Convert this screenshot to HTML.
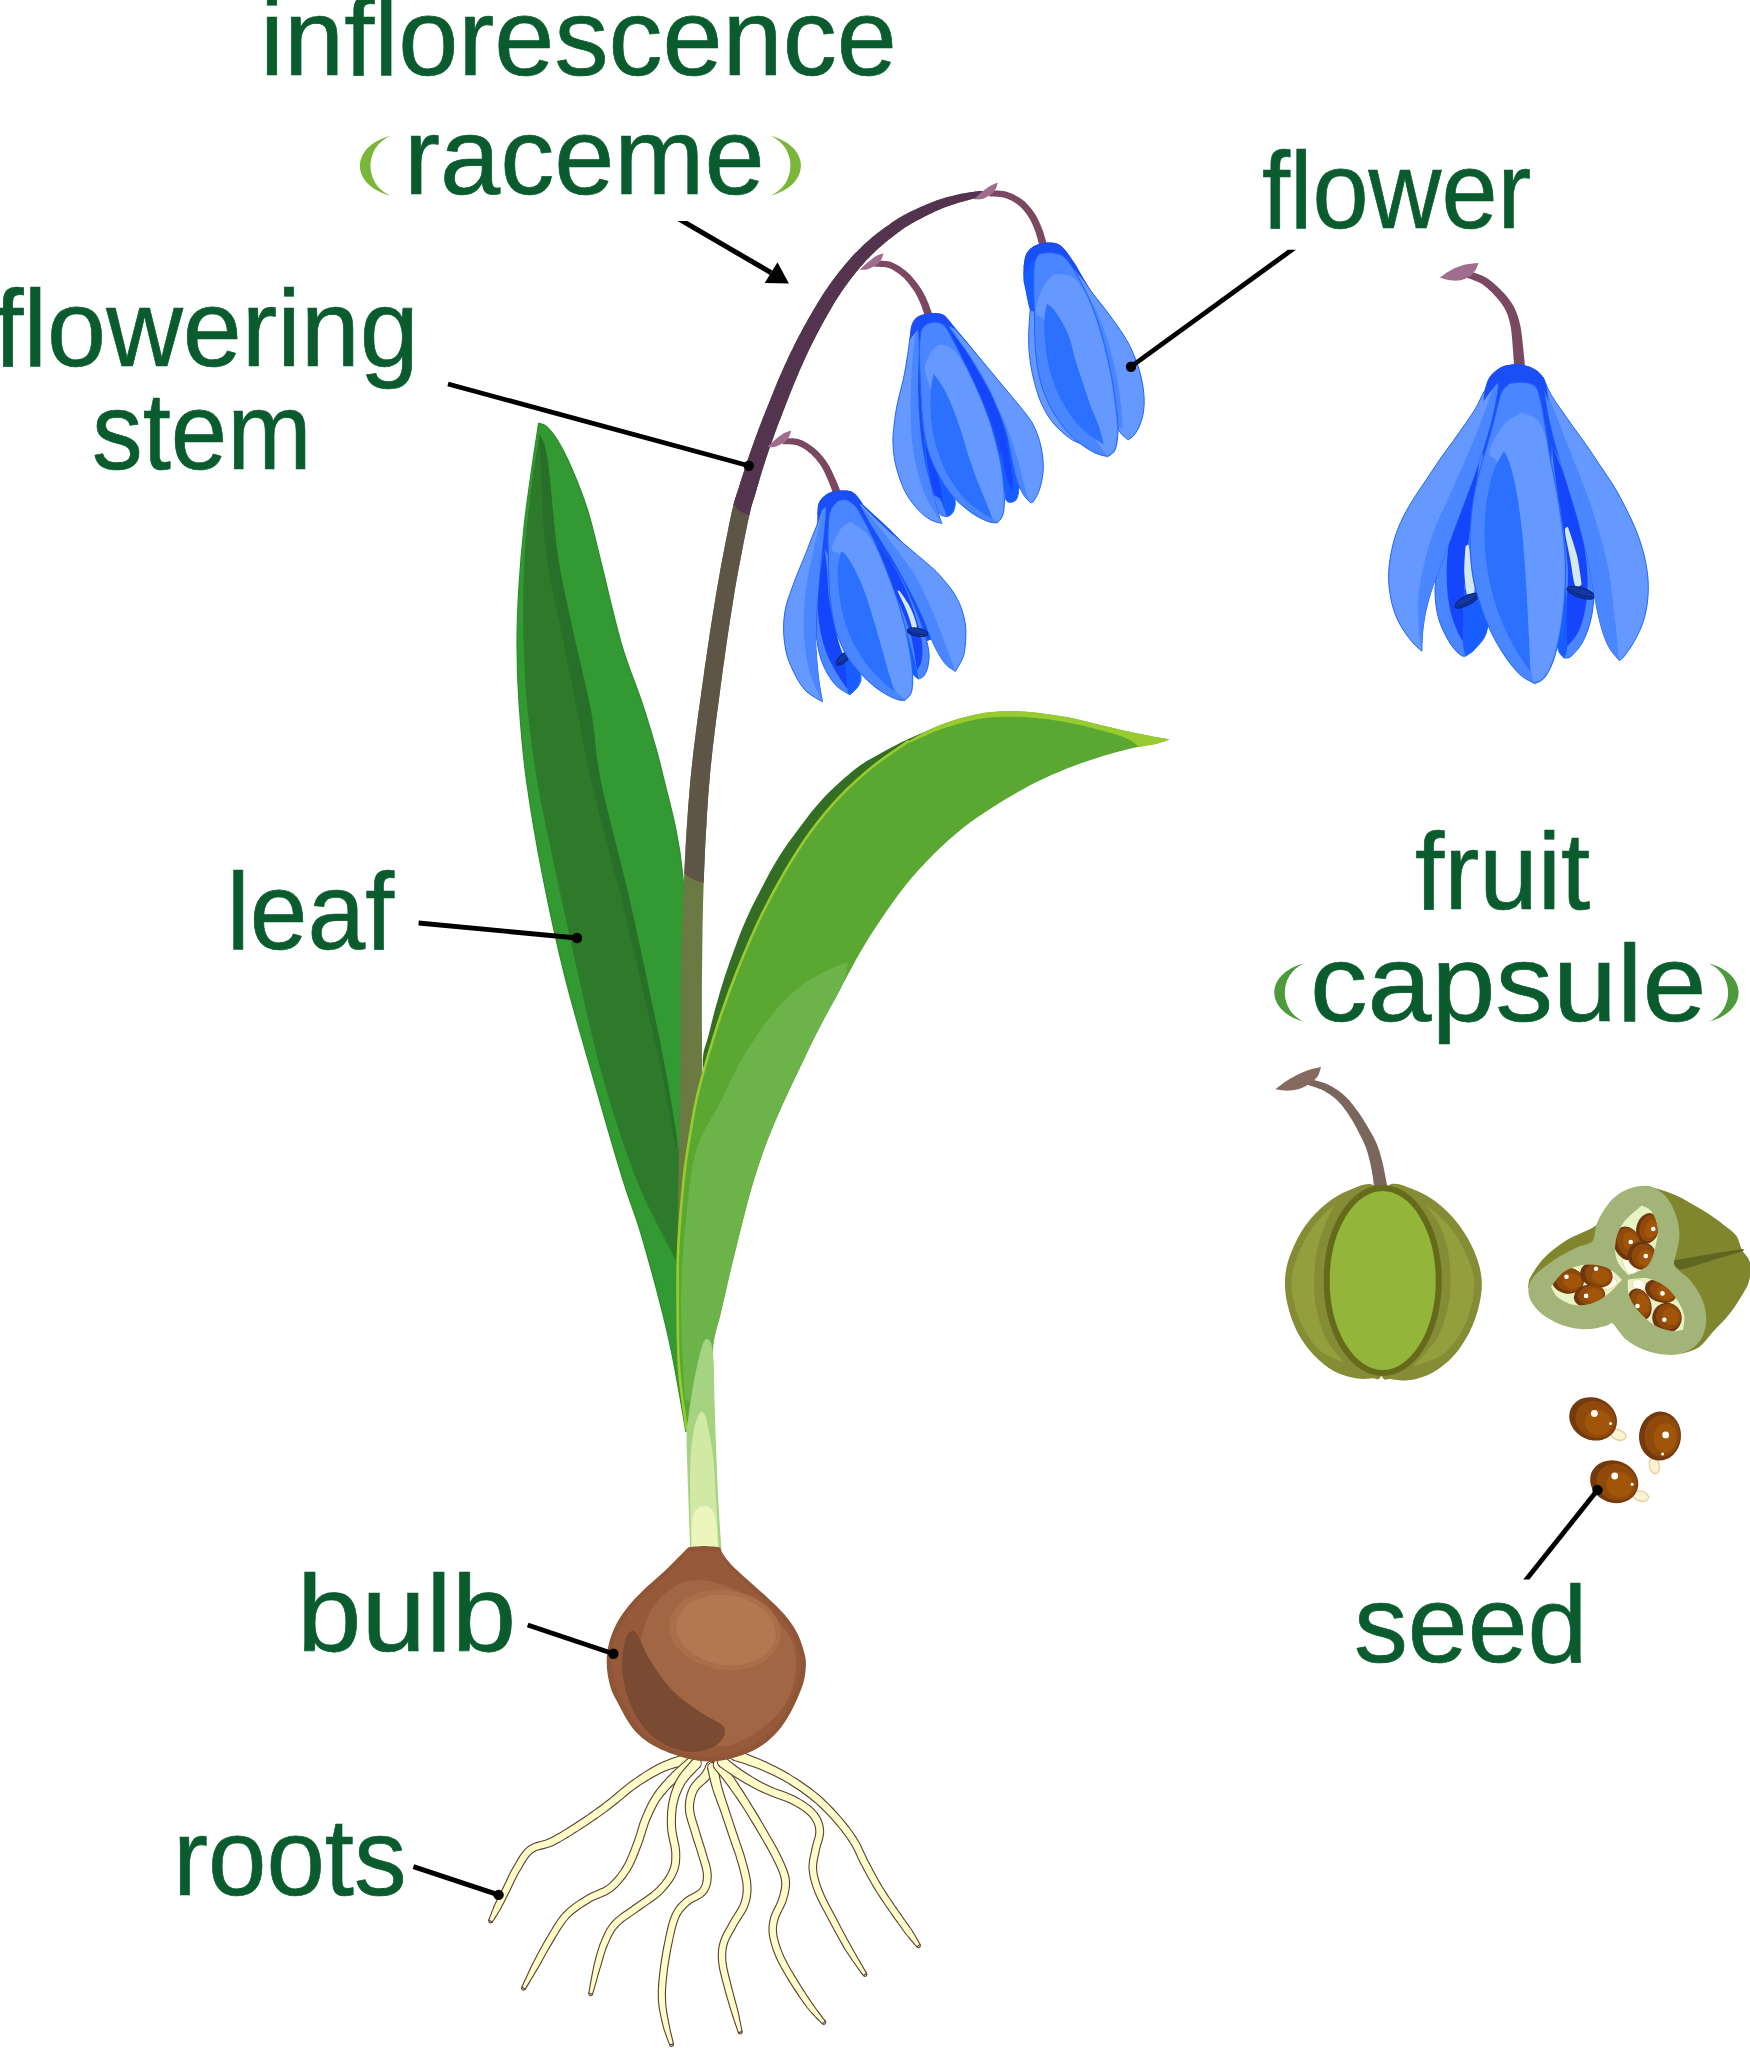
<!DOCTYPE html>
<html><head><meta charset="utf-8"><title>Parts of plant</title>
<style>
html,body{margin:0;padding:0;background:#fff;}
body{width:1750px;height:2048px;overflow:hidden;font-family:"Liberation Sans",sans-serif;}
svg{display:block;}
text{font-family:"Liberation Sans",sans-serif;fill:#0a5c2e;}
</style></head><body>
<svg width="1750" height="2048" viewBox="0 0 1750 2048">
<g id="leftleaf">
<path d="M686,1432C683.2,1416.7 676.3,1372.5 669,1340C661.7,1307.5 649.7,1263.7 642,1237C634.3,1210.3 631.4,1207.3 623,1180C614.6,1152.7 601.5,1107.2 591.8,1073C582,1038.8 572.6,1007.5 564.5,975C556.4,942.5 549.4,910.2 543,877.7C536.6,845.2 530.4,809.2 526.4,780C522.4,750.8 520.6,725.4 519,702.7C517.4,680 517,663.5 517,644C517,624.5 517.8,605 519,585.5C520.2,566 521.9,546.5 524,527C526.1,507.5 529.4,485.7 531.8,468.4C534.2,451.1 537.5,430.9 538.6,423.4C539.9,423.9 543.2,423.5 546.4,426.4C549.6,429.3 553.8,434 558,441C562.2,448 566.9,457 571.8,468.4C576.7,479.8 582.5,493.8 587.4,509.4C592.3,525 596.8,545.1 601,562C605.2,578.9 608.9,595.7 612.8,611C616.7,626.3 619.6,638.7 624.5,654C629.4,669.3 636.8,687.1 642,702.7C647.2,718.3 652.1,734.8 655.8,747.7C659.5,760.6 660.7,766.5 664,780C667.3,793.5 672.7,813.2 675.8,828.8C678.9,844.4 680.6,853.5 682.6,873.8C684.6,894 686.4,912.3 688,950C689.6,987.7 691.7,1050 692,1100C692.3,1150 690.8,1208.3 690,1250C689.2,1291.7 687.7,1319.7 687,1350C686.3,1380.3 686.2,1418.3 686,1432Z" fill="#339933" stroke="#2a8f2a" stroke-width="1.2"/>
<path d="M676.3,1261C669.7,1247.5 649.2,1211.3 636.7,1180C624.2,1148.7 612.1,1110.4 601.6,1073C591.1,1035.6 582.1,991.6 574,955.8C565.9,920 558.9,887.3 552.7,858C546.5,828.7 541.1,804.2 537,780C532.9,755.8 530.1,733.5 527.9,712.5C525.7,691.5 524.8,673.6 524,654C523.2,634.4 523.1,614.5 523.4,595C523.7,575.5 524.3,556.2 525.9,536.7C527.5,517.2 530.4,495.1 532.7,478C535,460.9 538.5,441.3 539.6,434C540.9,438.1 544.3,438.3 547.4,458.6C550.5,478.9 553.6,526.7 558,556C562.4,585.3 568.2,608.3 573.8,634.4C579.3,660.5 586.8,688.2 591.3,712.5C595.8,736.8 594.3,749.2 600.6,780C606.9,810.8 620,858 629,897C638,936 648.1,984.7 654.3,1014C660.5,1043.3 662.4,1053.4 666,1073C669.6,1092.6 673.3,1113.8 675.8,1131.6C678.2,1149.4 680.6,1158.4 680.7,1180C680.8,1201.6 677,1247.5 676.3,1261Z" fill="#2d7a2a"/>
<path d="M676,1150C673.7,1137.2 666.6,1095.7 662,1073C657.4,1050.3 655.2,1043.3 648.4,1014C641.6,984.7 630.6,936 621,897C611.4,858 598,810.8 590.8,780C583.6,749.2 582.5,736.8 577.7,712.5C572.9,688.2 567.2,660.5 562,634.4C556.8,608.3 550,585.3 546.4,556C542.8,526.7 541.6,478.9 540.5,458.6C539.4,438.3 539.8,438.1 539.6,434C540.9,438.1 544.3,438.3 547.4,458.6C550.5,478.9 553.6,526.7 558,556C562.4,585.3 568.2,608.3 573.8,634.4C579.3,660.5 586.8,688.2 591.3,712.5C595.8,736.8 594.3,749.2 600.6,780C606.9,810.8 620,858 629,897C638,936 648.1,984.7 654.3,1014C660.5,1043.3 662.4,1053.4 666,1073C669.6,1092.6 674.1,1118.8 675.8,1131.6C677.5,1144.4 676,1146.9 676,1150Z" fill="#28702a"/>
</g>
<clipPath id="cs1"><path d="M600,0H1100V505Q746,540 735,505L600,505Z"/></clipPath>
<clipPath id="cs2"><path d="M600,480H900V860Q700,905 682,870L600,860Z"/></clipPath>
<path d="M983.7,191.1L983.3,191L982.9,191L982.4,191L981.8,191L981.2,191L980.5,191.1L979.8,191.1L979,191.1L978.1,191.2L977.2,191.3L976.2,191.4L975.2,191.5L974.1,191.7L973,191.9L971.7,192L970.4,192.3L969,192.5L967.5,192.7L966,193L964.5,193.3L963,193.5L961.5,193.8L959.9,194.1L958.4,194.5L956.9,194.8L955.4,195.2L953.9,195.5L952.3,195.9L950.8,196.3L949.2,196.7L947.6,197.1L946,197.5L944.4,198L942.8,198.4L941.2,198.9L939.6,199.5L938,200L936.4,200.6L934.8,201.2L933.2,201.8L931.6,202.4L930,203L928.5,203.7L926.9,204.3L925.3,205L923.8,205.7L922.2,206.3L920.6,207L919.1,207.7L917.5,208.5L915.9,209.2L914.3,210L912.6,210.7L911,211.5L909.4,212.3L907.8,213.1L906.3,213.9L904.7,214.7L903.2,215.6L901.7,216.4L900.3,217.2L898.9,218.1L897.5,218.9L896.2,219.8L894.9,220.6L893.6,221.5L892.4,222.3L891.1,223.2L890,224L888.8,224.9L887.6,225.7L886.4,226.5L885.3,227.3L884.2,228.1L883,229L881.9,229.8L880.8,230.6L879.7,231.4L878.6,232.3L877.5,233.1L876.4,234L875.4,234.8L874.3,235.7L873.1,236.6L872,237.6L870.9,238.5L869.8,239.5L868.6,240.5L867.5,241.5L866.4,242.5L865.2,243.6L864.1,244.6L863,245.6L861.9,246.6L860.9,247.7L859.8,248.7L858.8,249.7L857.8,250.7L856.8,251.7L855.9,252.6L854.9,253.6L854,254.6L853,255.6L852.1,256.6L851.2,257.6L850.2,258.7L849.3,259.7L848.4,260.8L847.4,261.9L846.5,263L845.5,264.1L844.6,265.2L843.6,266.4L842.7,267.5L841.7,268.7L840.8,269.9L839.8,271.1L838.9,272.3L837.9,273.5L837,274.7L836,276L835,277.2L834.1,278.5L833.1,279.8L832.1,281.2L831.2,282.5L830.2,283.8L829.2,285.2L828.3,286.5L827.4,287.9L826.5,289.2L825.6,290.5L824.7,291.8L823.9,293.1L823,294.4L822.2,295.6L821.4,296.9L820.7,298.1L819.9,299.4L819.1,300.6L818.4,301.9L817.6,303.1L816.8,304.4L816.1,305.7L815.3,307L814.5,308.3L813.7,309.6L812.9,310.9L812.2,312.3L811.4,313.6L810.6,315L809.8,316.3L809,317.7L808.2,319.1L807.4,320.5L806.7,321.9L805.9,323.3L805.1,324.7L804.3,326.1L803.5,327.5L802.7,329L801.9,330.4L801.2,331.9L800.4,333.4L799.6,334.8L798.8,336.3L798,337.9L797.2,339.4L796.4,340.9L795.6,342.5L794.8,344.1L794.1,345.7L793.3,347.3L792.5,348.9L791.7,350.5L790.9,352.1L790.1,353.8L789.3,355.4L788.5,357.1L787.8,358.8L787,360.5L786.2,362.2L785.4,363.9L784.6,365.6L783.8,367.4L783,369.1L782.3,370.9L781.5,372.7L780.7,374.5L779.9,376.3L779.1,378.1L778.3,380L777.5,381.8L776.7,383.7L776,385.6L775.2,387.6L774.4,389.5L773.6,391.5L772.8,393.4L772,395.4L771.2,397.3L770.5,399.2L769.7,401.1L769,402.9L768.3,404.7L767.5,406.5L766.8,408.2L766.1,409.9L765.4,411.7L764.7,413.4L764.1,415.1L763.4,416.8L762.7,418.6L762,420.4L761.3,422.2L760.6,424L759.9,425.9L759.1,427.8L758.4,429.7L757.7,431.7L757,433.7L756.2,435.6L755.5,437.6L754.8,439.5L754.1,441.5L753.4,443.4L752.8,445.2L752.1,447L751.5,448.7L750.9,450.4L750.4,452L749.8,453.6L749.2,455.2L748.7,456.8L748.2,458.3L747.7,459.9L747.1,461.5L746.6,463.1L746.1,464.7L745.5,466.4L745,468L744.4,469.7L743.9,471.4L743.4,473.1L742.8,474.8L742.3,476.5L741.7,478.2L741.2,480L740.6,481.8L740.1,483.7L739.5,485.6L738.9,487.5L738.4,489.3L737.9,490.8L737.4,492.3L736.8,493.8L736.3,495.5L735.7,497.3L735,499.3L734.4,501.7L733.6,504.3L732.9,507.4L732,511L731.1,515.1L730.1,519.8L729,525L727.9,530.7L726.7,536.7L725.4,543.2L724.1,549.9L722.8,556.8L721.4,564L720.1,571.3L718.8,578.7L717.5,586.1L716.2,593.5L715,601.1L713.7,608.9L712.4,617L711.1,625.2L709.8,633.6L708.6,642.1L707.3,650.6L706.1,659.1L704.8,667.5L703.7,675.8L702.5,683.9L701.4,691.8L700.4,699.4L699.3,706.8L698.3,714.1L697.3,721.2L696.4,728.3L695.5,735.4L694.6,742.5L693.7,749.6L692.9,756.8L692.1,764.1L691.3,771.5L690.5,779.2L689.8,786.9L689.2,794.8L688.5,802.8L687.9,810.9L687.4,819L686.8,827.2L686.3,835.5L685.8,843.7L685.4,852L684.9,860.2L684.5,868.4L684.1,876.6L683.7,884.6L683.4,892.6L683,900.5L682.7,908.3L682.5,916.1L682.2,924L682,932L681.8,940.1L681.6,948.4L681.4,956.9L681.2,965.7L681,974.9L680.9,984.5L680.7,994.5L680.6,1004.9L680.6,1015.6L680.5,1026.4L680.5,1037.4L680.4,1048.3L680.4,1059.2L680.3,1069.8L680.2,1080.2L680.1,1090.3L680,1099.9L679.9,1109.1L679.7,1117.9L679.6,1126.5L679.4,1134.9L679.2,1143.2L679,1151.3L678.8,1159.3L678.7,1167.3L678.5,1175.3L678.3,1183.4L678.1,1191.5L678,1199.8L677.9,1208.5L677.8,1217.7L677.7,1227.2L677.6,1236.9L677.5,1246.6L677.4,1256.2L677.3,1265.3L677.2,1274L677.2,1281.9L677.1,1289L677,1295.1L677,1299.9L699,1300.1L699,1295.3L699.1,1289.2L699.2,1282.1L699.2,1274.2L699.3,1265.5L699.4,1256.3L699.5,1246.8L699.6,1237.1L699.7,1227.5L699.8,1218L699.9,1208.8L700,1200.2L700.1,1191.9L700.3,1183.8L700.5,1175.8L700.6,1167.8L700.8,1159.9L701,1151.8L701.2,1143.7L701.4,1135.4L701.6,1127L701.7,1118.3L701.9,1109.4L702,1100.1L702,1090.5L702.1,1080.4L702.1,1069.9L702,1059.2L702,1048.3L702,1037.4L701.9,1026.4L701.9,1015.6L701.9,1005L701.9,994.6L701.9,984.6L702,975.1L702.1,966L702.2,957.3L702.3,948.8L702.4,940.5L702.5,932.4L702.6,924.5L702.8,916.7L702.9,908.9L703.1,901.1L703.4,893.3L703.6,885.4L703.9,877.4L704.2,869.3L704.6,861.1L704.9,852.9L705.3,844.7L705.7,836.6L706.2,828.4L706.7,820.3L707.1,812.2L707.7,804.2L708.2,796.3L708.8,788.5L709.5,780.8L710.1,773.3L710.8,766L711.6,758.8L712.3,751.7L713.1,744.7L714,737.7L714.8,730.7L715.7,723.7L716.6,716.5L717.6,709.3L718.6,701.8L719.6,694.2L720.6,686.4L721.7,678.3L722.8,670.1L724,661.7L725.2,653.2L726.4,644.7L727.6,636.3L728.9,627.9L730.1,619.7L731.4,611.7L732.6,603.9L733.8,596.5L735,589.1L736.3,581.8L737.6,574.5L738.9,567.2L740.3,560.2L741.6,553.2L742.9,546.6L744.1,540.2L745.3,534.2L746.5,528.6L747.5,523.5L748.5,518.9L749.4,514.9L750.1,511.5L750.8,508.7L751.4,506.3L752,504.3L752.5,502.6L753,501L753.5,499.5L754,497.9L754.6,496.3L755.1,494.5L755.7,492.5L756.3,490.5L756.8,488.6L757.3,486.8L757.9,485L758.4,483.2L758.9,481.5L759.4,479.8L759.9,478.2L760.4,476.5L760.9,474.9L761.4,473.2L761.9,471.6L762.4,469.9L762.9,468.3L763.4,466.8L763.9,465.2L764.4,463.7L764.9,462.2L765.4,460.6L765.9,459.1L766.4,457.5L767,455.9L767.5,454.3L768.1,452.5L768.7,450.8L769.3,448.9L770,447.1L770.6,445.2L771.3,443.2L772,441.3L772.7,439.3L773.4,437.4L774.1,435.5L774.8,433.5L775.4,431.7L776.1,429.8L776.8,428L777.4,426.3L778.1,424.6L778.7,422.8L779.4,421.1L780.1,419.4L780.7,417.7L781.4,416L782.1,414.3L782.7,412.5L783.4,410.7L784.1,408.9L784.9,407L785.6,405.1L786.3,403.2L787.1,401.3L787.8,399.4L788.6,397.4L789.3,395.5L790.1,393.6L790.9,391.7L791.6,389.8L792.4,387.9L793.1,386.1L793.8,384.3L794.6,382.5L795.3,380.7L796.1,378.9L796.8,377.2L797.5,375.4L798.3,373.7L799,372L799.7,370.3L800.5,368.6L801.2,366.9L802,365.2L802.7,363.6L803.4,361.9L804.2,360.3L804.9,358.7L805.6,357.1L806.4,355.5L807.1,353.9L807.9,352.3L808.6,350.8L809.3,349.2L810.1,347.7L810.8,346.2L811.5,344.7L812.3,343.2L813,341.8L813.7,340.3L814.5,338.9L815.2,337.4L815.9,336L816.7,334.6L817.4,333.2L818.2,331.8L818.9,330.4L819.6,329L820.4,327.6L821.1,326.2L821.8,324.9L822.6,323.5L823.3,322.2L824.1,320.8L824.8,319.5L825.5,318.2L826.3,316.9L827,315.6L827.8,314.3L828.5,313L829.2,311.7L830,310.4L830.7,309.2L831.4,307.9L832.1,306.7L832.8,305.5L833.5,304.3L834.3,303.1L835,301.8L835.7,300.6L836.5,299.4L837.3,298.2L838.1,296.9L838.9,295.7L839.8,294.4L840.7,293.1L841.5,291.8L842.4,290.5L843.3,289.2L844.2,287.9L845.2,286.6L846.1,285.3L847,284.1L847.8,282.9L848.7,281.7L849.6,280.5L850.5,279.3L851.4,278.2L852.2,277L853.1,275.9L854,274.8L854.9,273.7L855.8,272.6L856.6,271.5L857.5,270.4L858.4,269.4L859.3,268.3L860.1,267.3L861,266.3L861.8,265.4L862.7,264.4L863.5,263.4L864.4,262.5L865.2,261.5L866.1,260.6L867,259.6L867.9,258.7L868.9,257.7L869.8,256.7L870.8,255.7L871.8,254.7L872.8,253.7L873.9,252.7L874.9,251.7L875.9,250.7L877,249.8L878,248.8L879.1,247.8L880.1,246.9L881.1,246L882.2,245.1L883.2,244.2L884.2,243.4L885.1,242.6L886.1,241.7L887.1,240.9L888.1,240.1L889.2,239.3L890.2,238.5L891.3,237.7L892.3,236.9L893.4,236L894.6,235.2L895.7,234.3L896.8,233.4L897.9,232.6L899.1,231.7L900.2,230.9L901.4,230.1L902.5,229.2L903.7,228.4L904.9,227.6L906.2,226.8L907.4,226L908.7,225.2L910.1,224.4L911.5,223.6L913,222.7L914.4,221.9L915.9,221.1L917.5,220.3L919,219.5L920.5,218.7L922,217.9L923.6,217.1L925.1,216.3L926.6,215.6L928,214.9L929.5,214.1L931,213.4L932.5,212.7L934,212L935.4,211.3L936.9,210.7L938.4,210L939.8,209.4L941.3,208.8L942.7,208.2L944.2,207.6L945.7,207.1L947.1,206.5L948.6,206L950.1,205.5L951.6,205L953.1,204.5L954.6,204L956.1,203.5L957.6,203.1L959,202.6L960.4,202.2L961.8,201.8L963.3,201.4L964.7,201L966.2,200.6L967.6,200.2L969,199.8L970.4,199.5L971.8,199.1L973.1,198.8L974.3,198.5L975.5,198.2L976.6,197.9L977.5,197.6L978.4,197.3L979.3,197L980.1,196.7L980.8,196.5L981.5,196.2L982.2,196L982.7,195.8L983.3,195.6L983.7,195.4L984.1,195.2L984.5,195Z" fill="#6b7a42"/>
<path d="M983.7,191.1L983.3,191L982.9,191L982.4,191L981.8,191L981.2,191L980.5,191.1L979.8,191.1L979,191.1L978.1,191.2L977.2,191.3L976.2,191.4L975.2,191.5L974.1,191.7L973,191.9L971.7,192L970.4,192.3L969,192.5L967.5,192.7L966,193L964.5,193.3L963,193.5L961.5,193.8L959.9,194.1L958.4,194.5L956.9,194.8L955.4,195.2L953.9,195.5L952.3,195.9L950.8,196.3L949.2,196.7L947.6,197.1L946,197.5L944.4,198L942.8,198.4L941.2,198.9L939.6,199.5L938,200L936.4,200.6L934.8,201.2L933.2,201.8L931.6,202.4L930,203L928.5,203.7L926.9,204.3L925.3,205L923.8,205.7L922.2,206.3L920.6,207L919.1,207.7L917.5,208.5L915.9,209.2L914.3,210L912.6,210.7L911,211.5L909.4,212.3L907.8,213.1L906.3,213.9L904.7,214.7L903.2,215.6L901.7,216.4L900.3,217.2L898.9,218.1L897.5,218.9L896.2,219.8L894.9,220.6L893.6,221.5L892.4,222.3L891.1,223.2L890,224L888.8,224.9L887.6,225.7L886.4,226.5L885.3,227.3L884.2,228.1L883,229L881.9,229.8L880.8,230.6L879.7,231.4L878.6,232.3L877.5,233.1L876.4,234L875.4,234.8L874.3,235.7L873.1,236.6L872,237.6L870.9,238.5L869.8,239.5L868.6,240.5L867.5,241.5L866.4,242.5L865.2,243.6L864.1,244.6L863,245.6L861.9,246.6L860.9,247.7L859.8,248.7L858.8,249.7L857.8,250.7L856.8,251.7L855.9,252.6L854.9,253.6L854,254.6L853,255.6L852.1,256.6L851.2,257.6L850.2,258.7L849.3,259.7L848.4,260.8L847.4,261.9L846.5,263L845.5,264.1L844.6,265.2L843.6,266.4L842.7,267.5L841.7,268.7L840.8,269.9L839.8,271.1L838.9,272.3L837.9,273.5L837,274.7L836,276L835,277.2L834.1,278.5L833.1,279.8L832.1,281.2L831.2,282.5L830.2,283.8L829.2,285.2L828.3,286.5L827.4,287.9L826.5,289.2L825.6,290.5L824.7,291.8L823.9,293.1L823,294.4L822.2,295.6L821.4,296.9L820.7,298.1L819.9,299.4L819.1,300.6L818.4,301.9L817.6,303.1L816.8,304.4L816.1,305.7L815.3,307L814.5,308.3L813.7,309.6L812.9,310.9L812.2,312.3L811.4,313.6L810.6,315L809.8,316.3L809,317.7L808.2,319.1L807.4,320.5L806.7,321.9L805.9,323.3L805.1,324.7L804.3,326.1L803.5,327.5L802.7,329L801.9,330.4L801.2,331.9L800.4,333.4L799.6,334.8L798.8,336.3L798,337.9L797.2,339.4L796.4,340.9L795.6,342.5L794.8,344.1L794.1,345.7L793.3,347.3L792.5,348.9L791.7,350.5L790.9,352.1L790.1,353.8L789.3,355.4L788.5,357.1L787.8,358.8L787,360.5L786.2,362.2L785.4,363.9L784.6,365.6L783.8,367.4L783,369.1L782.3,370.9L781.5,372.7L780.7,374.5L779.9,376.3L779.1,378.1L778.3,380L777.5,381.8L776.7,383.7L776,385.6L775.2,387.6L774.4,389.5L773.6,391.5L772.8,393.4L772,395.4L771.2,397.3L770.5,399.2L769.7,401.1L769,402.9L768.3,404.7L767.5,406.5L766.8,408.2L766.1,409.9L765.4,411.7L764.7,413.4L764.1,415.1L763.4,416.8L762.7,418.6L762,420.4L761.3,422.2L760.6,424L759.9,425.9L759.1,427.8L758.4,429.7L757.7,431.7L757,433.7L756.2,435.6L755.5,437.6L754.8,439.5L754.1,441.5L753.4,443.4L752.8,445.2L752.1,447L751.5,448.7L750.9,450.4L750.4,452L749.8,453.6L749.2,455.2L748.7,456.8L748.2,458.3L747.7,459.9L747.1,461.5L746.6,463.1L746.1,464.7L745.5,466.4L745,468L744.4,469.7L743.9,471.4L743.4,473.1L742.8,474.8L742.3,476.5L741.7,478.2L741.2,480L740.6,481.8L740.1,483.7L739.5,485.6L738.9,487.5L738.4,489.3L737.9,490.8L737.4,492.3L736.8,493.8L736.3,495.5L735.7,497.3L735,499.3L734.4,501.7L733.6,504.3L732.9,507.4L732,511L731.1,515.1L730.1,519.8L729,525L727.9,530.7L726.7,536.7L725.4,543.2L724.1,549.9L722.8,556.8L721.4,564L720.1,571.3L718.8,578.7L717.5,586.1L716.2,593.5L715,601.1L713.7,608.9L712.4,617L711.1,625.2L709.8,633.6L708.6,642.1L707.3,650.6L706.1,659.1L704.8,667.5L703.7,675.8L702.5,683.9L701.4,691.8L700.4,699.4L699.3,706.8L698.3,714.1L697.3,721.2L696.4,728.3L695.5,735.4L694.6,742.5L693.7,749.6L692.9,756.8L692.1,764.1L691.3,771.5L690.5,779.2L689.8,786.9L689.2,794.8L688.5,802.8L687.9,810.9L687.4,819L686.8,827.2L686.3,835.5L685.8,843.7L685.4,852L684.9,860.2L684.5,868.4L684.1,876.6L683.7,884.6L683.4,892.6L683,900.5L682.7,908.3L682.5,916.1L682.2,924L682,932L681.8,940.1L681.6,948.4L681.4,956.9L681.2,965.7L681,974.9L680.9,984.5L680.7,994.5L680.6,1004.9L680.6,1015.6L680.5,1026.4L680.5,1037.4L680.4,1048.3L680.4,1059.2L680.3,1069.8L680.2,1080.2L680.1,1090.3L680,1099.9L679.9,1109.1L679.7,1117.9L679.6,1126.5L679.4,1134.9L679.2,1143.2L679,1151.3L678.8,1159.3L678.7,1167.3L678.5,1175.3L678.3,1183.4L678.1,1191.5L678,1199.8L677.9,1208.5L677.8,1217.7L677.7,1227.2L677.6,1236.9L677.5,1246.6L677.4,1256.2L677.3,1265.3L677.2,1274L677.2,1281.9L677.1,1289L677,1295.1L677,1299.9L699,1300.1L699,1295.3L699.1,1289.2L699.2,1282.1L699.2,1274.2L699.3,1265.5L699.4,1256.3L699.5,1246.8L699.6,1237.1L699.7,1227.5L699.8,1218L699.9,1208.8L700,1200.2L700.1,1191.9L700.3,1183.8L700.5,1175.8L700.6,1167.8L700.8,1159.9L701,1151.8L701.2,1143.7L701.4,1135.4L701.6,1127L701.7,1118.3L701.9,1109.4L702,1100.1L702,1090.5L702.1,1080.4L702.1,1069.9L702,1059.2L702,1048.3L702,1037.4L701.9,1026.4L701.9,1015.6L701.9,1005L701.9,994.6L701.9,984.6L702,975.1L702.1,966L702.2,957.3L702.3,948.8L702.4,940.5L702.5,932.4L702.6,924.5L702.8,916.7L702.9,908.9L703.1,901.1L703.4,893.3L703.6,885.4L703.9,877.4L704.2,869.3L704.6,861.1L704.9,852.9L705.3,844.7L705.7,836.6L706.2,828.4L706.7,820.3L707.1,812.2L707.7,804.2L708.2,796.3L708.8,788.5L709.5,780.8L710.1,773.3L710.8,766L711.6,758.8L712.3,751.7L713.1,744.7L714,737.7L714.8,730.7L715.7,723.7L716.6,716.5L717.6,709.3L718.6,701.8L719.6,694.2L720.6,686.4L721.7,678.3L722.8,670.1L724,661.7L725.2,653.2L726.4,644.7L727.6,636.3L728.9,627.9L730.1,619.7L731.4,611.7L732.6,603.9L733.8,596.5L735,589.1L736.3,581.8L737.6,574.5L738.9,567.2L740.3,560.2L741.6,553.2L742.9,546.6L744.1,540.2L745.3,534.2L746.5,528.6L747.5,523.5L748.5,518.9L749.4,514.9L750.1,511.5L750.8,508.7L751.4,506.3L752,504.3L752.5,502.6L753,501L753.5,499.5L754,497.9L754.6,496.3L755.1,494.5L755.7,492.5L756.3,490.5L756.8,488.6L757.3,486.8L757.9,485L758.4,483.2L758.9,481.5L759.4,479.8L759.9,478.2L760.4,476.5L760.9,474.9L761.4,473.2L761.9,471.6L762.4,469.9L762.9,468.3L763.4,466.8L763.9,465.2L764.4,463.7L764.9,462.2L765.4,460.6L765.9,459.1L766.4,457.5L767,455.9L767.5,454.3L768.1,452.5L768.7,450.8L769.3,448.9L770,447.1L770.6,445.2L771.3,443.2L772,441.3L772.7,439.3L773.4,437.4L774.1,435.5L774.8,433.5L775.4,431.7L776.1,429.8L776.8,428L777.4,426.3L778.1,424.6L778.7,422.8L779.4,421.1L780.1,419.4L780.7,417.7L781.4,416L782.1,414.3L782.7,412.5L783.4,410.7L784.1,408.9L784.9,407L785.6,405.1L786.3,403.2L787.1,401.3L787.8,399.4L788.6,397.4L789.3,395.5L790.1,393.6L790.9,391.7L791.6,389.8L792.4,387.9L793.1,386.1L793.8,384.3L794.6,382.5L795.3,380.7L796.1,378.9L796.8,377.2L797.5,375.4L798.3,373.7L799,372L799.7,370.3L800.5,368.6L801.2,366.9L802,365.2L802.7,363.6L803.4,361.9L804.2,360.3L804.9,358.7L805.6,357.1L806.4,355.5L807.1,353.9L807.9,352.3L808.6,350.8L809.3,349.2L810.1,347.7L810.8,346.2L811.5,344.7L812.3,343.2L813,341.8L813.7,340.3L814.5,338.9L815.2,337.4L815.9,336L816.7,334.6L817.4,333.2L818.2,331.8L818.9,330.4L819.6,329L820.4,327.6L821.1,326.2L821.8,324.9L822.6,323.5L823.3,322.2L824.1,320.8L824.8,319.5L825.5,318.2L826.3,316.9L827,315.6L827.8,314.3L828.5,313L829.2,311.7L830,310.4L830.7,309.2L831.4,307.9L832.1,306.7L832.8,305.5L833.5,304.3L834.3,303.1L835,301.8L835.7,300.6L836.5,299.4L837.3,298.2L838.1,296.9L838.9,295.7L839.8,294.4L840.7,293.1L841.5,291.8L842.4,290.5L843.3,289.2L844.2,287.9L845.2,286.6L846.1,285.3L847,284.1L847.8,282.9L848.7,281.7L849.6,280.5L850.5,279.3L851.4,278.2L852.2,277L853.1,275.9L854,274.8L854.9,273.7L855.8,272.6L856.6,271.5L857.5,270.4L858.4,269.4L859.3,268.3L860.1,267.3L861,266.3L861.8,265.4L862.7,264.4L863.5,263.4L864.4,262.5L865.2,261.5L866.1,260.6L867,259.6L867.9,258.7L868.9,257.7L869.8,256.7L870.8,255.7L871.8,254.7L872.8,253.7L873.9,252.7L874.9,251.7L875.9,250.7L877,249.8L878,248.8L879.1,247.8L880.1,246.9L881.1,246L882.2,245.1L883.2,244.2L884.2,243.4L885.1,242.6L886.1,241.7L887.1,240.9L888.1,240.1L889.2,239.3L890.2,238.5L891.3,237.7L892.3,236.9L893.4,236L894.6,235.2L895.7,234.3L896.8,233.4L897.9,232.6L899.1,231.7L900.2,230.9L901.4,230.1L902.5,229.2L903.7,228.4L904.9,227.6L906.2,226.8L907.4,226L908.7,225.2L910.1,224.4L911.5,223.6L913,222.7L914.4,221.9L915.9,221.1L917.5,220.3L919,219.5L920.5,218.7L922,217.9L923.6,217.1L925.1,216.3L926.6,215.6L928,214.9L929.5,214.1L931,213.4L932.5,212.7L934,212L935.4,211.3L936.9,210.7L938.4,210L939.8,209.4L941.3,208.8L942.7,208.2L944.2,207.6L945.7,207.1L947.1,206.5L948.6,206L950.1,205.5L951.6,205L953.1,204.5L954.6,204L956.1,203.5L957.6,203.1L959,202.6L960.4,202.2L961.8,201.8L963.3,201.4L964.7,201L966.2,200.6L967.6,200.2L969,199.8L970.4,199.5L971.8,199.1L973.1,198.8L974.3,198.5L975.5,198.2L976.6,197.9L977.5,197.6L978.4,197.3L979.3,197L980.1,196.7L980.8,196.5L981.5,196.2L982.2,196L982.7,195.8L983.3,195.6L983.7,195.4L984.1,195.2L984.5,195Z" fill="#5e5546" clip-path="url(#cs2)"/>
<path d="M983.7,191.1L983.3,191L982.9,191L982.4,191L981.8,191L981.2,191L980.5,191.1L979.8,191.1L979,191.1L978.1,191.2L977.2,191.3L976.2,191.4L975.2,191.5L974.1,191.7L973,191.9L971.7,192L970.4,192.3L969,192.5L967.5,192.7L966,193L964.5,193.3L963,193.5L961.5,193.8L959.9,194.1L958.4,194.5L956.9,194.8L955.4,195.2L953.9,195.5L952.3,195.9L950.8,196.3L949.2,196.7L947.6,197.1L946,197.5L944.4,198L942.8,198.4L941.2,198.9L939.6,199.5L938,200L936.4,200.6L934.8,201.2L933.2,201.8L931.6,202.4L930,203L928.5,203.7L926.9,204.3L925.3,205L923.8,205.7L922.2,206.3L920.6,207L919.1,207.7L917.5,208.5L915.9,209.2L914.3,210L912.6,210.7L911,211.5L909.4,212.3L907.8,213.1L906.3,213.9L904.7,214.7L903.2,215.6L901.7,216.4L900.3,217.2L898.9,218.1L897.5,218.9L896.2,219.8L894.9,220.6L893.6,221.5L892.4,222.3L891.1,223.2L890,224L888.8,224.9L887.6,225.7L886.4,226.5L885.3,227.3L884.2,228.1L883,229L881.9,229.8L880.8,230.6L879.7,231.4L878.6,232.3L877.5,233.1L876.4,234L875.4,234.8L874.3,235.7L873.1,236.6L872,237.6L870.9,238.5L869.8,239.5L868.6,240.5L867.5,241.5L866.4,242.5L865.2,243.6L864.1,244.6L863,245.6L861.9,246.6L860.9,247.7L859.8,248.7L858.8,249.7L857.8,250.7L856.8,251.7L855.9,252.6L854.9,253.6L854,254.6L853,255.6L852.1,256.6L851.2,257.6L850.2,258.7L849.3,259.7L848.4,260.8L847.4,261.9L846.5,263L845.5,264.1L844.6,265.2L843.6,266.4L842.7,267.5L841.7,268.7L840.8,269.9L839.8,271.1L838.9,272.3L837.9,273.5L837,274.7L836,276L835,277.2L834.1,278.5L833.1,279.8L832.1,281.2L831.2,282.5L830.2,283.8L829.2,285.2L828.3,286.5L827.4,287.9L826.5,289.2L825.6,290.5L824.7,291.8L823.9,293.1L823,294.4L822.2,295.6L821.4,296.9L820.7,298.1L819.9,299.4L819.1,300.6L818.4,301.9L817.6,303.1L816.8,304.4L816.1,305.7L815.3,307L814.5,308.3L813.7,309.6L812.9,310.9L812.2,312.3L811.4,313.6L810.6,315L809.8,316.3L809,317.7L808.2,319.1L807.4,320.5L806.7,321.9L805.9,323.3L805.1,324.7L804.3,326.1L803.5,327.5L802.7,329L801.9,330.4L801.2,331.9L800.4,333.4L799.6,334.8L798.8,336.3L798,337.9L797.2,339.4L796.4,340.9L795.6,342.5L794.8,344.1L794.1,345.7L793.3,347.3L792.5,348.9L791.7,350.5L790.9,352.1L790.1,353.8L789.3,355.4L788.5,357.1L787.8,358.8L787,360.5L786.2,362.2L785.4,363.9L784.6,365.6L783.8,367.4L783,369.1L782.3,370.9L781.5,372.7L780.7,374.5L779.9,376.3L779.1,378.1L778.3,380L777.5,381.8L776.7,383.7L776,385.6L775.2,387.6L774.4,389.5L773.6,391.5L772.8,393.4L772,395.4L771.2,397.3L770.5,399.2L769.7,401.1L769,402.9L768.3,404.7L767.5,406.5L766.8,408.2L766.1,409.9L765.4,411.7L764.7,413.4L764.1,415.1L763.4,416.8L762.7,418.6L762,420.4L761.3,422.2L760.6,424L759.9,425.9L759.1,427.8L758.4,429.7L757.7,431.7L757,433.7L756.2,435.6L755.5,437.6L754.8,439.5L754.1,441.5L753.4,443.4L752.8,445.2L752.1,447L751.5,448.7L750.9,450.4L750.4,452L749.8,453.6L749.2,455.2L748.7,456.8L748.2,458.3L747.7,459.9L747.1,461.5L746.6,463.1L746.1,464.7L745.5,466.4L745,468L744.4,469.7L743.9,471.4L743.4,473.1L742.8,474.8L742.3,476.5L741.7,478.2L741.2,480L740.6,481.8L740.1,483.7L739.5,485.6L738.9,487.5L738.4,489.3L737.9,490.8L737.4,492.3L736.8,493.8L736.3,495.5L735.7,497.3L735,499.3L734.4,501.7L733.6,504.3L732.9,507.4L732,511L731.1,515.1L730.1,519.8L729,525L727.9,530.7L726.7,536.7L725.4,543.2L724.1,549.9L722.8,556.8L721.4,564L720.1,571.3L718.8,578.7L717.5,586.1L716.2,593.5L715,601.1L713.7,608.9L712.4,617L711.1,625.2L709.8,633.6L708.6,642.1L707.3,650.6L706.1,659.1L704.8,667.5L703.7,675.8L702.5,683.9L701.4,691.8L700.4,699.4L699.3,706.8L698.3,714.1L697.3,721.2L696.4,728.3L695.5,735.4L694.6,742.5L693.7,749.6L692.9,756.8L692.1,764.1L691.3,771.5L690.5,779.2L689.8,786.9L689.2,794.8L688.5,802.8L687.9,810.9L687.4,819L686.8,827.2L686.3,835.5L685.8,843.7L685.4,852L684.9,860.2L684.5,868.4L684.1,876.6L683.7,884.6L683.4,892.6L683,900.5L682.7,908.3L682.5,916.1L682.2,924L682,932L681.8,940.1L681.6,948.4L681.4,956.9L681.2,965.7L681,974.9L680.9,984.5L680.7,994.5L680.6,1004.9L680.6,1015.6L680.5,1026.4L680.5,1037.4L680.4,1048.3L680.4,1059.2L680.3,1069.8L680.2,1080.2L680.1,1090.3L680,1099.9L679.9,1109.1L679.7,1117.9L679.6,1126.5L679.4,1134.9L679.2,1143.2L679,1151.3L678.8,1159.3L678.7,1167.3L678.5,1175.3L678.3,1183.4L678.1,1191.5L678,1199.8L677.9,1208.5L677.8,1217.7L677.7,1227.2L677.6,1236.9L677.5,1246.6L677.4,1256.2L677.3,1265.3L677.2,1274L677.2,1281.9L677.1,1289L677,1295.1L677,1299.9L699,1300.1L699,1295.3L699.1,1289.2L699.2,1282.1L699.2,1274.2L699.3,1265.5L699.4,1256.3L699.5,1246.8L699.6,1237.1L699.7,1227.5L699.8,1218L699.9,1208.8L700,1200.2L700.1,1191.9L700.3,1183.8L700.5,1175.8L700.6,1167.8L700.8,1159.9L701,1151.8L701.2,1143.7L701.4,1135.4L701.6,1127L701.7,1118.3L701.9,1109.4L702,1100.1L702,1090.5L702.1,1080.4L702.1,1069.9L702,1059.2L702,1048.3L702,1037.4L701.9,1026.4L701.9,1015.6L701.9,1005L701.9,994.6L701.9,984.6L702,975.1L702.1,966L702.2,957.3L702.3,948.8L702.4,940.5L702.5,932.4L702.6,924.5L702.8,916.7L702.9,908.9L703.1,901.1L703.4,893.3L703.6,885.4L703.9,877.4L704.2,869.3L704.6,861.1L704.9,852.9L705.3,844.7L705.7,836.6L706.2,828.4L706.7,820.3L707.1,812.2L707.7,804.2L708.2,796.3L708.8,788.5L709.5,780.8L710.1,773.3L710.8,766L711.6,758.8L712.3,751.7L713.1,744.7L714,737.7L714.8,730.7L715.7,723.7L716.6,716.5L717.6,709.3L718.6,701.8L719.6,694.2L720.6,686.4L721.7,678.3L722.8,670.1L724,661.7L725.2,653.2L726.4,644.7L727.6,636.3L728.9,627.9L730.1,619.7L731.4,611.7L732.6,603.9L733.8,596.5L735,589.1L736.3,581.8L737.6,574.5L738.9,567.2L740.3,560.2L741.6,553.2L742.9,546.6L744.1,540.2L745.3,534.2L746.5,528.6L747.5,523.5L748.5,518.9L749.4,514.9L750.1,511.5L750.8,508.7L751.4,506.3L752,504.3L752.5,502.6L753,501L753.5,499.5L754,497.9L754.6,496.3L755.1,494.5L755.7,492.5L756.3,490.5L756.8,488.6L757.3,486.8L757.9,485L758.4,483.2L758.9,481.5L759.4,479.8L759.9,478.2L760.4,476.5L760.9,474.9L761.4,473.2L761.9,471.6L762.4,469.9L762.9,468.3L763.4,466.8L763.9,465.2L764.4,463.7L764.9,462.2L765.4,460.6L765.9,459.1L766.4,457.5L767,455.9L767.5,454.3L768.1,452.5L768.7,450.8L769.3,448.9L770,447.1L770.6,445.2L771.3,443.2L772,441.3L772.7,439.3L773.4,437.4L774.1,435.5L774.8,433.5L775.4,431.7L776.1,429.8L776.8,428L777.4,426.3L778.1,424.6L778.7,422.8L779.4,421.1L780.1,419.4L780.7,417.7L781.4,416L782.1,414.3L782.7,412.5L783.4,410.7L784.1,408.9L784.9,407L785.6,405.1L786.3,403.2L787.1,401.3L787.8,399.4L788.6,397.4L789.3,395.5L790.1,393.6L790.9,391.7L791.6,389.8L792.4,387.9L793.1,386.1L793.8,384.3L794.6,382.5L795.3,380.7L796.1,378.9L796.8,377.2L797.5,375.4L798.3,373.7L799,372L799.7,370.3L800.5,368.6L801.2,366.9L802,365.2L802.7,363.6L803.4,361.9L804.2,360.3L804.9,358.7L805.6,357.1L806.4,355.5L807.1,353.9L807.9,352.3L808.6,350.8L809.3,349.2L810.1,347.7L810.8,346.2L811.5,344.7L812.3,343.2L813,341.8L813.7,340.3L814.5,338.9L815.2,337.4L815.9,336L816.7,334.6L817.4,333.2L818.2,331.8L818.9,330.4L819.6,329L820.4,327.6L821.1,326.2L821.8,324.9L822.6,323.5L823.3,322.2L824.1,320.8L824.8,319.5L825.5,318.2L826.3,316.9L827,315.6L827.8,314.3L828.5,313L829.2,311.7L830,310.4L830.7,309.2L831.4,307.9L832.1,306.7L832.8,305.5L833.5,304.3L834.3,303.1L835,301.8L835.7,300.6L836.5,299.4L837.3,298.2L838.1,296.9L838.9,295.7L839.8,294.4L840.7,293.1L841.5,291.8L842.4,290.5L843.3,289.2L844.2,287.9L845.2,286.6L846.1,285.3L847,284.1L847.8,282.9L848.7,281.7L849.6,280.5L850.5,279.3L851.4,278.2L852.2,277L853.1,275.9L854,274.8L854.9,273.7L855.8,272.6L856.6,271.5L857.5,270.4L858.4,269.4L859.3,268.3L860.1,267.3L861,266.3L861.8,265.4L862.7,264.4L863.5,263.4L864.4,262.5L865.2,261.5L866.1,260.6L867,259.6L867.9,258.7L868.9,257.7L869.8,256.7L870.8,255.7L871.8,254.7L872.8,253.7L873.9,252.7L874.9,251.7L875.9,250.7L877,249.8L878,248.8L879.1,247.8L880.1,246.9L881.1,246L882.2,245.1L883.2,244.2L884.2,243.4L885.1,242.6L886.1,241.7L887.1,240.9L888.1,240.1L889.2,239.3L890.2,238.5L891.3,237.7L892.3,236.9L893.4,236L894.6,235.2L895.7,234.3L896.8,233.4L897.9,232.6L899.1,231.7L900.2,230.9L901.4,230.1L902.5,229.2L903.7,228.4L904.9,227.6L906.2,226.8L907.4,226L908.7,225.2L910.1,224.4L911.5,223.6L913,222.7L914.4,221.9L915.9,221.1L917.5,220.3L919,219.5L920.5,218.7L922,217.9L923.6,217.1L925.1,216.3L926.6,215.6L928,214.9L929.5,214.1L931,213.4L932.5,212.7L934,212L935.4,211.3L936.9,210.7L938.4,210L939.8,209.4L941.3,208.8L942.7,208.2L944.2,207.6L945.7,207.1L947.1,206.5L948.6,206L950.1,205.5L951.6,205L953.1,204.5L954.6,204L956.1,203.5L957.6,203.1L959,202.6L960.4,202.2L961.8,201.8L963.3,201.4L964.7,201L966.2,200.6L967.6,200.2L969,199.8L970.4,199.5L971.8,199.1L973.1,198.8L974.3,198.5L975.5,198.2L976.6,197.9L977.5,197.6L978.4,197.3L979.3,197L980.1,196.7L980.8,196.5L981.5,196.2L982.2,196L982.7,195.8L983.3,195.6L983.7,195.4L984.1,195.2L984.5,195Z" fill="#54334f" clip-path="url(#cs1)"/>
<g id="rightleaf">
<path d="M703,1075C703,1071.7 702.3,1061.4 703.2,1055C704,1048.6 706.1,1044.6 708.2,1036.6C710.3,1028.5 712.9,1016.8 715.7,1006.9C718.4,997 721.4,987 724.6,977.1C727.8,967.2 731.3,957.3 735,947.4C738.7,937.5 742.4,927.6 746.9,917.7C751.3,907.8 756.5,897.9 761.7,888C766.9,878.1 771.9,868.2 778.1,858.3C784.2,848.4 791.4,838.5 798.9,828.6C806.3,818.7 813.2,808.8 822.6,798.9C832,789 845.9,776.6 855.3,769.1C864.7,761.7 870.2,759.3 879.1,754.3C888,749.2 899.4,743.3 908.8,738.8C918.2,734.4 931.1,729.4 935.5,727.5C927.6,732.5 905.8,742.4 888,757.3C870.2,772.1 848.4,791.9 828.6,816.7C808.8,841.4 786.5,874.1 769.1,905.8C751.8,937.5 735.1,978.7 724.6,1006.9C714,1035.1 709.6,1063.6 706,1075C702.4,1086.4 703.5,1075 703,1075Z" fill="#336e24"/>
<path d="M686.6,1429C685.5,1420.8 681.4,1394.8 680,1380C678.6,1365.2 678.3,1361 678,1340C677.7,1319 677.1,1280.7 678,1254C678.9,1227.3 681.8,1198.8 683.6,1180C685.4,1161.2 686.9,1154.4 689,1141C691.1,1127.6 693.4,1113.3 696.3,1099.9C699.3,1086.4 702.5,1074.9 706.7,1060.3C711,1045.8 716.2,1028.6 721.6,1012.8C727,997 733,981.1 739.4,965.3C745.9,949.4 752.8,933.1 760.2,917.7C767.7,902.4 775.6,887.5 784,873.1C792.4,858.8 801.3,844.4 810.7,831.5C820.2,818.7 830.1,806.8 840.5,795.9C850.9,785 861.8,775.3 873.1,766.2C884.5,757 897.4,747.8 908.8,740.9C920.2,734 930.1,729 941.5,724.6C952.9,720.1 966.2,716.4 977.1,714.2C988,711.9 997,711.4 1006.9,711.2C1016.8,711 1026.7,711.7 1036.6,712.7C1046.5,713.7 1056.4,715.3 1066.3,717.1C1076.2,719 1086.1,721.6 1096,724C1105.9,726.3 1115.8,728.9 1125.7,731.1C1135.6,733.3 1148.1,735.7 1155.4,737.1C1162.8,738.4 1167.3,739 1169.7,739.4C1167.3,740.2 1160.8,742.6 1155.4,743.9C1150.1,745.1 1145,745.2 1137.6,746.9C1130.2,748.5 1120.3,751 1110.9,753.7C1101.4,756.4 1091,759.6 1081.1,763.2C1071.2,766.8 1061.3,770.6 1051.4,775.1C1041.5,779.5 1031.6,784.5 1021.7,789.9C1011.8,795.4 1001.9,801.3 992,807.8C982.1,814.2 972.2,820.6 962.3,828.6C952.4,836.5 942,845.9 932.6,855.3C923.2,864.7 914.2,874.6 905.8,885C897.4,895.4 889.5,906.8 882.1,917.7C874.6,928.6 867.7,939.5 861.3,950.4C854.8,961.3 849.9,971.2 843.4,983.1C837,995 829.1,1009.3 822.6,1021.7C816.2,1034.1 812.7,1040.7 804.8,1057.4C796.9,1074.1 783.5,1101.4 775,1121.8C766.5,1142.2 760.6,1158 753.9,1180C747.2,1202 740.1,1231.9 734.6,1254C729.1,1276.1 724.3,1298.3 720.9,1312.6C717.5,1326.9 715.5,1332.1 714,1340C712.5,1347.9 714.3,1343.3 712,1360C709.7,1376.7 704.2,1428.5 700,1440C695.8,1451.5 688.8,1430.8 686.6,1429Z" fill="#5aa832"/>
<path d="M908.8,740.9C914.2,738.2 930.1,729 941.5,724.6C952.9,720.1 966.2,716.4 977.1,714.2C988,711.9 997,711.4 1006.9,711.2C1016.8,711 1026.7,711.7 1036.6,712.7C1046.5,713.7 1056.4,715.3 1066.3,717.1C1076.2,719 1086.1,721.6 1096,724C1105.9,726.3 1115.8,728.9 1125.7,731.1C1135.6,733.3 1148.1,735.7 1155.4,737.1C1162.8,738.4 1167.3,739 1169.7,739.4C1167.3,740.2 1160.5,742.6 1155.4,743.9C1150.3,745.1 1141.8,746.4 1139.1,746.9C1136.9,745.4 1132.9,740.9 1125.7,737.9C1118.5,735 1105.9,731.7 1096,729C1086.1,726.4 1076.2,724 1066.3,722.2C1056.4,720.4 1046.5,718.9 1036.6,718C1026.7,717.1 1016.8,716.6 1006.9,716.8C997,717 988,717.2 977.1,719.2C966.2,721.3 952.9,725.1 941.5,729C930.1,733 914.2,741 908.8,743C903.4,745 908.8,741.3 908.8,740.9Z" fill="#98cb30"/>
<path d="M685,1400C684.4,1388.3 682.1,1350 681.5,1330C680.9,1310 680.8,1298.3 681.5,1280C682.2,1261.7 683.6,1241.5 686,1220C688.4,1198.5 690.1,1171 696,1151C701.9,1131 714.4,1114.5 721.6,1099.9C728.8,1085.2 733,1074.9 739.4,1063.3C745.9,1051.8 753.3,1040.5 760.2,1030.6C767.2,1020.7 773.6,1011.8 781,1003.9C788.5,996 796.9,988.8 804.8,983.1C812.7,977.4 821.4,973.2 828.6,969.7C835.8,966.2 844.7,963.5 847.9,962.3C847.1,965.8 847.6,973.2 843.4,983.1C839.2,993 829.1,1009.3 822.6,1021.7C816.2,1034.1 812.7,1040.7 804.8,1057.4C796.9,1074.1 783.5,1101.4 775,1121.8C766.5,1142.2 760.6,1158 753.9,1180C747.2,1202 740.1,1231.9 734.6,1254C729.1,1276.1 724.3,1298.3 720.9,1312.6C717.5,1326.9 716.6,1325.4 714,1340C711.4,1354.6 709.8,1390 705,1400C700.2,1410 688.3,1400 685,1400Z" fill="#6cb449"/>
<path d="M686.6,1429C685.5,1420.8 681.4,1394.8 680,1380C678.6,1365.2 678.3,1361 678,1340C677.7,1319 677.1,1280.7 678,1254C678.9,1227.3 681.8,1198.8 683.6,1180C685.4,1161.2 686.9,1154.4 689,1141C691.1,1127.6 693.4,1113.3 696.3,1099.9C699.3,1086.4 702.5,1074.9 706.7,1060.3C711,1045.8 716.2,1028.6 721.6,1012.8C727,997 733,981.1 739.4,965.3C745.9,949.4 752.8,933.1 760.2,917.7C767.7,902.4 775.6,887.5 784,873.1C792.4,858.8 801.3,844.4 810.7,831.5C820.2,818.7 830.1,806.8 840.5,795.9C850.9,785 861.8,775.3 873.1,766.2C884.5,757 902.9,745.1 908.8,740.9" fill="none" stroke="#9acb2e" stroke-width="2.6"/>
</g>
<path d="M690.2,1550.1C689.9,1541.5 688.9,1514.2 688.4,1498.8C687.9,1483.4 687.3,1468.5 687,1457.8C686.7,1447.1 686.4,1441.4 686.6,1434.5C686.8,1427.7 687.4,1424.3 688.4,1416.8C689.4,1409.2 690.9,1398.5 692.5,1389.4C694.1,1380.3 696.2,1369.6 697.9,1362.1C699.7,1354.5 701.3,1348.1 702.7,1344.3C704.2,1340.4 705.4,1339.1 706.8,1339.1C708.3,1339.1 710.2,1340.4 711.4,1344.3C712.5,1348.1 713.1,1352.3 713.7,1362.1C714.2,1371.9 714.2,1389.4 714.6,1403.1C715,1416.8 715.4,1428.1 716,1444.1C716.6,1460.1 717.3,1481.1 718.2,1498.8C719.1,1516.5 720.9,1541.5 721.5,1550.1Z" fill="#a6d381"/>
<path d="M691.4,1550.1C691.2,1541.5 690.3,1514.2 690.2,1498.8C690,1483.4 689.9,1469.2 690.6,1457.8C691.2,1446.4 692.6,1437.3 693.8,1430.4C695.1,1423.6 696.6,1419.9 697.9,1416.8C699.3,1413.6 700.5,1411.6 701.8,1411.6C703.1,1411.6 704.5,1413.6 705.6,1416.8C706.7,1419.9 707.3,1423.6 708.6,1430.4C709.9,1437.3 712,1446.4 713.3,1457.8C714.5,1469.2 715,1483.4 716,1498.8C717,1514.2 718.5,1541.5 719,1550.1Z" fill="#d2e9a6"/>
<path d="M691.8,1550.1C691.8,1546.1 691.4,1532 691.7,1526.2C691.9,1520.3 692.1,1518.2 693.2,1515.2C694.2,1512.3 696.1,1509.9 697.9,1508.4C699.8,1506.8 701.9,1505.9 704.1,1505.9C706.3,1505.9 709.2,1506.8 710.9,1508.4C712.7,1509.9 713.7,1512.3 714.6,1515.2C715.6,1518.2 716,1520.3 716.5,1526.2C717.1,1532 717.7,1546.1 717.9,1550.1Z" fill="#ebf5bc"/>
<circle cx="686.7" cy="1759.2" r="5" fill="#fefdc9" stroke="#5d3e30" stroke-width="1.1"/>
<circle cx="490.6" cy="1921" r="1.9" fill="#fefdc9" stroke="#5d3e30" stroke-width="1.1"/>
<path d="M685.1,1754.2L683.3,1754.8L680.9,1755.6L678,1756.5L674.6,1757.6L671.1,1758.8L667.4,1760.2L663.7,1761.7L660.1,1763.3L656.7,1765.1L653.2,1767L649.7,1769L646.2,1771.1L642.7,1773.4L639.2,1775.7L635.7,1778.1L632.2,1780.5L628.7,1783.1L625.2,1785.9L621.7,1788.7L618.3,1791.6L614.8,1794.5L611.4,1797.3L608.1,1800L604.7,1802.6L601.3,1805.2L597.9,1807.7L594.5,1810.1L591.2,1812.5L587.8,1814.9L584.4,1817.2L581,1819.5L577.6,1821.7L574.1,1824L570.6,1826.2L567.1,1828.5L563.6,1830.6L560.2,1832.7L556.9,1834.6L553.6,1836.4L550.6,1838L547.8,1839.3L545.1,1840.2L542.3,1841L539.5,1841.7L536.6,1842.6L533.7,1843.6L530.8,1844.9L528.1,1846.7L525.6,1848.9L523.4,1851.3L521.5,1853.8L519.7,1856.4L518,1859.1L516.5,1861.8L515,1864.5L513.4,1867.1L511.9,1869.8L510.4,1872.6L508.9,1875.6L507.5,1878.5L506.2,1881.4L504.9,1884.1L503.6,1886.8L502.4,1889.3L501.3,1891.6L500.2,1893.8L499.1,1895.9L498.1,1898L497.1,1900L496.1,1901.9L495.2,1903.8L494.3,1905.7L493.5,1907.8L492.7,1909.9L491.8,1912L491.1,1914L490.3,1915.9L489.7,1917.6L489.2,1919L488.9,1920.2L492.3,1921.9L493,1920.9L493.8,1919.7L494.8,1918.1L495.9,1916.4L497.1,1914.6L498.2,1912.7L499.4,1910.7L500.6,1908.9L501.5,1907L502.5,1905.1L503.5,1903.2L504.5,1901.2L505.5,1899.2L506.6,1897L507.7,1894.8L508.9,1892.5L510.1,1889.9L511.4,1887.2L512.7,1884.5L514.1,1881.6L515.5,1878.8L516.9,1876L518.3,1873.3L519.8,1870.8L521.4,1868.2L522.9,1865.5L524.4,1862.9L525.9,1860.5L527.5,1858.2L529.1,1856.1L530.8,1854.3L532.6,1852.7L534.5,1851.5L536.5,1850.6L538.9,1849.8L541.4,1849.1L544.3,1848.4L547.4,1847.5L550.6,1846.4L554,1845L557.3,1843.2L560.7,1841.4L564.1,1839.4L567.7,1837.3L571.3,1835.1L574.8,1832.8L578.4,1830.6L581.9,1828.3L585.3,1826.1L588.8,1823.8L592.2,1821.4L595.7,1819L599.2,1816.6L602.6,1814.1L606.1,1811.6L609.6,1809L613.1,1806.3L616.6,1803.5L620,1800.7L623.5,1797.8L626.9,1795L630.2,1792.2L633.6,1789.6L636.9,1787.2L640.3,1784.9L643.8,1782.7L647.2,1780.5L650.7,1778.5L654.1,1776.5L657.4,1774.7L660.7,1773L663.9,1771.5L667.1,1770.2L670.5,1769L674,1767.9L677.5,1767L680.7,1766.1L683.7,1765.4L686.3,1764.7L688.2,1764.2Z" fill="#fefdc9" stroke="#5d3e30" stroke-width="1.1" stroke-linejoin="round"/>
<circle cx="686.7" cy="1759.2" r="4.4" fill="#fefdc9"/>
<circle cx="692.2" cy="1761.9" r="5" fill="#fefdc9" stroke="#5d3e30" stroke-width="1.1"/>
<circle cx="523.5" cy="1988.2" r="1.9" fill="#fefdc9" stroke="#5d3e30" stroke-width="1.1"/>
<path d="M688.8,1757.9L687.4,1759.2L685.4,1760.9L683.1,1762.9L680.5,1765.2L677.7,1767.6L674.9,1770.1L672.2,1772.7L669.8,1775.1L667.5,1777.5L665.3,1779.9L663.1,1782.3L661,1784.8L658.9,1787.3L656.8,1789.9L654.9,1792.6L653.1,1795.3L651.4,1798.1L649.8,1800.8L648.3,1803.6L646.9,1806.5L645.5,1809.3L644.3,1812.2L643,1815.1L641.8,1818L640.6,1821.1L639.5,1824.3L638.6,1827.4L637.6,1830.6L636.7,1833.7L635.7,1836.8L634.7,1839.8L633.6,1842.8L632.4,1845.9L631.2,1849.1L630,1852.3L628.7,1855.4L627.4,1858.4L626,1861.4L624.6,1864.2L623,1866.9L621.4,1869.5L619.6,1872L617.8,1874.5L615.9,1876.9L613.9,1879.2L611.8,1881.3L609.7,1883.3L607.6,1885.1L605.4,1886.6L603.1,1887.9L600.5,1889.1L597.8,1890.3L595,1891.5L592,1892.7L589,1894.2L586,1895.9L583.2,1897.7L580.3,1899.5L577.4,1901.4L574.5,1903.4L571.6,1905.6L568.7,1907.9L566,1910.4L563.3,1913L560.8,1915.9L558.5,1919L556.3,1922.2L554.2,1925.4L552.2,1928.7L550.2,1932L548.3,1935.2L546.5,1938.4L544.6,1941.5L542.8,1944.7L541.1,1947.8L539.4,1951L537.7,1954.1L536.1,1957.2L534.5,1960.3L532.9,1963.3L531.3,1966.5L529.7,1970L528.1,1973.5L526.5,1976.9L525,1980.1L523.7,1983L522.6,1985.5L521.8,1987.3L525.2,1989.1L526.3,1987.4L527.7,1985.1L529.3,1982.4L531.1,1979.3L533.1,1976.1L535,1972.8L536.9,1969.6L538.8,1966.5L540.5,1963.5L542.1,1960.5L543.8,1957.4L545.5,1954.3L547.2,1951.3L549,1948.2L550.8,1945.1L552.6,1942.1L554.5,1938.9L556.4,1935.7L558.4,1932.5L560.3,1929.3L562.3,1926.2L564.4,1923.3L566.5,1920.5L568.7,1918L571,1915.7L573.5,1913.5L576.1,1911.5L578.8,1909.5L581.5,1907.6L584.3,1905.7L587.2,1904L589.9,1902.3L592.5,1900.8L595.1,1899.6L597.9,1898.4L600.7,1897.3L603.6,1896L606.5,1894.7L609.4,1893.1L612.2,1891.1L614.8,1889L617.2,1886.8L619.5,1884.4L621.7,1881.9L623.9,1879.2L625.9,1876.6L627.8,1873.8L629.7,1871L631.4,1868L633,1864.9L634.5,1861.7L636,1858.4L637.3,1855.2L638.6,1852L639.8,1848.8L641,1845.6L642.2,1842.4L643.3,1839.2L644.3,1836L645.3,1832.9L646.2,1829.8L647.2,1826.8L648.2,1823.9L649.3,1821L650.5,1818.2L651.7,1815.4L652.9,1812.7L654.2,1810L655.5,1807.4L656.9,1804.8L658.4,1802.3L659.9,1799.9L661.7,1797.5L663.5,1795.1L665.5,1792.8L667.5,1790.5L669.6,1788.2L671.8,1786L674,1783.8L676.2,1781.7L678.5,1779.5L681.2,1777.3L683.9,1775L686.7,1772.8L689.4,1770.7L691.9,1768.8L694,1767.2L695.5,1766Z" fill="#fefdc9" stroke="#5d3e30" stroke-width="1.1" stroke-linejoin="round"/>
<circle cx="692.2" cy="1761.9" r="4.4" fill="#fefdc9"/>
<circle cx="696.3" cy="1763.3" r="5" fill="#fefdc9" stroke="#5d3e30" stroke-width="1.1"/>
<circle cx="590.7" cy="1993.7" r="1.9" fill="#fefdc9" stroke="#5d3e30" stroke-width="1.1"/>
<path d="M692.4,1759.8L691.3,1761.2L689.7,1762.9L687.8,1765.1L685.6,1767.6L683.4,1770.2L681.1,1773L679.1,1775.9L677.3,1778.8L675.8,1781.6L674.5,1784.4L673.3,1787.2L672.2,1790.2L671.2,1793.1L670.3,1796.2L669.6,1799.2L668.9,1802.3L668.4,1805.4L668,1808.6L667.6,1811.8L667.5,1815.1L667.4,1818.3L667.3,1821.6L667.4,1824.8L667.6,1828.1L667.9,1831.4L668.5,1834.8L669.1,1838.1L669.8,1841.3L670.5,1844.4L671.1,1847.4L671.5,1850.1L671.8,1852.7L671.8,1855.2L671.8,1857.6L671.7,1859.8L671.6,1861.9L671.3,1864L670.8,1866L670.2,1868L669.4,1870.1L668.4,1872.3L667.2,1874.6L665.8,1876.9L664.2,1879.2L662.5,1881.5L660.6,1883.8L658.6,1886L656.6,1888.1L654.4,1890.2L652,1892.2L649.4,1894.2L646.6,1896.2L643.8,1898.2L640.9,1900.2L637.9,1902.2L635.1,1904.3L632.3,1906.3L629.5,1908.3L626.5,1910.3L623.5,1912.3L620.6,1914.4L617.8,1916.6L615.1,1918.9L612.7,1921.3L610.6,1923.7L608.8,1926.3L607.1,1928.8L605.7,1931.3L604.5,1933.9L603.3,1936.4L602.2,1939L601.1,1941.6L600,1944.2L599.1,1946.9L598.2,1949.6L597.4,1952.3L596.6,1955.1L595.8,1958L595.1,1960.9L594.3,1964.1L593.5,1967.6L592.7,1971.6L591.9,1975.8L591.1,1980.1L590.4,1984.2L589.7,1987.9L589.2,1991L588.8,1993.3L592.5,1994.1L593.2,1991.9L594.1,1988.9L595.1,1985.3L596.3,1981.3L597.4,1977.1L598.6,1973L599.7,1969.2L600.8,1965.8L601.7,1962.7L602.5,1959.8L603.3,1957L604.1,1954.3L604.9,1951.8L605.7,1949.3L606.7,1946.8L607.7,1944.4L608.8,1941.9L609.9,1939.4L611,1937L612.2,1934.7L613.4,1932.5L614.8,1930.4L616.3,1928.3L618.1,1926.3L620.1,1924.3L622.4,1922.3L625,1920.4L627.8,1918.4L630.7,1916.4L633.7,1914.4L636.6,1912.4L639.5,1910.3L642.3,1908.3L645.1,1906.4L648,1904.4L651,1902.3L653.9,1900.3L656.7,1898.1L659.4,1895.9L661.9,1893.6L664.2,1891.2L666.4,1888.7L668.5,1886.2L670.4,1883.7L672.2,1881.1L673.9,1878.5L675.3,1875.8L676.5,1873.2L677.6,1870.6L678.4,1868L679,1865.4L679.4,1862.9L679.6,1860.3L679.7,1857.7L679.7,1855.1L679.7,1852.3L679.4,1849.2L679,1846L678.3,1842.8L677.6,1839.6L677,1836.4L676.4,1833.4L675.9,1830.4L675.6,1827.5L675.5,1824.5L675.4,1821.5L675.5,1818.5L675.6,1815.5L675.8,1812.5L676.1,1809.5L676.5,1806.7L677,1803.9L677.7,1801.2L678.4,1798.5L679.3,1795.8L680.3,1793.2L681.4,1790.7L682.5,1788.2L683.8,1785.8L685.1,1783.5L686.7,1781.3L688.6,1778.9L690.7,1776.5L692.9,1774.2L695.1,1771.9L697.1,1769.9L698.9,1768.2L700.2,1766.8Z" fill="#fefdc9" stroke="#5d3e30" stroke-width="1.1" stroke-linejoin="round"/>
<circle cx="696.3" cy="1763.3" r="4.4" fill="#fefdc9"/>
<circle cx="711.4" cy="1766.1" r="5" fill="#fefdc9" stroke="#5d3e30" stroke-width="1.1"/>
<circle cx="671.6" cy="2044.5" r="1.9" fill="#fefdc9" stroke="#5d3e30" stroke-width="1.1"/>
<path d="M706.7,1763.6L706.4,1764.4L705.9,1765.4L705.5,1766.5L705,1767.7L704.4,1768.9L703.7,1770.2L703,1771.5L702.2,1772.7L701.2,1774L699.9,1775.4L698.3,1777L696.5,1778.7L694.7,1780.6L692.9,1782.7L691.2,1785L689.8,1787.4L688.7,1789.9L687.8,1792.3L687,1794.9L686.3,1797.6L685.8,1800.3L685.5,1803.1L685.3,1805.9L685.4,1808.7L685.6,1811.7L686.1,1814.7L686.8,1817.6L687.6,1820.5L688.5,1823.4L689.4,1826.2L690.2,1828.9L691.1,1831.6L691.9,1834.4L692.7,1837.2L693.6,1840L694.5,1842.7L695.4,1845.5L696.3,1848.2L697.2,1850.9L698,1853.6L698.8,1856.4L699.7,1859.2L700.6,1862.1L701.4,1864.9L702.2,1867.5L702.7,1870.1L703.2,1872.4L703.4,1874.6L703.4,1876.7L703.3,1878.7L703.1,1880.7L702.8,1882.4L702.3,1884.1L701.7,1885.7L701,1887.1L700.1,1888.5L699.1,1889.6L697.6,1890.8L695.7,1891.9L693.5,1893.2L691.2,1894.4L688.8,1895.7L686.4,1897.2L684.2,1898.9L682.5,1900.6L680.8,1902.1L679.3,1903.7L677.7,1905.4L676.3,1907.2L674.9,1909.3L673.6,1911.5L672.3,1914L671.2,1916.7L670.1,1919.6L669.2,1922.6L668.4,1925.7L667.5,1929L666.8,1932.4L666,1935.9L665.3,1939.5L664.5,1943.3L663.7,1947.3L662.9,1951.6L662.2,1955.9L661.5,1960.3L660.8,1964.6L660.3,1968.8L659.8,1972.7L659.4,1976.5L659,1980.1L658.7,1983.7L658.5,1987.2L658.3,1990.6L658.3,1994L658.3,1997.4L658.4,2000.8L658.8,2004.2L659.2,2007.5L659.7,2010.8L660.4,2014L661,2017.2L661.7,2020.2L662.4,2023.1L663.1,2025.9L663.9,2028.8L664.8,2031.6L665.8,2034.4L666.7,2037.1L667.7,2039.6L668.5,2041.8L669.2,2043.6L669.8,2045L673.4,2043.9L673.1,2042.4L672.7,2040.5L672.1,2038.2L671.5,2035.7L670.8,2033L670.2,2030.2L669.6,2027.3L669.1,2024.6L668.5,2021.8L668,2018.9L667.4,2015.9L666.9,2012.8L666.4,2009.7L666,2006.6L665.7,2003.5L665.6,2000.4L665.5,1997.2L665.4,1994.1L665.5,1990.8L665.7,1987.6L665.9,1984.2L666.2,1980.8L666.6,1977.2L667,1973.6L667.4,1969.7L668,1965.6L668.7,1961.4L669.4,1957.1L670.1,1952.9L670.9,1948.7L671.7,1944.7L672.5,1941L673.2,1937.5L674,1934L674.7,1930.7L675.5,1927.6L676.3,1924.7L677.2,1921.9L678.1,1919.4L679.1,1917.1L680.1,1915.1L681.2,1913.3L682.3,1911.7L683.5,1910.3L684.7,1908.9L686.1,1907.5L687.6,1906.1L689.1,1904.7L690.7,1903.5L692.6,1902.3L694.8,1901.1L697.2,1899.9L699.6,1898.6L702,1897.1L704.2,1895.3L706.2,1893.2L707.6,1891.1L708.8,1888.8L709.7,1886.5L710.4,1884.2L710.8,1881.8L711.1,1879.3L711.2,1876.8L711.2,1874.2L710.9,1871.4L710.4,1868.5L709.8,1865.6L709,1862.7L708.1,1859.8L707.2,1856.9L706.4,1854.1L705.6,1851.3L704.8,1848.6L703.9,1845.8L703,1843L702.1,1840.2L701.3,1837.5L700.4,1834.8L699.6,1832.1L698.8,1829.4L698,1826.6L697.1,1823.8L696.2,1821L695.4,1818.2L694.7,1815.6L694.1,1813.1L693.7,1810.7L693.5,1808.4L693.5,1806.1L693.7,1803.8L694,1801.6L694.4,1799.3L695,1797.2L695.6,1795.1L696.4,1793.1L697.2,1791.3L698.2,1789.8L699.5,1788.2L701,1786.7L702.7,1785.1L704.5,1783.6L706.3,1782L708,1780.3L709.6,1778.6L710.9,1776.9L712,1775.3L713,1773.7L713.8,1772.3L714.5,1771L715.1,1769.9L715.6,1769.1L716,1768.5Z" fill="#fefdc9" stroke="#5d3e30" stroke-width="1.1" stroke-linejoin="round"/>
<circle cx="711.4" cy="1766.1" r="4.4" fill="#fefdc9"/>
<circle cx="712.7" cy="1767.4" r="5" fill="#fefdc9" stroke="#5d3e30" stroke-width="1.1"/>
<circle cx="740.2" cy="2032.1" r="1.9" fill="#fefdc9" stroke="#5d3e30" stroke-width="1.1"/>
<path d="M707.6,1768.5L708,1769.9L708.4,1771.7L708.9,1773.9L709.4,1776.4L710.1,1779.2L710.8,1782.1L711.6,1785L712.4,1787.9L713.3,1790.8L714.3,1793.8L715.4,1796.9L716.6,1800.1L717.7,1803.2L718.9,1806.4L720.1,1809.5L721.2,1812.6L722.2,1815.7L723.3,1818.8L724.3,1821.9L725.3,1824.9L726.4,1828L727.4,1831.1L728.4,1834.2L729.5,1837.3L730.5,1840.4L731.6,1843.5L732.7,1846.6L733.8,1849.7L734.9,1852.7L735.9,1855.7L736.8,1858.8L737.7,1861.8L738.6,1864.9L739.5,1868L740.3,1871.2L741.1,1874.3L741.8,1877.3L742.4,1880.3L742.9,1883L743.1,1885.6L743.2,1888.1L743.2,1890.4L743.1,1892.6L742.8,1894.7L742.5,1896.8L742,1898.9L741.4,1901.1L740.7,1903.2L739.8,1905.4L738.7,1907.6L737.4,1909.8L736,1912.1L734.5,1914.5L732.9,1917L731.4,1919.4L730,1921.9L728.7,1924.3L727.4,1926.7L726,1929.1L724.6,1931.6L723.3,1934.1L722.1,1936.7L721,1939.3L720.2,1941.9L719.5,1944.5L719,1947L718.6,1949.5L718.4,1952L718.3,1954.5L718.3,1957.1L718.5,1959.7L718.7,1962.5L719.1,1965.5L719.6,1968.6L720.3,1971.8L721.1,1975L721.9,1978.3L722.7,1981.5L723.6,1984.6L724.4,1987.7L725.2,1990.9L726.1,1994L727,1997.2L728,2000.4L728.9,2003.5L729.8,2006.6L730.7,2009.5L731.5,2012.4L732.5,2015.3L733.5,2018.2L734.4,2021.2L735.4,2024L736.3,2026.7L737.1,2029.1L737.8,2031.1L738.3,2032.6L742,2031.6L741.8,2030L741.4,2027.9L740.9,2025.5L740.3,2022.7L739.7,2019.8L739.1,2016.7L738.5,2013.6L737.8,2010.7L737.1,2007.8L736.2,2004.7L735.4,2001.7L734.5,1998.5L733.7,1995.4L732.9,1992.2L732.1,1989.1L731.3,1986L730.5,1982.8L729.7,1979.6L728.9,1976.5L728.1,1973.3L727.4,1970.2L726.8,1967.3L726.3,1964.5L726,1961.8L725.8,1959.3L725.7,1956.9L725.7,1954.6L725.8,1952.5L726,1950.4L726.3,1948.3L726.7,1946.2L727.3,1944L728,1941.9L728.9,1939.7L730,1937.5L731.2,1935.2L732.5,1932.8L733.9,1930.4L735.3,1928L736.6,1925.6L737.9,1923.3L739.4,1921L740.9,1918.6L742.5,1916.2L744,1913.7L745.5,1911.2L746.8,1908.6L747.9,1905.9L748.8,1903.4L749.5,1900.9L750.1,1898.4L750.5,1895.9L750.8,1893.3L751,1890.7L751,1888L750.9,1885.1L750.6,1882.1L750.2,1878.9L749.5,1875.7L748.8,1872.4L748,1869.2L747.1,1865.9L746.2,1862.7L745.4,1859.6L744.5,1856.4L743.5,1853.3L742.5,1850.1L741.4,1847L740.3,1843.9L739.2,1840.8L738.2,1837.8L737.2,1834.7L736.1,1831.6L735.1,1828.5L734.1,1825.5L733.1,1822.4L732.1,1819.3L731,1816.2L730,1813.1L729,1810L728,1806.8L726.9,1803.6L725.9,1800.4L724.8,1797.2L723.8,1794.1L722.9,1791L722.1,1788.1L721.3,1785.4L720.7,1782.7L720.1,1779.9L719.6,1777.2L719.1,1774.5L718.7,1772L718.4,1769.8L718.1,1767.9L717.9,1766.4Z" fill="#fefdc9" stroke="#5d3e30" stroke-width="1.1" stroke-linejoin="round"/>
<circle cx="712.7" cy="1767.4" r="4.4" fill="#fefdc9"/>
<circle cx="718.2" cy="1764.7" r="5" fill="#fefdc9" stroke="#5d3e30" stroke-width="1.1"/>
<circle cx="823.8" cy="2022.5" r="1.9" fill="#fefdc9" stroke="#5d3e30" stroke-width="1.1"/>
<path d="M714.1,1767.9L715,1769L716.3,1770.6L717.8,1772.4L719.4,1774.4L721.2,1776.6L723.1,1778.9L724.9,1781.3L726.8,1783.8L728.7,1786.4L730.7,1789.2L732.8,1792.2L734.9,1795.2L737.1,1798.4L739.3,1801.6L741.4,1804.8L743.5,1808L745.6,1811.3L747.7,1814.7L749.8,1818.2L751.9,1821.6L754,1825.1L756.1,1828.6L758.1,1832L760,1835.3L761.9,1838.5L763.8,1841.7L765.6,1844.9L767.4,1847.9L769.1,1850.9L770.7,1853.9L772.2,1856.8L773.6,1859.7L775,1862.5L776.3,1865.3L777.5,1868.1L778.7,1870.7L779.7,1873.3L780.5,1875.8L781.1,1878.1L781.5,1880.4L781.7,1882.6L781.7,1884.7L781.6,1886.8L781.3,1889L780.8,1891.1L780.3,1893.4L779.7,1895.7L779,1897.9L778.3,1900.2L777.3,1902.4L776.3,1904.7L775.1,1907.2L773.9,1909.6L772.7,1912.1L771.6,1914.7L770.8,1917.2L770.2,1919.5L769.8,1921.7L769.4,1923.8L769.1,1926L769,1928.2L769,1930.4L769.1,1932.8L769.4,1935.3L769.9,1937.9L770.5,1940.6L771.2,1943.4L772.1,1946.3L773,1949.2L774.1,1952.2L775.3,1955.2L776.6,1958.2L778,1961.2L779.6,1964.3L781.3,1967.5L783.1,1970.6L784.9,1973.8L786.8,1977L788.7,1980.1L790.6,1983.2L792.6,1986.4L794.7,1989.6L796.9,1992.9L799,1996.1L801.2,1999.3L803.4,2002.4L805.5,2005.3L807.5,2008L809.6,2010.5L811.8,2013L814,2015.3L816,2017.5L818,2019.5L819.7,2021.2L821.2,2022.7L822.4,2023.7L825.3,2021.3L824.4,2019.9L823.1,2018.3L821.6,2016.3L820,2014.1L818.2,2011.8L816.3,2009.3L814.5,2006.7L812.7,2004.1L810.9,2001.5L808.9,1998.6L806.8,1995.5L804.7,1992.3L802.6,1989.1L800.6,1985.8L798.6,1982.6L796.7,1979.5L794.8,1976.4L793,1973.3L791.1,1970.2L789.3,1967.1L787.6,1964L786.1,1961L784.6,1958.1L783.3,1955.2L782.1,1952.4L781,1949.6L780,1946.8L779.1,1944.1L778.3,1941.5L777.7,1938.9L777.1,1936.5L776.8,1934.2L776.5,1932.1L776.4,1930.2L776.4,1928.4L776.6,1926.7L776.8,1925L777.1,1923.2L777.6,1921.3L778.1,1919.3L778.8,1917.3L779.6,1915.2L780.7,1912.9L781.9,1910.6L783.1,1908.1L784.4,1905.5L785.5,1902.9L786.4,1900.2L787.1,1897.7L787.8,1895.3L788.4,1892.9L788.9,1890.3L789.3,1887.7L789.5,1885L789.6,1882.2L789.3,1879.4L788.8,1876.4L788,1873.5L787.1,1870.7L786,1867.8L784.8,1864.9L783.5,1862L782.2,1859.1L780.8,1856.2L779.3,1853.2L777.8,1850.2L776.1,1847.1L774.3,1844L772.6,1840.8L770.7,1837.7L768.9,1834.5L767,1831.2L765.1,1827.9L763.1,1824.5L761,1821L758.9,1817.4L756.8,1813.9L754.7,1810.4L752.6,1807L750.5,1803.6L748.5,1800.3L746.4,1797L744.3,1793.6L742.2,1790.4L740.1,1787.2L738.1,1784.1L736.2,1781.2L734.4,1778.5L732.6,1775.8L730.8,1773.2L729,1770.7L727.3,1768.4L725.7,1766.2L724.4,1764.3L723.3,1762.8L722.4,1761.5Z" fill="#fefdc9" stroke="#5d3e30" stroke-width="1.1" stroke-linejoin="round"/>
<circle cx="718.2" cy="1764.7" r="4.4" fill="#fefdc9"/>
<circle cx="722.3" cy="1761.9" r="5" fill="#fefdc9" stroke="#5d3e30" stroke-width="1.1"/>
<circle cx="865" cy="1974.5" r="1.9" fill="#fefdc9" stroke="#5d3e30" stroke-width="1.1"/>
<path d="M719.2,1766.2L720.7,1767.1L722.6,1768.5L724.9,1770.1L727.5,1771.9L730.3,1773.8L733.2,1775.8L736.2,1777.7L739.1,1779.5L742,1781.2L745,1783L748.1,1784.7L751.2,1786.5L754.5,1788.2L757.8,1789.9L761.1,1791.5L764.5,1793.1L768,1794.6L771.6,1796.1L775.3,1797.4L778.9,1798.7L782.4,1800L785.8,1801.2L788.9,1802.5L791.8,1803.9L794.6,1805.4L797.3,1807L799.8,1808.5L802.3,1810.1L804.5,1811.8L806.5,1813.4L808.3,1815L809.9,1816.7L811.2,1818.3L812.3,1820L813.3,1821.7L814.1,1823.4L814.8,1825.2L815.3,1827L815.6,1828.9L815.8,1830.7L815.8,1832.5L815.6,1834.5L815.2,1836.6L814.6,1838.9L813.8,1841.3L813.1,1843.8L812.4,1846.4L811.9,1848.9L811.4,1851.3L810.9,1853.6L810.4,1856L809.9,1858.4L809.5,1861L809.2,1863.6L809,1866.3L809.1,1869.1L809.4,1871.9L809.8,1874.7L810.3,1877.5L811,1880.3L811.8,1883.1L812.7,1886.1L813.7,1889.1L814.9,1892.2L816.3,1895.5L817.8,1898.8L819.5,1902.2L821.3,1905.7L823.1,1909.3L825.1,1912.8L827,1916.4L828.9,1920L830.8,1923.6L832.9,1927.4L834.9,1931.2L837,1935.1L839.2,1939L841.3,1942.8L843.5,1946.6L845.6,1950.2L848,1953.7L850.5,1957.5L853,1961.2L855.6,1964.8L857.9,1968.2L860.1,1971.2L862,1973.7L863.4,1975.5L866.6,1973.5L865.5,1971.4L863.9,1968.7L862.1,1965.5L860,1961.9L857.8,1958.2L855.6,1954.3L853.4,1950.4L851.4,1946.7L849.4,1943.2L847.3,1939.5L845.3,1935.7L843.2,1931.8L841.1,1927.9L839.1,1924.1L837.1,1920.3L835.2,1916.6L833.3,1913L831.4,1909.4L829.6,1905.9L827.7,1902.4L826,1899L824.4,1895.7L823,1892.5L821.8,1889.5L820.7,1886.6L819.7,1883.8L818.9,1881.1L818.2,1878.5L817.6,1875.9L817.1,1873.5L816.8,1871.1L816.6,1868.7L816.5,1866.4L816.7,1864.2L817,1862.1L817.3,1859.8L817.8,1857.6L818.3,1855.3L818.9,1852.9L819.3,1850.5L819.8,1848.2L820.5,1845.9L821.2,1843.5L822,1841L822.7,1838.4L823.2,1835.8L823.6,1833L823.6,1830.3L823.3,1827.7L822.9,1825.3L822.2,1822.8L821.4,1820.5L820.3,1818.1L819,1815.8L817.6,1813.6L815.8,1811.5L813.9,1809.4L811.7,1807.4L809.4,1805.4L806.8,1803.6L804.2,1801.8L801.4,1800.1L798.5,1798.4L795.5,1796.8L792.3,1795.2L788.8,1793.7L785.3,1792.3L781.7,1791L778.1,1789.7L774.5,1788.4L771.2,1787.1L768,1785.6L764.8,1784.1L761.7,1782.4L758.6,1780.7L755.5,1778.9L752.5,1777.1L749.5,1775.3L746.7,1773.5L744,1771.8L741.3,1770L738.6,1768L735.9,1766L733.3,1764L730.9,1762.1L728.7,1760.3L726.9,1758.9L725.4,1757.7Z" fill="#fefdc9" stroke="#5d3e30" stroke-width="1.1" stroke-linejoin="round"/>
<circle cx="722.3" cy="1761.9" r="4.4" fill="#fefdc9"/>
<circle cx="734.7" cy="1755.1" r="5" fill="#fefdc9" stroke="#5d3e30" stroke-width="1.1"/>
<circle cx="918.5" cy="1945.7" r="1.9" fill="#fefdc9" stroke="#5d3e30" stroke-width="1.1"/>
<path d="M732.9,1760L735,1760.7L737.7,1761.5L740.9,1762.5L744.4,1763.6L748.1,1764.9L751.9,1766.2L755.5,1767.5L759,1768.8L762.3,1770.2L765.7,1771.7L769.1,1773.2L772.5,1774.8L775.9,1776.5L779.3,1778.2L782.7,1780L786.1,1781.9L789.5,1784L792.9,1786.2L796.4,1788.5L799.9,1790.8L803.3,1793.2L806.7,1795.7L809.9,1798.2L813,1800.7L816,1803.2L818.9,1805.8L821.7,1808.5L824.4,1811.2L827.1,1813.9L829.7,1816.7L832.2,1819.4L834.6,1822.1L836.9,1824.8L839.1,1827.5L841.3,1830.2L843.3,1832.8L845.3,1835.5L847.2,1838.2L849,1840.9L850.7,1843.5L852.3,1846.1L853.7,1848.7L855,1851.3L856.2,1853.9L857.4,1856.6L858.7,1859.4L860.1,1862.2L861.6,1865.2L863.2,1868.1L864.8,1871.2L866.5,1874.3L868.2,1877.4L870,1880.6L871.8,1883.7L873.6,1886.9L875.5,1890L877.5,1893.2L879.6,1896.4L881.7,1899.6L883.9,1902.8L886,1906L888.2,1909.1L890.2,1912L892.2,1914.9L894.1,1917.6L895.9,1920.2L897.8,1922.7L899.5,1925.2L901.3,1927.5L902.9,1929.8L904.5,1932L906,1934L907.6,1936L909.2,1937.9L910.8,1939.8L912.3,1941.6L913.7,1943.3L914.9,1944.7L916,1945.9L916.9,1946.8L920,1944.6L919.5,1943.5L918.7,1942.1L917.8,1940.4L916.7,1938.5L915.6,1936.5L914.3,1934.3L913,1932.2L911.7,1930L910.2,1927.8L908.7,1925.6L907,1923.4L905.3,1921L903.6,1918.6L901.8,1916L900,1913.4L898.1,1910.7L896.2,1907.9L894.1,1905L892.1,1901.9L889.9,1898.8L887.8,1895.6L885.7,1892.4L883.7,1889.3L881.8,1886.2L880,1883.1L878.2,1880L876.5,1876.9L874.8,1873.8L873.1,1870.7L871.5,1867.6L869.9,1864.6L868.3,1861.7L866.9,1858.9L865.6,1856.1L864.4,1853.4L863.1,1850.7L861.8,1847.9L860.5,1845.1L859,1842.3L857.3,1839.5L855.5,1836.6L853.6,1833.8L851.6,1831L849.6,1828.2L847.4,1825.4L845.2,1822.6L842.9,1819.8L840.5,1817L838,1814.2L835.5,1811.3L832.8,1808.5L830.1,1805.6L827.2,1802.8L824.3,1800L821.3,1797.2L818.2,1794.5L814.9,1791.9L811.6,1789.3L808.1,1786.7L804.5,1784.2L801,1781.7L797.4,1779.3L793.8,1777.1L790.3,1774.9L786.8,1772.8L783.3,1770.8L779.8,1768.9L776.3,1767.1L772.8,1765.4L769.3,1763.7L765.9,1762.1L762.5,1760.5L759,1759L755.2,1757.4L751.4,1755.9L747.6,1754.4L744.1,1753.1L741,1751.9L738.4,1750.9L736.4,1750.1Z" fill="#fefdc9" stroke="#5d3e30" stroke-width="1.1" stroke-linejoin="round"/>
<circle cx="734.7" cy="1755.1" r="4.4" fill="#fefdc9"/>
<path d="M688,1547.4C686.6,1548.8 683.4,1552.3 679.7,1556C676,1559.7 671.1,1564.9 666,1569.7C660.9,1574.5 654.6,1579.7 648.9,1585.1C643.2,1590.5 636.9,1596.3 631.7,1602.3C626.6,1608.3 621.7,1614.5 618,1621.1C614.3,1627.7 611.3,1634.8 609.4,1641.7C607.5,1648.6 606.7,1655.4 606.7,1662.3C606.7,1669.2 607.8,1676.6 609.4,1682.9C611,1689.2 611.9,1691.9 616.3,1700C620.7,1708.1 627.6,1723.2 635.7,1731.7C643.8,1740.2 652.8,1746 664.9,1751C677,1756 694,1761.5 708.6,1761.5C723.2,1761.5 740.2,1756.8 752.3,1751C764.4,1745.2 773.3,1737.1 781.4,1726.9C789.5,1716.7 796.8,1700.2 800.9,1690C805,1679.8 805.5,1672.6 805.9,1665.7C806.3,1658.8 804.7,1654.3 803.1,1648.6C801.5,1642.9 799.4,1637.1 796.3,1631.4C793.2,1625.7 788.9,1619.7 784.3,1614.3C779.7,1608.9 774.3,1604.1 768.9,1598.9C763.5,1593.8 757.4,1588.6 751.7,1583.4C746,1578.2 739.2,1572.6 734.6,1568C730,1563.4 726.7,1559.4 724.3,1556C721.9,1552.6 720.7,1548.8 720,1547.4C717.3,1547.2 709.3,1546 704,1546C698.7,1546 690.7,1547.2 688,1547.4Z" fill="#8f5537"/>
<path d="M689,1551.8C682.6,1553.2 684.5,1556.5 681.1,1560C677.6,1563.6 672.9,1568.5 668,1573.2C663.2,1577.8 657.2,1582.8 651.8,1588C646.4,1593.2 640.4,1598.7 635.5,1604.5C630.6,1610.2 626,1616.2 622.5,1622.5C618.9,1628.8 616.1,1635.7 614.3,1642.3C612.5,1648.9 611.7,1655.5 611.7,1662.1C611.7,1668.7 612.8,1675.8 614.3,1681.9C615.8,1687.9 616.7,1690.5 620.8,1698.3C625,1706.1 631.6,1720.6 639.3,1728.7C647,1736.9 655.5,1742.5 667,1747.2C678.5,1752 694.7,1757.3 708.5,1757.3C722.4,1757.3 738.5,1752.8 750,1747.2C761.6,1741.7 770,1733.9 777.7,1724.1C785.4,1714.3 792.3,1698.5 796.2,1688.7C800.1,1678.9 800.6,1672 801,1665.4C801.3,1658.7 799.8,1654.4 798.3,1648.9C796.8,1643.4 794.8,1637.9 791.8,1632.4C788.9,1626.9 784.8,1621.2 780.4,1616C776.1,1610.8 771,1606.2 765.8,1601.2C760.6,1596.3 754.9,1591.3 749.5,1586.3C744,1581.4 737.6,1575.9 733.2,1571.6C728.9,1567.2 725.7,1563.3 723.4,1560C721.1,1556.7 725.1,1553.2 719.4,1551.8C713.6,1550.4 695.3,1550.4 689,1551.8Z" fill="#96593a"/>
<path d="M700,1580C711.3,1580.7 727.5,1585.7 740,1592C752.5,1598.3 765.8,1608.3 775,1618C784.2,1627.7 792.2,1638 795,1650C797.8,1662 796.2,1678 792,1690C787.8,1702 780.3,1712.8 770,1722C759.7,1731.2 743.3,1742 730,1745C716.7,1748 700.3,1745.5 690,1740C679.7,1734.5 674.7,1722 668,1712C661.3,1702 654.7,1690.3 650,1680C645.3,1669.7 640,1661.3 640,1650C640,1638.7 644.7,1622.3 650,1612C655.3,1601.7 663.7,1593.3 672,1588C680.3,1582.7 688.7,1579.3 700,1580Z" fill="#a16644"/>
<ellipse cx="725" cy="1630" rx="56" ry="40" fill="#ab6e4a" transform="rotate(8 725 1630)"/>
<ellipse cx="726" cy="1630" rx="50" ry="35" fill="#b57652" transform="rotate(8 726 1630)"/>
<path d="M625,1640C625.8,1638.7 628,1633 630,1632C632,1631 633.7,1629.3 637,1634C640.3,1638.7 644.2,1650.7 650,1660C655.8,1669.3 663.7,1681.3 672,1690C680.3,1698.7 691.7,1706.2 700,1712C708.3,1717.8 717.8,1721.2 722,1725C726.2,1728.8 724.5,1733.3 725,1735C723.3,1736.8 720.8,1743.2 715,1746C709.2,1748.8 699.2,1752.7 690,1752C680.8,1751.3 668.3,1747 660,1742C651.7,1737 645.5,1729.8 640,1722C634.5,1714.2 630,1704.5 627,1695C624,1685.5 622.3,1674.2 622,1665C621.7,1655.8 624.5,1644.2 625,1640Z" fill="#7a4a32"/>
<g id="bigflower">
<path d="M1465.9,277.5L1466.8,277.8L1467.9,278.2L1469.2,278.6L1470.5,279.1L1472,279.6L1473.5,280.2L1475.1,280.8L1476.7,281.4L1478.2,282.1L1479.7,282.8L1481,283.5L1482.3,284.3L1483.5,285.1L1484.7,286L1486,287L1487.2,288.1L1488.5,289.2L1489.7,290.4L1491,291.6L1492.2,292.8L1493.4,294L1494.5,295.2L1495.6,296.4L1496.6,297.6L1497.6,298.7L1498.6,299.8L1499.5,300.9L1500.4,302.1L1501.2,303.2L1502,304.3L1502.7,305.4L1503.4,306.5L1504.1,307.6L1504.8,308.8L1505.4,310L1506,311.2L1506.5,312.4L1507,313.6L1507.5,314.8L1508,316.1L1508.4,317.4L1508.8,318.7L1509.1,320.1L1509.5,321.4L1509.8,322.8L1510.2,324.3L1510.5,325.8L1510.8,327.3L1511,328.7L1511.2,330.3L1511.4,331.9L1511.6,333.5L1511.8,335.2L1511.9,336.9L1512.1,338.6L1512.2,340.3L1512.3,342.1L1512.5,343.8L1512.6,345.6L1512.7,347.4L1512.9,349.1L1513,351L1513.2,352.9L1513.3,354.9L1513.4,356.9L1513.6,358.9L1513.7,360.7L1513.8,362.5L1513.9,364.2L1514,365.6L1514.1,366.9L1514.1,367.9L1525.1,367L1525,366L1524.8,364.8L1524.7,363.3L1524.6,361.7L1524.4,359.9L1524.2,358L1524,356L1523.8,354L1523.6,352L1523.4,350.1L1523.2,348.1L1523,346.4L1522.8,344.7L1522.7,342.9L1522.5,341.2L1522.3,339.4L1522.1,337.6L1521.9,335.9L1521.7,334.1L1521.4,332.3L1521.2,330.5L1520.9,328.8L1520.6,327L1520.2,325.3L1519.8,323.7L1519.5,322.1L1519.1,320.5L1518.6,319L1518.2,317.5L1517.7,315.9L1517.2,314.4L1516.6,313L1516,311.5L1515.4,310L1514.7,308.6L1514,307.1L1513.3,305.7L1512.5,304.4L1511.7,303L1510.8,301.7L1509.9,300.4L1509,299.2L1508,298L1507.1,296.7L1506,295.5L1505,294.3L1503.9,293.1L1502.8,291.9L1501.6,290.7L1500.4,289.5L1499.2,288.2L1497.9,287L1496.5,285.7L1495.1,284.5L1493.7,283.2L1492.3,282L1490.8,280.9L1489.3,279.8L1487.8,278.7L1486.3,277.8L1484.7,276.9L1483,276L1481.2,275.2L1479.4,274.5L1477.7,273.9L1476,273.3L1474.3,272.7L1472.8,272.3L1471.4,271.8L1470.2,271.5L1469.2,271.2L1468.4,270.9Z" fill="#7b4862"/>
<path d="M1439.7,277.6C1441.7,276.3 1447.4,271.9 1451.7,269.7C1456,267.5 1461,265.7 1465.4,264.6C1469.9,263.4 1476.3,263.1 1478.5,262.9C1478,264 1477,267.5 1475.7,269.7C1474.4,271.9 1471.4,275.1 1470.6,276.2C1468.9,276.9 1463.7,279.7 1460.3,280.3C1456.9,281 1453.4,280.8 1450,280.3C1446.6,279.9 1441.4,278.1 1439.7,277.6Z" fill="#a06d8c"/>
<path d="M1482.6,401.3C1483,399.3 1484,393.3 1485.1,389.3C1486.3,385.3 1487,380.9 1489.4,377.4C1491.8,373.8 1496,370.1 1499.7,367.9C1503.4,365.8 1507.4,365 1511.6,364.5C1515.9,364.1 1521.3,364.5 1525.3,365.4C1529.3,366.2 1532.6,367.7 1535.6,369.7C1538.5,371.7 1541.4,374.4 1543.2,377.4C1545.1,380.3 1545.7,383.6 1546.7,387.6C1547.7,391.6 1548.8,399 1549.2,401.3C1553.8,415.5 1570,461.1 1576.6,486.8C1583.1,512.4 1590,535.2 1588.5,555.1C1587.1,575.1 1588.5,597.9 1568,606.4C1547.5,615 1486,615 1465.5,606.4C1445,597.9 1446.4,575.1 1445,555.1C1443.5,535.2 1450.7,512.4 1456.9,486.8C1463.2,461.1 1478.3,415.5 1482.6,401.3Z" fill="#1a4ef7"/>
<path d="M1481.7,442.3C1480.1,446.9 1476.2,459.4 1472.3,469.7C1468.5,479.9 1462.6,493.9 1458.6,503.8C1454.6,513.8 1451.7,519.5 1448.4,529.5C1445.1,539.5 1441.2,553.7 1439,563.7C1436.8,573.6 1435.2,580.5 1435,589.3C1434.9,598.1 1435.9,608.1 1438.1,616.7C1440.3,625.2 1444.8,634.3 1448.4,640.6C1451.9,646.9 1456.6,651.7 1459.5,654.3C1462.3,656.9 1464.5,656 1465.5,656.3C1467.2,655 1472.2,652.6 1475.7,648.3C1479.3,644 1484.6,640.2 1486.8,630.3C1489.1,620.5 1489,607.5 1489.4,589.3C1489.8,571.1 1490.7,545.4 1489.4,520.9C1488.1,496.4 1483,455.4 1481.7,442.3Z" fill="#4a86ff" stroke="#1f63ff" stroke-width="1"/>
<path d="M1463.8,589.3C1463.6,597.9 1462.6,629.5 1462.9,640.6C1463.2,651.7 1465,653.4 1465.5,656C1467.2,654.6 1472.1,652.2 1475.7,647.8C1479.4,643.4 1485.6,637.8 1487.4,629.5C1489.1,621.2 1489.9,604.6 1486,597.9C1482.1,591.2 1467.5,590.7 1463.8,589.3Z" fill="#175dff"/>
<path d="M1481.7,443.2C1479.6,449.3 1473.3,468.1 1468.9,479.9C1464.5,491.7 1458.6,503 1455.2,514.1C1451.8,525.2 1449.8,535.5 1448.4,546.6C1447,557.7 1446.4,570.2 1446.7,580.8C1447,591.3 1448.4,601.6 1450.1,609.8C1451.8,618.1 1454.8,625.1 1456.9,630.3C1459.1,635.6 1461.9,639.6 1462.9,641.5C1463,635.6 1463,617.9 1463.4,606.4C1463.8,594.9 1464.6,583.6 1465.5,572.2C1466.4,560.8 1467.6,549.4 1468.9,538C1470.2,526.6 1471.6,515.2 1473.2,503.8C1474.7,492.5 1476.9,479.8 1478.3,469.7C1479.7,459.5 1481.1,447.6 1481.7,443.2Z" fill="#1546fb"/>
<path d="M1551.8,444.9C1553.9,449 1560.5,459.8 1564.6,469.7C1568.7,479.5 1573.2,493.9 1576.6,503.8C1580,513.8 1582.7,519.5 1585.1,529.5C1587.5,539.5 1589.6,553.7 1591.1,563.7C1592.6,573.6 1594,580.5 1594,589.3C1594.1,598.1 1593.2,608.1 1591.5,616.7C1589.7,625.2 1586.8,634 1583.4,640.6C1580.1,647.2 1574.7,653.1 1571.5,656C1568.2,658.9 1565,657.7 1563.8,658C1562.8,656.4 1558.9,654 1557.8,648.3C1556.6,642.5 1558.1,633.3 1556.9,623.5C1555.8,613.7 1552.5,606.4 1550.9,589.3C1549.4,572.2 1547.4,545 1547.5,520.9C1547.7,496.9 1551.1,457.5 1551.8,444.9Z" fill="#4a86ff" stroke="#1f63ff" stroke-width="1"/>
<path d="M1566.3,589.3C1566.5,598.7 1567.6,634.3 1567.2,645.7C1566.8,657.1 1564.3,655.7 1563.8,657.7C1562.8,656 1559.3,653.5 1558.1,647.8C1557,642.1 1557,633.2 1556.9,623.5C1556.9,613.8 1556.2,595 1557.8,589.3C1559.3,583.6 1564.9,589.3 1566.3,589.3Z" fill="#175dff"/>
<path d="M1551.8,444.9C1554.2,450.7 1562.2,468.4 1566.3,479.9C1570.5,491.5 1573.6,503 1576.6,514.1C1579.6,525.2 1582.4,535.5 1584.3,546.6C1586.1,557.7 1587.5,570.2 1587.7,580.8C1587.8,591.3 1586.7,601.3 1585.1,609.8C1583.6,618.4 1581.3,625.9 1578.3,632.1C1575.3,638.2 1569,644.2 1567.2,646.6C1567.1,639.9 1566.5,618.8 1566.7,606.4C1566.8,594 1568.4,583.6 1568,572.2C1567.7,560.8 1566,549.4 1564.6,538C1563.2,526.6 1561.2,515.2 1559.5,503.8C1557.8,492.5 1555.6,479.5 1554.4,469.7C1553.1,459.8 1552.2,449 1551.8,444.9Z" fill="#1546fb"/>
<path d="M1465.5,546.6C1465.3,550.9 1464,564.2 1464.3,572.2C1464.5,580.2 1466.4,590.7 1466.8,594.4C1468.1,593.9 1473.6,595.1 1474.4,591.4C1475.2,587.7 1472.5,579.7 1471.6,572.2C1470.7,564.8 1469.9,550.9 1468.9,546.6C1467.9,542.3 1466,546.6 1465.5,546.6Z" fill="#d6e9ea"/>
<path d="M1568,526.9C1569.5,531.6 1574.6,545.5 1576.9,555.1C1579.2,564.7 1580.9,579.6 1581.7,584.5C1580.6,584.8 1577.2,590.2 1575.2,585.9C1573.3,581.6 1571.8,567.7 1570.1,558.5C1568.4,549.4 1565.3,536.5 1565,531.2C1564.6,525.9 1567.5,527.6 1568,526.9Z" fill="#d6e9ea"/>
<g transform="translate(1466.7 600.8) rotate(-28)"><ellipse rx="13" ry="4.6" fill="#1238a2" stroke="#0a2278" stroke-width="1"/><path d="M-11,0.5 Q0,4.1 11,0.5" fill="none" stroke="#0a2278" stroke-width="0.9"/></g>
<g transform="translate(1580.9 592.7) rotate(18)"><ellipse rx="14.5" ry="5" fill="#1238a2" stroke="#0a2278" stroke-width="1"/><path d="M-12.3,0.5 Q0,4.5 12.3,0.5" fill="none" stroke="#0a2278" stroke-width="0.9"/></g>
<path d="M1489.4,382.5C1488.3,384.5 1484.8,390.2 1482.6,394.4C1480.3,398.7 1478.6,403.3 1475.7,408.1C1472.9,413 1469.2,418.1 1465.5,423.5C1461.8,428.9 1457.8,434.6 1453.5,440.6C1449.2,446.6 1444.4,452.8 1439.8,459.4C1435.3,466 1430.7,473.1 1426.2,479.9C1421.6,486.8 1416.8,493.3 1412.5,500.4C1408.2,507.5 1403.8,515.2 1400.5,522.6C1397.2,530.1 1394.8,537.2 1392.8,544.9C1390.9,552.6 1389.5,561.4 1388.9,568.8C1388.3,576.2 1388.6,582.5 1389.4,589.3C1390.2,596.2 1391.7,603.6 1393.7,609.8C1395.7,616.1 1398.2,621.5 1401.4,626.9C1404.5,632.3 1409.1,638.3 1412.5,642.3C1415.9,646.4 1420.3,649.7 1421.9,651.2C1422,648 1422,638.9 1422.7,632.1C1423.4,625.2 1424.4,617.5 1426.2,609.8C1427.9,602.1 1430.1,594.4 1433,585.9C1435.8,577.4 1439.8,567.7 1443.2,558.5C1446.7,549.4 1450.1,540.3 1453.5,531.2C1456.9,522.1 1460.3,513 1463.8,503.8C1467.2,494.7 1470.6,486.2 1474,476.5C1477.4,466.8 1481.1,456 1484.3,445.7C1487.4,435.5 1490.5,425.2 1492.8,415C1495.1,404.7 1498.5,389.6 1497.9,384.2C1497.4,378.8 1490.8,382.8 1489.4,382.5Z" fill="#6699ff" stroke="#1f63ff" stroke-width="1"/>
<path d="M1493.7,386.8C1490.7,394.9 1482.4,418.8 1475.7,435.5C1469,452.1 1460.9,469.7 1453.5,486.8C1446.1,503.8 1437,520.9 1431.3,538C1425.6,555.1 1421.5,575.1 1419.3,589.3C1417.2,603.6 1418.1,613.4 1418.5,623.5C1418.8,633.6 1421,645.6 1421.5,650C1421.7,647 1422,638.7 1422.7,632.1C1423.5,625.4 1424.4,617.5 1426.2,609.8C1427.9,602.1 1430.1,594.4 1433,585.9C1435.8,577.4 1439.8,567.7 1443.2,558.5C1446.7,549.4 1450.1,540.3 1453.5,531.2C1456.9,522.1 1460.3,513 1463.8,503.8C1467.2,494.7 1470.6,486.2 1474,476.5C1477.4,466.8 1481.1,456 1484.3,445.7C1487.4,435.5 1490.5,425.2 1492.8,415C1495.1,404.7 1497.8,388.9 1497.9,384.2C1498.1,379.5 1494.4,386.3 1493.7,386.8Z" fill="#4a86ff"/>
<path d="M1543.2,377.4C1544.5,380.2 1547.9,389 1550.9,394.4C1553.9,399.9 1557.5,404.4 1561.2,409.8C1564.9,415.2 1568.9,420.9 1573.2,426.9C1577.4,432.9 1582.3,439.2 1586.8,445.7C1591.4,452.3 1596,459.4 1600.5,466.2C1605.1,473.1 1609.9,479.6 1614.2,486.8C1618.5,493.9 1622.5,501.6 1626.2,509C1629.9,516.4 1633.4,523.5 1636.4,531.2C1639.4,538.9 1642.2,547.2 1644.1,555.1C1646,563.1 1647.5,571.4 1648,579.1C1648.6,586.8 1648.3,594.2 1647.5,601.3C1646.7,608.4 1645.4,615.2 1643.2,621.8C1641.1,628.3 1637.8,634.9 1634.7,640.6C1631.6,646.3 1627,652.6 1624.4,656C1621.9,659.3 1620.2,659.8 1619.3,660.6C1617.6,658.4 1611.9,652.5 1609.1,647.4C1606.2,642.4 1604.2,636.6 1602.2,630.3C1600.2,624.1 1598.7,617.2 1597.1,609.8C1595.5,602.4 1594.5,595 1592.8,585.9C1591.1,576.8 1589.3,566 1586.8,555.1C1584.4,544.3 1581.4,532.3 1578.3,520.9C1575.2,509.5 1571.5,498.1 1568,486.8C1564.6,475.4 1560.9,464 1557.8,452.6C1554.6,441.2 1551.5,429.2 1549.2,418.4C1547,407.5 1545.1,394.4 1544.1,387.6C1543.1,380.8 1543.4,379.1 1543.2,377.4Z" fill="#6699ff" stroke="#1f63ff" stroke-width="1"/>
<path d="M1546.7,391C1550.2,400.1 1560.8,426.9 1568,445.7C1575.3,464.5 1583.7,484.2 1590.3,503.8C1596.8,523.5 1603.3,545.2 1607.4,563.7C1611.4,582.2 1612.6,599 1614.5,615C1616.5,630.9 1618.2,652 1619,659.4C1617.3,657.4 1611.9,652.3 1609.1,647.4C1606.3,642.6 1604.2,636.6 1602.2,630.3C1600.2,624.1 1598.7,617.2 1597.1,609.8C1595.5,602.4 1594.5,595 1592.8,585.9C1591.1,576.8 1589.3,566 1586.8,555.1C1584.4,544.3 1581.4,532.3 1578.3,520.9C1575.2,509.5 1571.5,498.1 1568,486.8C1564.6,475.4 1560.9,464 1557.8,452.6C1554.6,441.2 1551.5,429.2 1549.2,418.4C1547,407.5 1544.5,392.2 1544.1,387.6C1543.7,383 1546.2,390.5 1546.7,391Z" fill="#4a86ff"/>
<path d="M1483.4,401.3C1483.7,399.3 1484.1,393.3 1485.1,389.3C1486.1,385.3 1487,380.9 1489.4,377.4C1491.8,373.8 1496,370.1 1499.7,367.9C1503.4,365.8 1507.4,365 1511.6,364.5C1515.9,364.1 1521.3,364.5 1525.3,365.4C1529.3,366.2 1532.6,367.7 1535.6,369.7C1538.5,371.7 1541.4,374.4 1543.2,377.4C1545.1,380.3 1545.8,383.6 1546.7,387.6C1547.5,391.6 1548.1,399 1548.4,401.3C1547.7,399.6 1546,394.2 1544.1,391C1542.3,387.9 1540.4,384.8 1537.3,382.5C1534.1,380.2 1529.6,378.3 1525.3,377.4C1521,376.4 1515.9,376.3 1511.6,377C1507.4,377.7 1503.1,379.3 1499.7,381.6C1496.2,384 1493.8,387.7 1491.1,391C1488.4,394.3 1484.7,399.6 1483.4,401.3Z" fill="#1a4ef7"/>
<path d="M1509.9,383.3C1508.6,384.6 1504.2,387.5 1502.2,391C1500.2,394.6 1499.5,399 1497.9,404.7C1496.4,410.4 1494.8,417.8 1492.8,425.2C1490.8,432.6 1488.3,441.2 1486,449.1C1483.7,457.1 1481.3,464.5 1479.1,473.1C1477,481.6 1474.6,491 1473.2,500.4C1471.7,509.8 1470.7,520.4 1470.3,529.5C1469.8,538.6 1470,546.6 1470.6,555.1C1471.2,563.7 1472.3,572.2 1474,580.8C1475.7,589.3 1478,597.9 1480.9,606.4C1483.7,615 1487.1,623.8 1491.1,632.1C1495.1,640.3 1499.9,648.9 1504.8,656C1509.6,663.1 1515.2,670.2 1520.2,674.8C1525.2,679.4 1532.3,682.2 1534.7,683.7C1536.3,682.8 1541.1,681.7 1544.1,678.2C1547.1,674.7 1550.2,669.1 1552.6,662.8C1555.1,656.6 1556.9,648.6 1558.6,640.6C1560.3,632.6 1561.8,623.5 1562.9,615C1564,606.4 1564.7,597.9 1565.1,589.3C1565.6,580.8 1565.7,572.2 1565.5,563.7C1565.2,555.1 1564.6,546.6 1563.8,538C1562.9,529.5 1561.6,520.9 1560.3,512.4C1559.1,503.8 1557.6,495.3 1556.1,486.8C1554.5,478.2 1552.5,469.7 1550.9,461.1C1549.4,452.6 1548.1,444 1546.7,435.5C1545.2,426.9 1543.5,416.1 1542.4,409.8C1541.3,403.6 1541,401.7 1539.8,397.9C1538.7,394 1538,389.3 1535.6,386.8C1533.1,384.2 1529.6,383 1525.3,382.5C1521,381.9 1512.5,383.2 1509.9,383.3Z" fill="#4a86ff" stroke="#1f63ff" stroke-width="1"/>
<path d="M1521.9,412.4C1519.3,414 1510.9,417.7 1506.5,421.8C1502.1,425.9 1498.2,431.8 1495.4,437.2C1492.5,442.6 1488.7,448.9 1489.4,454.3C1490.1,459.7 1495.1,452.8 1499.7,469.7C1504.2,486.5 1512.5,526.6 1516.8,555.1C1521,583.6 1522.5,619.4 1525.3,640.6C1528.1,661.8 1532.4,675.5 1533.8,682.5C1535.4,681.6 1540.3,680.7 1543.2,677.4C1546.2,674 1549.2,668.6 1551.6,662.5C1554,656.4 1555.9,648.5 1557.6,640.6C1559.3,632.7 1560.8,623.5 1561.9,615C1563,606.4 1563.7,597.9 1564.1,589.3C1564.5,580.8 1564.7,572.2 1564.4,563.7C1564.2,555.1 1563.6,546.6 1562.7,538C1561.9,529.5 1560.6,520.9 1559.3,512.4C1558,503.8 1556.6,495.3 1555,486.8C1553.5,478.2 1551.6,469.7 1549.9,461.1C1548.2,452.6 1547.1,442.3 1545,435.5C1542.8,428.6 1541.1,423.9 1537.3,420.1C1533.4,416.2 1524.4,413.7 1521.9,412.4Z" fill="#6699ff"/>
<path d="M1503.9,450.9C1502.1,454.6 1495.7,464.8 1492.8,473.1C1490,481.3 1488.2,491 1486.8,500.4C1485.5,509.8 1484.8,520.4 1484.6,529.5C1484.4,538.6 1484.8,546.6 1485.6,555.1C1486.4,563.7 1487.6,572.2 1489.4,580.8C1491.2,589.3 1493.4,597.9 1496.2,606.4C1499.1,615 1502.8,624.1 1506.5,632.1C1510.2,640 1514.5,647.7 1518.5,654.3C1522.5,660.9 1528.4,668.8 1530.4,671.7C1530.2,666.5 1529.6,651.5 1529.1,640.6C1528.5,629.7 1528,617.8 1527.4,606.4C1526.7,595 1526.1,583.6 1525.3,572.2C1524.5,560.8 1523.9,549.4 1522.7,538C1521.6,526.6 1520,514.1 1518.5,503.8C1516.9,493.6 1515,483.9 1513.3,476.5C1511.6,469.1 1509.8,463.7 1508.2,459.4C1506.6,455.1 1504.6,452.3 1503.9,450.9Z" fill="#2b70ff"/>
</g>
<g id="flower1">
<path d="M782.8,444.2L783.6,444.2L784.7,444.3L785.8,444.3L787,444.3L788.4,444.3L789.7,444.3L791.2,444.4L792.6,444.5L793.9,444.7L795.2,444.9L796.4,445.1L797.5,445.5L798.6,445.9L799.7,446.4L800.9,447L802,447.6L803.2,448.3L804.4,449L805.5,449.8L806.7,450.6L807.8,451.5L808.9,452.4L809.9,453.2L811,454.1L811.9,455L812.9,455.9L813.8,456.9L814.7,457.8L815.6,458.8L816.5,459.9L817.3,460.9L818.1,462L818.9,463L819.7,464.1L820.5,465.2L821.2,466.3L821.9,467.4L822.5,468.5L823.1,469.7L823.7,470.8L824.3,472L824.9,473.2L825.5,474.5L826,475.7L826.5,476.9L827.1,478.1L827.6,479.4L828.1,480.5L828.6,481.7L829.1,482.8L829.5,484L830,485.1L830.4,486.3L830.9,487.4L831.3,488.5L831.7,489.5L832,490.5L832.4,491.5L832.7,492.3L832.9,493.1L833.2,493.8L833.3,494.4L833.5,494.9L833.6,495.4L833.7,495.8L833.8,496.2L833.8,496.6L833.9,496.9L834,497.3L834,497.6L834.1,498L834.1,498.3L841.9,496.4L841.8,496.2L841.8,496L841.7,495.7L841.6,495.4L841.5,495L841.4,494.5L841.3,494L841.1,493.4L840.9,492.8L840.7,492.1L840.4,491.3L840.2,490.5L839.8,489.7L839.5,488.8L839.1,487.9L838.7,486.8L838.3,485.7L837.8,484.6L837.4,483.5L836.9,482.3L836.4,481.1L835.8,479.9L835.3,478.7L834.8,477.5L834.2,476.4L833.7,475.2L833.2,474L832.6,472.7L832,471.5L831.4,470.2L830.7,468.9L830.1,467.6L829.4,466.3L828.6,465L827.8,463.7L827,462.5L826.2,461.3L825.4,460.1L824.5,458.9L823.6,457.8L822.7,456.6L821.7,455.5L820.7,454.3L819.7,453.2L818.6,452.1L817.6,451.1L816.5,450.1L815.3,449.1L814.2,448.1L813,447.2L811.8,446.2L810.5,445.3L809.2,444.4L807.9,443.6L806.5,442.8L805.2,442L803.8,441.2L802.4,440.6L801,440L799.5,439.5L798,439L796.4,438.7L794.7,438.5L793.1,438.3L791.5,438.2L789.9,438.2L788.4,438.2L787,438.2L785.8,438.2L784.7,438.2L783.8,438.2L783.1,438.2Z" fill="#7b4862"/>
<path d="M767.4,447C768.8,445.7 772.9,441.6 775.7,439.3C778.4,437.1 781.3,434.8 783.9,433.3C786.5,431.9 790,431 791.2,430.6C790.9,431.5 790.3,434.3 789.4,436.1C788.5,437.9 786.3,440.5 785.7,441.4C784.6,442 781.3,444.1 779.3,445C777.3,446 775.8,446.7 773.8,447C771.8,447.4 768.5,447 767.4,447Z" fill="#a06d8c"/>
<path d="M817.3,524C817.3,522 817.3,515.6 817.6,512.1C817.8,508.6 817.6,505.9 818.7,503.2C819.9,500.5 822.2,497.8 824.7,495.8C827.2,493.8 830.4,492.2 833.6,491.3C836.8,490.4 841,490.4 844,490.4C847,490.5 849.2,490.6 851.4,491.6C853.7,492.6 855.4,494.3 857.4,496.5C859.4,498.7 862.3,503.3 863.3,504.7C870,511.1 891.8,530.2 903.4,543.3C915.1,556.4 927,569.3 933.1,583.4C939.3,597.5 943,618.1 940.6,628C938.1,637.9 931.9,640.4 918.3,642.9C904.7,645.3 875.4,645.3 858.9,642.9C842.3,640.4 825.7,647.8 818.7,628C811.8,608.2 817.5,541.3 817.3,524Z" fill="#1a4ef7"/>
<path d="M824.7,549.3C823.7,555 820.1,571.5 818.7,583.4C817.4,595.3 816.8,610.7 816.5,620.6C816.3,630.5 816.1,635.4 817.3,642.9C818.4,650.3 820.2,658.2 823.2,665.1C826.2,672.1 830.6,679.5 835.1,684.5C839.5,689.4 847.5,693.1 849.9,694.9C851.4,693.2 857.1,688.9 858.9,685.2C860.6,681.5 861.6,682.1 860.6,672.6C859.6,663 857.2,645.3 852.9,628C848.7,610.7 839.8,581.7 835.1,568.6C830.4,555.4 826.4,552.5 824.7,549.3Z" fill="#4a86ff" stroke="#1f63ff" stroke-width="1"/>
<path d="M842.5,650.3C843.3,656.5 845.7,680 847,687.4C848.2,694.8 849.4,693.4 849.9,694.6C851.4,692.9 856.8,688.4 858.6,684.8C860.3,681.1 860.8,678.3 860.3,672.6C859.9,666.8 858.9,654 855.9,650.3C852.9,646.6 844.7,650.3 842.5,650.3Z" fill="#175dff"/>
<path d="M824.7,550C823.7,555.6 819.9,572.9 818.7,583.4C817.6,594 817.3,603.2 818,613.1C818.7,623 820.8,634.2 823.2,642.9C825.6,651.5 828.6,658.2 832.1,665.1C835.6,672.1 841.5,680.6 844,684.5C846.5,688.3 846.7,687.6 847.3,688.2C846.7,683.1 846,667.7 844,657.7C842,647.7 837.6,637.9 835.1,628C832.6,618.1 830.5,608.2 829.1,598.3C827.8,588.4 827.7,576.6 826.9,568.6C826.2,560.5 825.1,553.1 824.7,550Z" fill="#1546fb"/>
<path d="M872.2,538.9C876.2,543.8 889.6,558.7 896,568.6C902.4,578.5 906.4,588.4 910.9,598.3C915.3,608.2 919.8,619.3 922.7,628C925.7,636.7 927.8,644.1 928.7,650.3C929.6,656.5 929,660.9 928.2,665.1C927.5,669.4 925.9,673.2 924.2,675.5C922.6,677.9 919.3,678.5 918.3,679.1C917.3,678 913.6,676.1 912.3,672.6C911.1,669 912.8,667.6 910.9,657.7C908.9,647.8 905.4,629.2 900.5,613.1C895.5,597 885.8,573.5 881.1,561.1C876.4,548.8 873.7,542.6 872.2,538.9Z" fill="#4a86ff" stroke="#1f63ff" stroke-width="1"/>
<path d="M907.9,635.4C909.4,641.1 915.1,662.4 916.8,669.6C918.5,676.8 918,677.3 918.3,678.8C917.3,677.7 913.6,675.8 912.3,672.3C911.1,668.8 911.8,663.9 910.9,657.7C909.9,651.6 906.9,639.1 906.4,635.4C905.9,631.7 907.6,635.4 907.9,635.4Z" fill="#175dff"/>
<path d="M872.2,538.9C875.4,542.8 885.8,554 891.5,562.6C897.2,571.3 902.2,581.2 906.4,590.9C910.6,600.5 914.2,611.9 916.8,620.6C919.4,629.2 921.2,636.2 922,642.9C922.8,649.5 922.4,656.1 921.6,660.7C920.7,665.3 917.8,668.7 917.1,670.3C916.1,664.5 913.6,646.2 910.9,635.4C908.1,624.7 904.4,615.6 900.5,605.7C896.5,595.8 891.8,587.1 887.1,576C882.4,564.9 874.7,545 872.2,538.9Z" fill="#1546fb"/>
<path d="M835.1,623.5C835.6,626.3 836.8,634.9 838.1,639.9C839.3,644.8 841.8,651 842.5,653.3C843.1,652.7 846,652.7 845.8,650C845.5,647.3 842.6,641.3 841,636.9C839.5,632.5 837.6,625.8 836.6,623.5C835.6,621.3 835.3,623.5 835.1,623.5Z" fill="#d6e9ea"/>
<path d="M897.5,590.9C899,594.1 903.9,604 906.4,610.2C908.9,616.4 911.4,625 912.3,628C913.1,627.8 917,629.7 916.8,626.5C916.6,623.3 913.6,614.4 910.9,608.7C908.1,603 902.7,595.3 900.5,592.3C898.2,589.4 898,591.1 897.5,590.9Z" fill="#d6e9ea"/>
<g transform="translate(843.6 658.2) rotate(-42)"><ellipse rx="9.5" ry="3.8" fill="#1238a2" stroke="#0a2278" stroke-width="1"/><path d="M-8.1,0.4 Q0,3.4 8.1,0.4" fill="none" stroke="#0a2278" stroke-width="0.9"/></g>
<g transform="translate(917.5 632.2) rotate(10)"><ellipse rx="10.5" ry="4" fill="#1238a2" stroke="#0a2278" stroke-width="1"/><path d="M-8.9,0.4 Q0,3.6 8.9,0.4" fill="none" stroke="#0a2278" stroke-width="0.9"/></g>
<path d="M823.2,506.2C822.2,509.1 819.2,518.6 817.3,524C815.3,529.4 813.5,533.2 811.3,538.9C809.1,544.6 806.4,552 803.9,558.2C801.4,564.4 798.7,570.3 796.5,576C794.2,581.7 792.2,587.4 790.5,592.3C788.8,597.3 787.2,601 786.1,605.7C784.9,610.4 784.2,615.6 783.8,620.6C783.5,625.5 783.5,630.2 783.8,635.4C784.2,640.6 784.9,646.8 786.1,651.8C787.2,656.7 788.5,660.4 790.5,665.1C792.5,669.8 795.2,675.5 797.9,680C800.7,684.5 802.8,688.2 806.9,691.9C810.9,695.5 819.9,700.2 822.5,701.8C822,698.9 820.4,690.6 819.5,684.5C818.6,678.3 817.9,672.1 817.3,665.1C816.6,658.2 816,650.3 815.8,642.9C815.6,635.4 815.8,628 816.1,620.6C816.4,613.1 816.9,607 817.6,598.3C818.2,589.6 819.3,578.5 820.2,568.6C821.2,558.7 822.3,547.5 823.2,538.9C824.1,530.2 825.1,522.5 825.4,516.6C825.8,510.6 825.8,504.9 825.4,503.2C825.1,501.5 823.6,505.7 823.2,506.2Z" fill="#6699ff" stroke="#1f63ff" stroke-width="1"/>
<path d="M823.2,509.1C821.7,515.3 817,533.9 814.3,546.3C811.6,558.7 808.6,572.3 806.9,583.4C805.1,594.6 804.3,603.2 803.9,613.1C803.5,623 803.6,633 804.6,642.9C805.6,652.8 806.9,662.9 809.8,672.6C812.7,682.2 820,696.1 822,700.8C821.6,698.1 820.3,690.4 819.5,684.5C818.7,678.5 817.9,672.1 817.3,665.1C816.6,658.2 816,650.3 815.8,642.9C815.6,635.4 815.8,628 816.1,620.6C816.4,613.1 816.9,607 817.6,598.3C818.2,589.6 819.3,578.5 820.2,568.6C821.2,558.7 822.3,547.5 823.2,538.9C824.1,530.2 825.1,522.5 825.4,516.6C825.8,510.6 825.8,504.4 825.4,503.2C825.1,502 823.6,508.2 823.2,509.1Z" fill="#4a86ff"/>
<path d="M855.9,497.3C857.4,499 861.8,504.4 864.8,507.7C867.8,510.9 869.8,512.7 873.7,516.6C877.7,520.4 883.6,526.2 888.6,530.7C893.5,535.1 898.5,539.1 903.4,543.3C908.4,547.5 913.3,551.7 918.3,555.9C923.2,560.2 928.9,564.6 933.1,568.6C937.4,572.5 940.3,576 943.5,579.7C946.8,583.4 949.9,587 952.5,590.9C955.1,594.7 957.4,599 959.1,602.7C960.9,606.5 961.8,609.4 962.9,613.1C963.9,616.9 965,621.3 965.5,625C966,628.7 965.9,631.7 965.8,635.4C965.8,639.1 965.6,643.6 965.1,647.3C964.6,651 964.5,653.7 962.9,657.7C961.2,661.7 956.7,669.1 955.4,671.4C953.9,670.3 949.2,667.9 946.5,665.1C943.8,662.4 941.6,659 939.1,654.7C936.6,650.5 934.1,645.6 931.7,639.9C929.2,634.2 927.2,627.5 924.2,620.6C921.3,613.6 917.8,606.2 913.8,598.3C909.9,590.4 905.2,581.4 900.5,573C895.8,564.6 890.6,555.9 885.6,547.8C880.6,539.6 875.7,532.4 870.7,524C865.8,515.6 858.4,501.7 855.9,497.3Z" fill="#6699ff" stroke="#1f63ff" stroke-width="1"/>
<path d="M860.3,504.7C865,510.4 879.4,527 888.6,538.9C897.7,550.7 907.9,563.6 915.3,576C922.7,588.4 928.2,602 933.1,613.1C938.1,624.3 941.4,633.3 945,642.9C948.7,652.4 953.3,665.9 955,670.5C953.6,669.6 949.2,667.8 946.5,665.1C943.9,662.5 941.6,659 939.1,654.7C936.6,650.5 934.1,645.6 931.7,639.9C929.2,634.2 927.2,627.5 924.2,620.6C921.3,613.6 917.8,606.2 913.8,598.3C909.9,590.4 905.2,581.4 900.5,573C895.8,564.6 890.6,555.9 885.6,547.8C880.6,539.6 875,531.2 870.7,524C866.5,516.8 862.1,507.9 860.3,504.7Z" fill="#4a86ff"/>
<path d="M817.3,515.1C817.5,513.1 817.5,506.4 818.7,503.2C820,500 822.2,497.8 824.7,495.8C827.2,493.8 830.4,492.2 833.6,491.3C836.8,490.4 841,490.4 844,490.4C847,490.5 849.2,490.6 851.4,491.6C853.7,492.6 855.4,494.3 857.4,496.5C859.4,498.7 862.3,503.3 863.3,504.7C862.3,504.4 859.6,504.1 857.4,503.2C855.1,502.3 852.4,500.3 849.9,499.5C847.5,498.7 845.2,498.3 842.5,498.4C839.8,498.6 836.3,498.9 833.6,500.2C830.9,501.5 828.9,503.7 826.2,506.2C823.4,508.6 818.7,513.6 817.3,515.1Z" fill="#1a4ef7"/>
<path d="M838.1,501C837.1,502.1 833.6,505.1 832.1,507.7C830.6,510.3 829.8,511.9 829.1,516.6C828.4,521.3 828.1,529.7 828,535.9C827.8,542.1 828.3,547.5 828.4,553.7C828.5,559.9 828.5,566.8 828.7,573C828.9,579.2 828.9,584.7 829.4,590.9C830,597 830.9,604 831.8,610.2C832.8,616.4 833.4,622.1 835.1,628C836.7,633.9 839.3,640.4 841.8,645.8C844.2,651.3 846.7,656 849.9,660.7C853.2,665.4 857.1,669.8 861.1,674.1C865,678.3 869.6,682.6 873.7,685.9C877.8,689.3 881.6,691.8 885.6,694.1C889.6,696.4 894.3,698.6 897.5,699.6C900.7,700.7 903.7,700.2 904.9,700.4C905.8,699.4 908.9,697 910.1,694.9C911.4,692.7 911.9,691.1 912.3,687.4C912.8,683.7 912.9,677.5 912.6,672.6C912.4,667.6 911.6,663.2 910.9,657.7C910.1,652.3 909.1,646.1 907.9,639.9C906.6,633.7 905.1,627 903.4,620.6C901.7,614.1 899.8,607.4 897.8,601.3C895.8,595.1 893.8,589.5 891.5,583.4C889.3,577.4 886.9,571 884.4,564.9C881.9,558.7 879.2,552 876.7,546.3C874.2,540.6 871.7,535.6 869.3,530.7C866.8,525.7 863.9,520.4 861.8,516.6C859.7,512.7 858.6,510.1 856.6,507.7C854.6,505.2 852,503.1 849.9,501.7C847.8,500.4 846,499.6 844,499.5C842,499.4 839,500.7 838.1,501Z" fill="#4a86ff" stroke="#1f63ff" stroke-width="1"/>
<path d="M850.7,521.8C849.1,522.9 843.8,525.1 841,528.5C838.3,531.8 835.8,538.1 834.3,541.8C832.9,545.5 830.5,547.5 832.1,550.7C833.7,554 838.3,548.3 844,561.1C849.7,574 858.9,608.2 866.3,628C873.7,647.8 882.3,668.1 888.6,680C894.9,691.9 901.6,696.1 904.2,699.3C905,698.5 908.2,696.3 909.4,694.3C910.6,692.2 911.1,690.7 911.5,687.1C911.8,683.5 912,677.5 911.7,672.6C911.5,667.7 910.8,663.2 910,657.7C909.2,652.3 908.2,646.1 907,639.9C905.8,633.7 904.2,627 902.5,620.6C900.9,614.1 898.9,607.4 896.9,601.3C894.9,595.1 892.9,589.5 890.7,583.4C888.4,577.4 886,570.9 883.5,564.9C881,558.8 878.4,552.4 875.5,547C872.6,541.7 870.4,537.1 866.3,532.9C862.2,528.7 853.3,523.6 850.7,521.8Z" fill="#6699ff"/>
<path d="M841,551.5C840.5,553.8 838.6,560.3 838.1,565.6C837.6,570.9 837.6,576.7 838.1,583.4C838.6,590.1 839.5,598.3 841,605.7C842.5,613.1 844.2,620.6 847,628C849.7,635.4 853.4,643.4 857.4,650.3C861.3,657.2 866.3,664.2 870.7,669.6C875.2,675 880.2,679.3 884.1,683C888.1,686.6 892.8,690.2 894.5,691.6C893.5,688.4 890.8,680.2 888.6,672.6C886.3,664.9 883.6,654.5 881.1,645.8C878.7,637.2 876.4,629.5 873.7,620.6C871,611.7 868,601 864.8,592.3C861.6,583.7 857.6,574.9 854.4,568.6C851.2,562.3 847.7,557.3 845.5,554.5C843.3,551.6 841.8,552 841,551.5Z" fill="#2b70ff"/>
</g>
<g id="flower2">
<path d="M874.2,266.6L875,266.7L876,266.7L877.2,266.7L878.4,266.8L879.7,266.8L881.1,266.9L882.5,266.9L884,267.1L885.3,267.2L886.6,267.5L887.8,267.7L888.9,268.1L890,268.5L891.1,269L892.3,269.6L893.4,270.2L894.6,270.9L895.8,271.7L896.9,272.5L898.1,273.3L899.2,274.1L900.3,275L901.4,275.9L902.4,276.7L903.4,277.6L904.3,278.5L905.2,279.5L906.1,280.5L907,281.5L907.9,282.6L908.7,283.7L909.6,284.7L910.4,285.8L911.2,286.9L911.9,288L912.7,289.1L913.4,290.1L914.1,291.1L914.7,292.1L915.3,293.1L915.9,294.1L916.4,295.1L917,296.1L917.5,297.1L918,298.1L918.5,299.2L919,300.3L919.5,301.4L920,302.5L920.5,303.7L921,304.9L921.5,306.3L922,307.6L922.4,308.9L922.9,310.2L923.3,311.5L923.7,312.7L924.1,313.8L924.4,314.9L924.7,315.7L925,316.5L925.2,317.1L925.3,317.6L925.5,318.1L925.6,318.5L925.7,318.8L925.7,319L925.8,319.3L925.8,319.5L925.9,319.7L925.9,320L926,320.2L933.6,317.9L933.6,317.7L933.5,317.6L933.5,317.4L933.4,317.2L933.3,316.9L933.2,316.5L933,316.2L932.9,315.7L932.7,315.2L932.5,314.6L932.2,313.9L932,313.2L931.6,312.3L931.3,311.3L930.9,310.2L930.4,309L930,307.7L929.5,306.4L929,305L928.5,303.6L927.9,302.2L927.3,300.9L926.8,299.5L926.2,298.3L925.6,297.1L925.1,296L924.5,294.9L923.9,293.8L923.3,292.6L922.7,291.6L922,290.5L921.4,289.4L920.7,288.3L919.9,287.2L919.2,286.1L918.4,285L917.6,283.9L916.8,282.8L915.9,281.7L915,280.5L914.1,279.4L913.1,278.2L912.2,277.1L911.1,275.9L910.1,274.8L909,273.8L907.9,272.7L906.8,271.7L905.6,270.8L904.4,269.8L903.2,268.9L901.9,268L900.6,267.1L899.3,266.2L898,265.4L896.6,264.6L895.2,263.9L893.8,263.2L892.4,262.6L891,262.1L889.4,261.6L887.8,261.3L886.2,261L884.6,260.9L882.9,260.8L881.4,260.7L879.9,260.7L878.5,260.7L877.2,260.7L876.2,260.7L875.3,260.7L874.6,260.6Z" fill="#7b4862"/>
<path d="M859.8,269.7C861.1,268.4 865.3,264.3 868,262C870.7,259.7 873.6,257.4 876.2,255.9C878.8,254.5 882.3,253.7 883.5,253.2C883.2,254.1 882.6,256.9 881.7,258.7C880.8,260.5 878.7,263.1 878.1,264C877,264.6 873.6,266.7 871.7,267.6C869.7,268.6 868.2,269.3 866.2,269.7C864.2,270 860.8,269.7 859.8,269.7Z" fill="#a06d8c"/>
<path d="M909.3,350.9C909.4,348.6 909.5,341.2 909.9,336.9C910.3,332.6 910.6,328.3 911.6,325.2C912.7,322 914.2,319.6 916.3,317.8C918.5,316 921.4,315 924.5,314.3C927.7,313.5 932,313 935.1,313.1C938.2,313.2 940.9,313.6 943.3,314.8C945.6,316.1 948.2,319.5 949.1,320.5C955.2,327.9 974.5,350.5 985.5,365C996.4,379.5 1008.3,390.4 1014.8,407.2C1021.2,424 1023.6,452.1 1024.1,465.8C1024.7,479.5 1028.6,485.3 1018.3,489.2C1007.9,493.1 978.6,493.1 962,489.2C945.4,485.3 927.5,488.8 918.7,465.8C909.9,442.7 910.9,370.1 909.3,350.9Z" fill="#1a4ef7"/>
<path d="M924.5,436.5C924.9,441.4 925.5,456 926.9,465.8C928.2,475.5 930.8,487.3 932.7,495.1C934.7,502.9 936.2,509.1 938.6,512.7C940.9,516.2 944.5,516.4 946.8,516.4C949.1,516.4 951.2,514.8 952.7,512.7C954.1,510.5 955.2,507.2 955.2,503.3C955.2,499.4 954.3,496.4 952.7,489.2C951.1,482 950.3,468.7 945.6,459.9C940.9,451.1 928,440.4 924.5,436.5Z" fill="#175dff" stroke="#1f63ff" stroke-width="1"/>
<path d="M925.7,448.2C926.3,452.1 927.7,463.8 929.2,471.6C930.8,479.5 932.7,488.2 935.1,495.1C937.4,501.9 941.9,509.7 943.3,512.7C942.9,508.8 942.3,497 940.9,489.2C939.6,481.4 937,472.6 935.1,465.8C933.1,458.9 930.8,451.1 929.2,448.2C927.7,445.3 926.3,448.2 925.7,448.2Z" fill="#1546fb"/>
<path d="M932.7,495.1C933.7,498 936.2,509.1 938.6,512.7C940.9,516.2 945.4,515.6 946.8,516.2C946.2,514.6 944.5,509.7 943.3,506.8C942.1,503.9 941.5,500.5 939.8,498.6C938,496.6 933.9,495.7 932.7,495.1Z" fill="#4a86ff"/>
<path d="M997.2,465.8C998.4,469.7 1002.8,483.6 1004.2,489.2C1005.7,494.9 1005,497.6 1006,499.8C1007,502 1008.4,502.3 1010.1,502.3C1011.7,502.4 1014.5,501.8 1015.9,500C1017.3,498.2 1018.3,495.3 1018.5,491.6C1018.7,487.8 1018.7,485.7 1017.1,477.5C1015.5,469.3 1012.2,444.3 1008.9,442.3C1005.6,440.4 999.1,461.9 997.2,465.8Z" fill="#175dff" stroke="#1f63ff" stroke-width="1"/>
<path d="M950.3,328.7C953.4,333.2 963.2,346.4 969.1,355.6C974.9,364.8 980.6,374.2 985.5,383.8C990.4,393.3 994.8,403.3 998.4,413C1001.9,422.8 1004.3,432.6 1006.6,442.3C1008.8,452.1 1010.8,463.4 1011.8,471.6C1012.9,479.8 1012.8,488.2 1013,491.6C1011.9,489.2 1008.4,483.8 1006.6,477.5C1004.7,471.2 1003.8,461.9 1001.9,454.1C999.9,446.2 997.6,438.4 994.8,430.6C992.1,422.8 989,415.4 985.5,407.2C982,399 977.7,389.2 973.8,381.4C969.8,373.6 965.9,369.1 962,360.3C958.1,351.5 952.3,333.9 950.3,328.7Z" fill="#1546fb"/>
<path d="M912.2,328.7C911.8,330.4 910.7,334.7 909.9,339.2C909.1,343.7 908.6,349 907.5,355.6C906.5,362.3 905.1,371.2 903.4,379.1C901.8,386.9 899.1,394.9 897.6,402.5C896,410.1 894.8,418.1 894.1,424.8C893.3,431.4 892.8,436.5 892.9,442.3C893,448.2 893.6,454.1 894.6,459.9C895.7,465.8 897.3,471.6 899.3,477.5C901.4,483.4 903.7,489.6 907,495.1C910.2,500.5 914.8,506.2 918.7,510.3C922.6,514.4 926.5,517.5 930.4,519.7C934.2,521.9 939.9,522.8 941.8,523.4C941,521.2 939.1,516 937.4,510.3C935.7,504.6 933.5,496.6 931.6,489.2C929.6,481.8 927.4,473.6 925.7,465.8C924,458 922.7,450.2 921.6,442.3C920.5,434.5 919.8,426.7 919.3,418.9C918.7,411.1 918.3,403.3 918.1,395.5C917.9,387.7 918,379.8 918.1,372C918.2,364.2 918.8,355.6 918.7,348.6C918.6,341.6 918.6,333.2 917.5,329.8C916.4,326.5 913.1,328.9 912.2,328.7Z" fill="#6699ff" stroke="#1f63ff" stroke-width="1"/>
<path d="M914.6,336.9C914.1,342.7 912.3,360.3 911.6,372C911,383.8 910.4,395.5 910.5,407.2C910.6,418.9 911.1,431.6 912.2,442.3C913.4,453.1 915.1,462.3 917.5,471.6C919.9,481 922.9,490.1 926.9,498.6C930.8,507.1 938.8,518.6 941.2,522.6C940.5,520.6 939,515.9 937.4,510.3C935.8,504.7 933.5,496.6 931.6,489.2C929.6,481.8 927.4,473.6 925.7,465.8C924,458 922.7,450.2 921.6,442.3C920.5,434.5 919.8,426.7 919.3,418.9C918.7,411.1 918.3,403.3 918.1,395.5C917.9,387.7 918,379.8 918.1,372C918.2,364.2 918.8,355.6 918.7,348.6C918.6,341.6 918.2,331.8 917.5,329.8C916.8,327.9 915.1,335.7 914.6,336.9Z" fill="#4a86ff"/>
<path d="M945.6,319.3C948.4,322.2 957.3,331.6 962,336.9C966.7,342.1 969.8,346.2 973.8,350.9C977.7,355.6 981.6,360.3 985.5,365C989.4,369.7 993.3,374.4 997.2,379.1C1001.1,383.8 1005,388.4 1008.9,393.1C1012.8,397.8 1016.9,402.5 1020.6,407.2C1024.3,411.9 1028.2,416.4 1031.2,421.2C1034.1,426.1 1036.3,431 1038.2,436.5C1040.1,442 1041.5,448.2 1042.3,454.1C1043.1,459.9 1043.6,465.8 1043.1,471.6C1042.7,477.5 1041.2,484.3 1039.6,489.2C1038,494.1 1035.3,498.7 1033.8,500.9C1032.2,503.2 1031.1,502.6 1030.6,502.9C1029.3,501.4 1025.2,497.8 1023,493.9C1020.7,490.1 1018.9,485.5 1017.1,479.8C1015.4,474.2 1014,467.1 1012.4,459.9C1010.9,452.7 1009.9,444.3 1007.7,436.5C1005.6,428.7 1002.7,420.9 999.5,413C996.4,405.2 992.9,397.4 989,389.6C985.1,381.8 980.6,373.6 976.1,366.2C971.6,358.8 966.3,351.3 962,345.1C957.7,338.8 953,333 950.3,328.7C947.6,324.4 946.4,320.9 945.6,319.3Z" fill="#6699ff" stroke="#1f63ff" stroke-width="1"/>
<path d="M952.7,328.7C955.4,333.2 963.6,346.4 969.1,355.6C974.5,364.8 980.2,374.2 985.5,383.8C990.7,393.3 996.2,403.3 1000.7,413C1005.2,422.8 1009.3,433.6 1012.4,442.3C1015.5,451.1 1017.3,458 1019.5,465.8C1021.6,473.6 1023.5,483.2 1025.3,489.2C1027.1,495.3 1029.4,500 1030.2,502.1C1029,500.7 1025.2,497.6 1023,493.9C1020.8,490.2 1018.9,485.5 1017.1,479.8C1015.4,474.2 1014,467.1 1012.4,459.9C1010.9,452.7 1009.9,444.3 1007.7,436.5C1005.6,428.7 1002.7,420.9 999.5,413C996.4,405.2 992.9,397.4 989,389.6C985.1,381.8 980.6,373.6 976.1,366.2C971.6,358.8 966.3,351.3 962,345.1C957.7,338.8 951.9,331.4 950.3,328.7C948.8,325.9 952.3,328.7 952.7,328.7Z" fill="#4a86ff"/>
<path d="M909.3,340.4C909.4,339.8 909.5,339.4 909.9,336.9C910.3,334.3 910.6,328.3 911.6,325.2C912.7,322 914.2,319.6 916.3,317.8C918.5,316 921.4,315 924.5,314.3C927.7,313.5 932,313 935.1,313.1C938.2,313.2 940.9,313.6 943.3,314.8C945.6,316.1 947.2,318.2 949.1,320.5C951.1,322.8 954,327.3 955,328.7C954,328.3 951.5,327.5 949.1,326.3C946.8,325.2 943.9,322.6 940.9,321.6C938,320.7 934.5,320.4 931.6,320.7C928.6,321 925.7,321.9 923.4,323.4C921,324.9 919.8,327 917.5,329.8C915.2,332.7 910.7,338.6 909.3,340.4Z" fill="#1a4ef7"/>
<path d="M926.9,324C926,325 922.8,326.7 921.6,329.8C920.4,333 920.2,337.7 919.8,342.7C919.5,347.8 919.5,353.5 919.6,360.3C919.7,367.1 920.1,375.9 920.4,383.8C920.8,391.6 921,399.4 921.6,407.2C922.2,415 922.7,422.8 923.9,430.6C925.2,438.4 926.8,446.6 929.2,454.1C931.7,461.5 934.7,468.1 938.6,475.2C942.5,482.2 947.2,490 952.7,496.2C958.1,502.5 965.5,508.5 971.4,512.7C977.3,516.9 983.5,519.7 987.8,521.4C992.1,523.1 995.6,522.6 997.2,522.9C998,521.9 1000.7,520 1001.9,517.3C1003,514.7 1003.9,511.5 1004.2,506.8C1004.6,502.1 1004.5,496.1 1004,489.2C1003.5,482.4 1002.6,473.6 1001.3,465.8C1000,458 998.1,450.2 996,442.3C994,434.5 991.5,426.3 989,418.9C986.4,411.5 983.7,404.8 980.8,397.8C977.9,390.8 974.5,383.4 971.4,376.7C968.3,370.1 965,363.8 962,358C959.1,352.1 956.4,346.4 953.8,341.6C951.3,336.7 948.9,331.7 946.8,328.7C944.6,325.6 943.1,324.5 940.9,323.4C938.8,322.3 936.2,322.1 933.9,322.2C931.6,322.3 928,323.7 926.9,324Z" fill="#4a86ff" stroke="#1f63ff" stroke-width="1"/>
<path d="M938.6,344.5C937.2,346 932.6,349.7 930.4,353.3C928.1,356.9 925.7,362.1 925.1,366.2C924.5,370.3 925.6,373 926.9,377.9C928.1,382.8 930.4,386.7 932.7,395.5C935.1,404.3 937,418.9 940.9,430.6C944.8,442.3 950.3,454.1 956.2,465.8C962,477.5 969.4,491.6 976.1,500.9C982.8,510.3 993.2,518.5 996.6,522C997.4,521.2 1000,519.4 1001.2,516.9C1002.3,514.3 1003.1,511.4 1003.4,506.8C1003.7,502.2 1003.7,496.1 1003.2,489.2C1002.7,482.4 1001.8,473.6 1000.5,465.8C999.1,458 997.2,450.2 995.2,442.3C993.1,434.5 990.7,426.3 988.2,418.9C985.6,411.5 982.9,404.7 980,397.8C977,390.9 973.8,383.8 970.6,377.3C967.4,370.9 964.2,364.1 960.9,359.1C957.5,354.2 954,349.9 950.3,347.4C946.6,345 940.5,345 938.6,344.5Z" fill="#6699ff"/>
<path d="M933.3,373.8C932.9,376.4 931.5,384 931,389.6C930.5,395.2 930.1,400.4 930.4,407.2C930.7,414 931.4,422.8 932.7,430.6C934.1,438.4 935.9,446.2 938.6,454.1C941.3,461.9 944.8,470.1 949.1,477.5C953.4,484.9 958.9,492.7 964.4,498.6C969.8,504.5 977.3,509.3 982,512.7C986.6,516 990.7,517.5 992.5,518.5C991.3,515.6 988.2,507.8 985.5,500.9C982.7,494.1 979,485.3 976.1,477.5C973.2,469.7 970.4,461.9 967.9,454.1C965.4,446.2 963.2,437.9 960.9,430.6C958.5,423.4 956.4,417.1 953.8,410.7C951.3,404.3 948.2,397 945.6,392C943.1,386.9 940.6,383.3 938.6,380.2C936.5,377.2 934.2,374.9 933.3,373.8Z" fill="#2b70ff"/>
</g>
<g id="flower3">
<path d="M989.4,196.4L990.2,196.5L991.2,196.5L992.4,196.5L993.6,196.6L994.9,196.6L996.3,196.7L997.8,196.8L999.2,196.9L1000.6,197L1001.9,197.2L1003.2,197.4L1004.3,197.7L1005.4,198.1L1006.6,198.5L1007.8,199L1008.9,199.5L1010.1,200L1011.3,200.6L1012.4,201.2L1013.6,201.8L1014.7,202.5L1015.7,203.2L1016.8,203.9L1017.8,204.7L1018.7,205.4L1019.7,206.2L1020.6,207.1L1021.5,207.9L1022.3,208.8L1023.2,209.8L1024,210.7L1024.8,211.7L1025.6,212.7L1026.4,213.8L1027.1,214.8L1027.9,215.9L1028.5,216.9L1029.2,218L1029.8,219.1L1030.4,220.2L1031,221.4L1031.6,222.6L1032.1,223.8L1032.7,225L1033.2,226.2L1033.7,227.5L1034.2,228.7L1034.7,229.9L1035.1,231.1L1035.5,232.3L1035.9,233.6L1036.4,234.9L1036.7,236.2L1037.1,237.5L1037.5,238.8L1037.8,240L1038.1,241.2L1038.4,242.3L1038.7,243.3L1039,244.2L1039.2,245L1039.3,245.6L1039.5,246.2L1039.6,246.6L1039.7,247L1039.8,247.3L1039.8,247.6L1039.9,247.9L1039.9,248.1L1040,248.3L1040,248.5L1040,248.8L1047.8,246.7L1047.7,246.5L1047.7,246.3L1047.6,246.2L1047.5,245.9L1047.4,245.7L1047.3,245.3L1047.2,245L1047.1,244.5L1046.9,244L1046.8,243.5L1046.5,242.8L1046.3,242L1046,241.2L1045.8,240.2L1045.4,239.2L1045.1,238L1044.7,236.7L1044.3,235.4L1043.9,234L1043.5,232.6L1043,231.2L1042.5,229.8L1042,228.5L1041.5,227.2L1040.9,225.9L1040.4,224.6L1039.8,223.4L1039.3,222.1L1038.7,220.8L1038,219.5L1037.4,218.2L1036.7,216.9L1036,215.6L1035.2,214.4L1034.4,213.1L1033.6,211.9L1032.8,210.8L1031.9,209.6L1031.1,208.5L1030.2,207.4L1029.2,206.3L1028.2,205.2L1027.2,204.1L1026.2,203.1L1025.2,202.1L1024.1,201.1L1022.9,200.2L1021.8,199.3L1020.6,198.5L1019.4,197.7L1018.1,196.9L1016.8,196.2L1015.5,195.4L1014.2,194.8L1012.9,194.1L1011.5,193.5L1010.1,193L1008.8,192.5L1007.4,192L1006,191.6L1004.5,191.3L1002.9,191L1001.3,190.8L999.7,190.7L998.1,190.6L996.6,190.5L995.1,190.5L993.7,190.5L992.5,190.5L991.4,190.4L990.5,190.4L989.8,190.4Z" fill="#7b4862"/>
<path d="M974.1,199.3C975.4,198 979.5,193.8 982.3,191.6C985,189.3 987.9,187.2 990.5,185.7C993.1,184.2 996.6,183 997.8,182.4C997.5,183.4 996.9,186.4 996,188.3C995.1,190.2 993,192.9 992.3,193.8C991.3,194.4 987.9,196.5 985.9,197.4C984,198.3 982.4,199 980.5,199.3C978.5,199.6 975.1,199.3 974.1,199.3Z" fill="#a06d8c"/>
<path d="M1023.5,281.3C1023.5,279.9 1023.2,276.5 1023.5,272.5C1023.7,268.6 1023.8,261.8 1024.9,257.9C1026,254 1027.7,251.4 1030.1,249.1C1032.4,246.8 1035.4,245.1 1038.9,244C1042.3,242.9 1047.2,242.4 1050.6,242.5C1054,242.6 1056.7,243.1 1059.4,244.7C1062,246.3 1064,248.6 1066.7,252C1069.4,255.5 1071.3,258.6 1075.5,265.2C1079.6,271.8 1088.9,287.2 1091.6,291.6C1095.7,298.2 1112.3,314.8 1116.5,331.1C1120.6,347.5 1128.7,384.9 1116.5,389.7C1104.3,394.6 1057.7,373.9 1043.2,360.4C1028.8,347 1033.4,322.4 1030.1,309.2C1026.8,296 1024.6,286 1023.5,281.3Z" fill="#1a4ef7"/>
<path d="M1023.5,265.2C1024,270.1 1025.1,286 1026.4,294.5C1027.7,303.1 1030.7,312.8 1031.5,316.5C1032.1,311.6 1034.7,296 1035.2,287.2C1035.7,278.4 1035.3,268.6 1034.5,263.8C1033.6,258.9 1031.9,257.7 1030.1,257.9C1028.2,258.1 1024.6,264 1023.5,265.2Z" fill="#175dff"/>
<path d="M1030.1,310.6C1029.8,315.3 1028.6,330.2 1028.6,338.5C1028.6,346.8 1029.1,353.1 1030.1,360.4C1031,367.8 1032.5,375.1 1034.5,382.4C1036.4,389.7 1038.6,397.6 1041.8,404.4C1045,411.2 1048.9,417.8 1053.5,423.4C1058.1,429 1065,434.7 1069.6,438.1C1074.3,441.5 1077.9,442.5 1081.3,443.9C1084.8,445.3 1088.9,446 1090.4,446.4C1087.4,441.9 1079.2,433.4 1072.5,419C1065.9,404.7 1056.4,377.5 1050.6,360.4C1044.7,343.3 1040.8,324.8 1037.4,316.5C1034,308.2 1031.3,311.6 1030.1,310.6Z" fill="#6699ff" stroke="#1f63ff" stroke-width="1"/>
<path d="M1063.8,249.1C1065.7,251.8 1072.1,259.8 1075.5,265.2C1078.9,270.6 1081.1,276.2 1084.3,281.3C1087.4,286.5 1090.9,291.1 1094.5,296C1098.2,300.9 1102.3,305.5 1106.2,310.6C1110.1,315.8 1114.3,321.4 1118,326.7C1121.6,332.1 1125.3,337.5 1128.2,342.9C1131.1,348.2 1133.5,353.6 1135.5,359C1137.6,364.3 1139.3,369.5 1140.7,375.1C1142,380.7 1143.2,386.8 1143.7,392.7C1144.3,398.5 1144.4,404.9 1143.7,410.2C1143.1,415.6 1141.5,420.7 1139.9,424.9C1138.3,429 1136,432.7 1134.1,435.2C1132.1,437.6 1129.2,439.1 1128.2,439.8C1127,438.8 1123.1,436.2 1121.2,433.7C1119.3,431.2 1118.1,429.8 1116.9,424.9C1115.8,420 1115.5,412.7 1114.3,404.4C1113.1,396.1 1111.7,384.9 1109.9,375.1C1108.1,365.3 1105.9,355.6 1103.3,345.8C1100.7,336 1097.7,325.5 1094.5,316.5C1091.3,307.5 1087.7,298.9 1084.3,291.6C1080.8,284.3 1077.4,279.6 1074,272.5C1070.6,265.5 1065.5,253 1063.8,249.1Z" fill="#6699ff" stroke="#1f63ff" stroke-width="1"/>
<path d="M1071.1,263.8C1073.3,267.7 1079.6,278.4 1084.3,287.2C1088.9,296 1094.8,306.7 1098.9,316.5C1103.1,326.3 1106.2,336 1109.2,345.8C1112.1,355.6 1114.5,365.3 1116.5,375.1C1118.4,384.9 1119.9,395.6 1120.9,404.4C1121.9,413.2 1122.4,423.9 1122.6,427.8C1121.7,427.3 1118.3,428.8 1116.9,424.9C1115.5,421 1115.5,412.7 1114.3,404.4C1113.1,396.1 1111.7,384.9 1109.9,375.1C1108.1,365.3 1105.9,355.6 1103.3,345.8C1100.7,336 1097.7,325.5 1094.5,316.5C1091.3,307.5 1087.7,298.9 1084.3,291.6C1080.8,284.3 1076.2,277.2 1074,272.5C1071.8,267.9 1071.6,265.2 1071.1,263.8Z" fill="#4a86ff"/>
<path d="M1023.5,275.5C1023.7,272.5 1023.8,262.3 1024.9,257.9C1026,253.5 1027.7,251.4 1030.1,249.1C1032.4,246.8 1035.4,245.1 1038.9,244C1042.3,242.9 1047.2,242.4 1050.6,242.5C1054,242.6 1056.7,243.1 1059.4,244.7C1062,246.3 1064,248.6 1066.7,252C1069.4,255.5 1072.3,260.1 1075.5,265.2C1078.6,270.3 1084,279.9 1085.7,282.8C1084,280.8 1078.6,275 1075.5,271.1C1072.3,267.2 1069.6,262.5 1066.7,259.4C1063.8,256.2 1061.3,253.5 1057.9,252C1054.5,250.6 1049.8,250.1 1046.2,250.6C1042.5,251.1 1038.6,252.5 1035.9,255C1033.2,257.4 1032.1,261.8 1030.1,265.2C1028,268.6 1024.6,273.8 1023.5,275.5Z" fill="#1a4ef7"/>
<path d="M1038.9,254.2C1038.1,255.8 1035.3,258.3 1034.5,263.8C1033.6,269.2 1033.7,278.4 1033.7,287.2C1033.7,296 1034.2,306.7 1034.5,316.5C1034.7,326.3 1034.5,336 1035.2,345.8C1035.9,355.6 1036.8,365.8 1038.9,375.1C1040.9,384.4 1044,393.4 1047.6,401.5C1051.3,409.5 1055.9,416.8 1060.8,423.4C1065.7,430 1071.3,436.1 1076.9,441C1082.6,445.9 1089.4,450.1 1094.5,452.7C1099.6,455.3 1105.5,456 1107.7,456.7C1108.8,455.8 1112.7,453.9 1114.3,451.3C1115.9,448.7 1116.6,445.2 1117.2,441C1117.8,436.9 1118.2,432.5 1118,426.4C1117.7,420.3 1116.9,412.9 1115.8,404.4C1114.7,395.8 1113.2,384.9 1111.4,375.1C1109.5,365.3 1107.3,355.6 1104.8,345.8C1102.2,336 1099.2,325.5 1096,316.5C1092.8,307.5 1089.1,298.9 1085.7,291.6C1082.3,284.3 1078.9,278.2 1075.5,272.5C1072.1,266.9 1068.4,261.1 1065.2,257.9C1062,254.7 1059.6,254.4 1056.4,253.5C1053.3,252.6 1049.1,252.6 1046.2,252.8C1043.2,252.9 1040.1,254 1038.9,254.2Z" fill="#4a86ff" stroke="#1f63ff" stroke-width="1"/>
<path d="M1054.2,274C1052.6,275.7 1047.3,280.1 1044.7,284.3C1042.1,288.4 1040,294 1038.6,298.9C1037.1,303.8 1034.9,309.4 1036.2,313.6C1037.5,317.7 1041.6,313.6 1046.2,323.8C1050.8,334.1 1056.9,358 1063.8,375.1C1070.6,392.2 1080,412.9 1087.2,426.4C1094.4,439.8 1103.7,450.8 1107,455.7C1108,454.8 1111.9,453.1 1113.4,450.7C1115,448.2 1115.6,445.1 1116.2,441C1116.8,437 1117.2,432.5 1116.9,426.4C1116.7,420.3 1115.8,412.9 1114.7,404.4C1113.6,395.8 1112.2,384.9 1110.3,375.1C1108.5,365.3 1106.3,355.6 1103.7,345.8C1101.2,336 1098.1,325.4 1095,316.5C1091.8,307.6 1088.4,298.9 1084.7,292.3C1081,285.7 1077.6,280 1072.5,276.9C1067.5,273.9 1057.3,274.5 1054.2,274Z" fill="#6699ff"/>
<path d="M1046.9,304C1046.5,306.1 1045.1,310.8 1044.7,316.5C1044.3,322.2 1044.2,331.1 1044.7,338.5C1045.2,345.8 1046.2,353.1 1047.6,360.4C1049.1,367.8 1050.8,375.1 1053.5,382.4C1056.2,389.7 1059.8,397.6 1063.8,404.4C1067.7,411.2 1072.3,418.1 1076.9,423.4C1081.6,428.8 1087.1,433.1 1091.6,436.6C1096.1,440.1 1102,443 1104,444.2C1103.2,441.3 1101.2,433 1098.9,426.4C1096.6,419.7 1092.8,411.7 1090.1,404.4C1087.4,397.1 1085.2,389.7 1082.8,382.4C1080.4,375.1 1077.7,367.8 1075.5,360.4C1073.3,353.1 1071.8,344.8 1069.6,338.5C1067.4,332.1 1065,327.2 1062.3,322.4C1059.6,317.5 1056.1,312.2 1053.5,309.2C1050.9,306.1 1048,304.9 1046.9,304Z" fill="#2b70ff"/>
</g>
<g id="fruit">
<path d="M1307.6,1084.8L1308.4,1085.1L1309.5,1085.5L1310.7,1085.9L1312.1,1086.3L1313.6,1086.8L1315.1,1087.3L1316.7,1087.8L1318.3,1088.4L1319.9,1089L1321.4,1089.6L1322.8,1090.3L1324.1,1090.9L1325.3,1091.6L1326.6,1092.4L1327.8,1093.2L1329.1,1094L1330.3,1094.8L1331.6,1095.7L1332.8,1096.6L1334,1097.6L1335.2,1098.6L1336.3,1099.6L1337.4,1100.6L1338.5,1101.7L1339.5,1102.7L1340.6,1103.9L1341.6,1105.1L1342.6,1106.3L1343.6,1107.6L1344.5,1108.9L1345.5,1110.2L1346.5,1111.6L1347.4,1112.9L1348.3,1114.3L1349.2,1115.7L1350.1,1117L1350.9,1118.3L1351.7,1119.6L1352.5,1120.8L1353.2,1122.1L1354,1123.4L1354.7,1124.7L1355.4,1126L1356.1,1127.3L1356.8,1128.6L1357.5,1129.9L1358.1,1131.2L1358.8,1132.5L1359.5,1133.9L1360.2,1135.2L1360.8,1136.5L1361.5,1137.8L1362.1,1139.1L1362.8,1140.4L1363.4,1141.6L1363.9,1142.9L1364.5,1144.2L1365,1145.4L1365.5,1146.6L1365.9,1147.8L1366.4,1149.1L1366.8,1150.3L1367.2,1151.5L1367.6,1152.7L1367.9,1154L1368.3,1155.2L1368.6,1156.5L1368.9,1157.7L1369.3,1159L1369.6,1160.3L1369.9,1161.6L1370.2,1162.9L1370.5,1164.1L1370.7,1165.4L1371,1166.7L1371.3,1168.1L1371.5,1169.4L1371.8,1170.7L1372,1172.1L1372.2,1173.4L1372.4,1174.6L1372.6,1175.9L1372.8,1177.1L1373,1178.2L1373.1,1179.3L1373.3,1180.4L1373.4,1181.4L1373.5,1182.5L1373.6,1183.5L1373.7,1184.5L1373.8,1185.4L1373.8,1186.3L1373.9,1187.1L1373.9,1187.9L1374,1188.5L1374,1189.1L1387.4,1187.2L1387.3,1186.7L1387.2,1186.1L1387,1185.4L1386.9,1184.6L1386.7,1183.7L1386.6,1182.8L1386.4,1181.7L1386.2,1180.7L1386,1179.5L1385.8,1178.4L1385.5,1177.2L1385.3,1176.1L1385.1,1174.9L1384.8,1173.7L1384.6,1172.4L1384.3,1171.1L1384.1,1169.8L1383.8,1168.4L1383.5,1167L1383.2,1165.6L1382.9,1164.2L1382.5,1162.8L1382.2,1161.4L1381.8,1160L1381.5,1158.7L1381.1,1157.3L1380.8,1156L1380.4,1154.7L1380,1153.3L1379.6,1151.9L1379.2,1150.6L1378.7,1149.2L1378.2,1147.8L1377.7,1146.4L1377.2,1145L1376.6,1143.6L1376,1142.2L1375.4,1140.8L1374.7,1139.4L1374,1138L1373.3,1136.7L1372.5,1135.3L1371.8,1134L1371.1,1132.7L1370.3,1131.4L1369.5,1130.1L1368.8,1128.8L1368,1127.5L1367.3,1126.2L1366.5,1124.9L1365.7,1123.6L1364.9,1122.3L1364.1,1120.9L1363.3,1119.6L1362.5,1118.3L1361.6,1116.9L1360.7,1115.6L1359.8,1114.3L1358.9,1112.9L1357.9,1111.6L1356.9,1110.3L1355.9,1108.9L1354.9,1107.6L1353.9,1106.2L1352.8,1104.8L1351.7,1103.4L1350.5,1102L1349.4,1100.6L1348.2,1099.3L1346.9,1098L1345.7,1096.7L1344.4,1095.5L1343,1094.3L1341.7,1093.2L1340.4,1092.2L1339,1091.1L1337.6,1090.1L1336.2,1089.2L1334.7,1088.2L1333.3,1087.4L1331.8,1086.5L1330.3,1085.7L1328.9,1084.9L1327.4,1084.2L1325.8,1083.5L1324,1082.9L1322.3,1082.3L1320.5,1081.8L1318.8,1081.3L1317,1080.8L1315.4,1080.4L1313.8,1080L1312.4,1079.7L1311.2,1079.5L1310.1,1079.2L1309.3,1079Z" fill="#7a665c"/>
<path d="M1275.4,1089.1C1277.8,1087.5 1284.6,1082.1 1289.6,1079.1C1294.5,1076.1 1300,1073.2 1305.3,1071.2C1310.5,1069.2 1318.4,1067.8 1321,1067.1C1320.5,1068.6 1319.6,1073.2 1317.9,1075.9C1316.1,1078.7 1311.8,1082.2 1310.6,1083.5C1308.7,1084.4 1303,1087.9 1299,1089.1C1295,1090.3 1290.4,1090.7 1286.4,1090.7C1282.5,1090.7 1277.3,1089.4 1275.4,1089.1Z" fill="#86695f"/>
<path d="M1373.8,1185.4C1367.4,1181.3 1357.1,1187.1 1349.1,1190.2C1341.1,1193.3 1333.1,1197.9 1325.8,1203.9C1318.5,1209.8 1311.1,1217.6 1305.3,1225.8C1299.4,1234.1 1294.2,1244.6 1290.9,1253.3C1287.5,1261.9 1285.7,1269.5 1285.1,1277.9C1284.5,1286.4 1285.4,1295.1 1287.4,1304C1289.4,1312.9 1292.7,1323 1297,1331.4C1301.4,1339.9 1307.3,1348.1 1313.5,1354.7C1319.7,1361.4 1327,1367.3 1334.1,1371.2C1341.1,1375.1 1349.6,1377.1 1356,1378.3C1362.4,1379.5 1368.2,1378.8 1372.5,1378.3C1376.7,1377.9 1378.4,1382.3 1381.4,1375.6C1384.3,1368.9 1388.6,1354.6 1390.3,1338.3C1392,1322 1392.1,1298.5 1391.7,1277.9C1391.2,1257.4 1390.5,1230.3 1387.5,1214.9C1384.6,1199.4 1380.2,1189.5 1373.8,1185.4Z" fill="#848c35"/>
<path d="M1388.9,1185.4C1395.1,1181.1 1405.6,1186.6 1413.6,1189.5C1421.6,1192.3 1429.6,1196.9 1436.9,1202.5C1444.2,1208.1 1451.3,1215.1 1457.5,1223.1C1463.7,1231.1 1469.9,1241.4 1473.9,1250.5C1477.9,1259.7 1480.6,1269 1481.5,1277.9C1482.4,1286.9 1481.4,1295.1 1479.4,1304C1477.5,1312.9 1474.2,1322.7 1469.8,1331.4C1465.5,1340.1 1459.5,1349.3 1453.4,1356.1C1447.2,1363 1439.9,1368.6 1432.8,1372.6C1425.7,1376.6 1417.7,1379 1410.9,1380.1C1404,1381.2 1396.6,1379.9 1391.7,1379.2C1386.7,1378.4 1384.3,1382.4 1381.4,1375.6C1378.4,1368.8 1375.3,1354.6 1373.8,1338.3C1372.3,1322 1372,1298.5 1372.5,1277.9C1372.9,1257.4 1373.8,1230.3 1376.6,1214.9C1379.3,1199.4 1382.7,1189.6 1388.9,1185.4Z" fill="#848c35"/>
<path d="M1334.7,1204.6C1331.4,1207.9 1320.7,1216.8 1314.9,1224.5C1309,1232.1 1303.6,1241.6 1299.8,1250.5C1295.9,1259.4 1292.7,1269 1291.8,1277.9C1290.9,1286.9 1292,1295.1 1294.3,1304C1296.5,1312.9 1300.7,1323.4 1305.3,1331.4C1309.8,1339.4 1315.3,1346.9 1321.7,1352C1328.1,1357.1 1340,1360.6 1343.7,1362.3C1340.7,1358.3 1330.4,1347.3 1325.8,1338.3C1321.3,1329.3 1318.2,1318.2 1316.2,1308.1C1314.3,1298.1 1313.9,1288 1314.2,1277.9C1314.4,1267.9 1315.7,1256.9 1317.6,1247.8C1319.5,1238.6 1323,1230.3 1325.8,1223.1C1328.7,1215.9 1333.3,1207.7 1334.7,1204.6Z" fill="#929f3c"/>
<path d="M1425.3,1204.6C1429,1207.9 1441.4,1216.8 1447.9,1224.5C1454.4,1232.1 1460,1241.6 1464.3,1250.5C1468.7,1259.4 1472.7,1269 1473.9,1277.9C1475.2,1286.9 1473.9,1295.1 1471.9,1304C1469.8,1312.9 1466.5,1323 1461.6,1331.4C1456.7,1339.9 1450.5,1348.9 1442.4,1354.7C1434.3,1360.6 1417.8,1364.5 1412.9,1366.4C1416.9,1361.7 1431.1,1348 1436.9,1338.3C1442.7,1328.6 1445.6,1318.2 1447.9,1308.1C1450.2,1298.1 1450.7,1288 1450.6,1277.9C1450.5,1267.9 1449.3,1256.9 1447.2,1247.8C1445.1,1238.6 1441.9,1230.3 1438.3,1223.1C1434.6,1215.9 1427.4,1207.7 1425.3,1204.6Z" fill="#929f3c"/>
<ellipse cx="1382.7" cy="1280.5" rx="56" ry="92.5" fill="#93b63a" stroke="#666b1c" stroke-width="6"/>
</g>
<g id="openfruit">
<path d="M1647.1,1185.8C1651.7,1187.3 1665.4,1190.7 1674.6,1194.7C1683.7,1198.7 1693.8,1204.7 1702,1209.8C1710.2,1214.8 1718.2,1220.5 1723.9,1224.9C1729.7,1229.2 1733.3,1231.7 1736.3,1235.8C1739.3,1239.9 1739.7,1245.7 1741.8,1249.5C1743.8,1253.4 1747,1255.9 1748.6,1259.1C1750.2,1262.3 1750.9,1267.1 1751.4,1268.7C1750.9,1271 1750,1278.3 1748.6,1282.5C1747.3,1286.6 1746.3,1288.2 1743.1,1293.4C1739.9,1298.7 1734.5,1307.6 1729.4,1314C1724.4,1320.4 1718,1326.3 1713,1331.8C1707.9,1337.3 1704.5,1343.3 1699.3,1346.9C1694,1350.6 1684.4,1352.6 1681.4,1353.8C1678,1339.1 1666.6,1294 1660.9,1266C1655.1,1238 1649.4,1199.1 1647.1,1185.8Z" fill="#80862e"/>
<path d="M1606,1211.1C1604.4,1213.4 1600.5,1221.2 1596.4,1224.9C1592.3,1228.5 1586.6,1230.3 1581.3,1233.1C1576.1,1235.8 1571,1237.2 1564.9,1241.3C1558.7,1245.4 1550,1251.8 1544.3,1257.8C1538.6,1263.7 1533.2,1271.9 1530.6,1277C1527.9,1282 1528.6,1286.1 1528.2,1287.9C1532.1,1288.9 1539.3,1299.4 1551.1,1293.4C1563,1287.5 1590,1266 1599.1,1252.3C1608.3,1238.6 1604.9,1218 1606,1211.1Z" fill="#80862e"/>
<path d="M1673.9,1260.5C1679.7,1259.5 1697.5,1256.2 1708.9,1254.3C1720.2,1252.4 1736.5,1250 1742,1249.1C1742,1249.5 1747.3,1249.2 1741.8,1251.2C1736.2,1253.2 1718.9,1258.2 1708.9,1261.2C1698.8,1264.2 1687.3,1268.6 1681.4,1269.4C1675.6,1270.2 1675.1,1267.5 1673.9,1266C1672.6,1264.5 1673.9,1261.4 1673.9,1260.5Z" fill="#5f6620"/>
<path d="M1647.1,1185.8C1641.9,1185.2 1634.8,1186.6 1629.3,1188.5C1623.8,1190.5 1618.6,1193.7 1614.2,1197.4C1609.9,1201.2 1606.2,1206.6 1603.3,1211.1C1600.3,1215.7 1598.2,1219.8 1596.4,1224.9C1594.6,1229.9 1595.3,1237.7 1592.3,1241.3C1589.3,1245 1583.6,1244.5 1578.6,1246.8C1573.5,1249.1 1567.6,1251.8 1562.1,1255C1556.6,1258.2 1550.5,1262.3 1545.7,1266C1540.9,1269.7 1536.2,1273.3 1533.3,1277C1530.5,1280.6 1529,1284.1 1528.5,1287.9C1528.1,1291.8 1528.6,1296.2 1530.6,1300.3C1532.5,1304.4 1536.1,1309 1540.2,1312.6C1544.3,1316.3 1550,1319.7 1555.3,1322.2C1560.5,1324.7 1566,1326.6 1571.7,1327.7C1577.4,1328.9 1583.8,1329.4 1589.5,1329.1C1595.3,1328.7 1602.2,1326.6 1606,1325.7C1609.8,1324.7 1610.1,1322.5 1612.2,1323.3C1614.2,1324.1 1615.9,1327.7 1618.3,1330.5C1620.7,1333.2 1622.9,1337.1 1626.6,1340.1C1630.2,1343 1635,1346 1640.3,1348.3C1645.5,1350.6 1651.9,1352.7 1658.1,1353.8C1664.3,1354.8 1671.6,1355.4 1677.3,1354.5C1683,1353.5 1688.3,1351.1 1692.4,1348.3C1696.5,1345.4 1699.7,1341.7 1702,1337.3C1704.3,1333 1705.7,1327.3 1706.1,1322.2C1706.6,1317.2 1705.9,1311.9 1704.7,1307.1C1703.6,1302.3 1701.8,1298 1699.3,1293.4C1696.7,1288.9 1693.1,1283.6 1689.7,1279.7C1686.2,1275.8 1681.3,1272.9 1678.7,1270.1C1676.1,1267.4 1674.2,1266.2 1673.9,1263.3C1673.5,1260.3 1675.7,1256.9 1676.6,1252.3C1677.5,1247.7 1679.3,1241.3 1679.4,1235.8C1679.5,1230.3 1678.8,1224.9 1677.3,1219.4C1675.8,1213.9 1673.2,1207.5 1670.5,1202.9C1667.7,1198.3 1664.7,1194.8 1660.9,1191.9C1657,1189.1 1652.4,1186.3 1647.1,1185.8Z" fill="#a2b477"/>
<clipPath id="cav0"><path d="M1641.7,1205.4C1638.7,1208.2 1628.2,1216.1 1623.8,1222.1C1619.5,1228.1 1616.7,1234.9 1615.6,1241.3C1614.5,1247.7 1614.9,1254.9 1617,1260.5C1619.1,1266.2 1626.3,1272.7 1628.2,1275.2C1631.4,1273.7 1642.6,1270.7 1647.1,1266C1651.7,1261.3 1653.7,1253.2 1655.4,1246.8C1657.1,1240.4 1658.1,1233.5 1657.4,1227.6C1656.7,1221.7 1653.9,1214.8 1651.3,1211.1C1648.6,1207.4 1643.3,1206.3 1641.7,1205.4Z"/></clipPath>
<path d="M1641.7,1205.4C1638.7,1208.2 1628.2,1216.1 1623.8,1222.1C1619.5,1228.1 1616.7,1234.9 1615.6,1241.3C1614.5,1247.7 1614.9,1254.9 1617,1260.5C1619.1,1266.2 1626.3,1272.7 1628.2,1275.2C1631.4,1273.7 1642.6,1270.7 1647.1,1266C1651.7,1261.3 1653.7,1253.2 1655.4,1246.8C1657.1,1240.4 1658.1,1233.5 1657.4,1227.6C1656.7,1221.7 1653.9,1214.8 1651.3,1211.1C1648.6,1207.4 1643.3,1206.3 1641.7,1205.4Z" fill="#e8f3c3"/>
<clipPath id="cav1"><path d="M1550.9,1286.6C1553.2,1284.1 1558.9,1275.1 1564.9,1271.5C1570.8,1267.8 1579.5,1265.1 1586.8,1264.6C1594.1,1264.2 1602.9,1266.2 1608.7,1268.7C1614.6,1271.3 1619.8,1277.9 1622,1279.7C1619.8,1282 1613.7,1289.5 1608.7,1293.4C1603.8,1297.3 1598,1301.1 1592.3,1303C1586.6,1305 1580.2,1306 1574.5,1305.1C1568.7,1304.2 1561.9,1300.6 1558,1297.5C1554.1,1294.5 1552.1,1288.4 1550.9,1286.6Z"/></clipPath>
<path d="M1550.9,1286.6C1553.2,1284.1 1558.9,1275.1 1564.9,1271.5C1570.8,1267.8 1579.5,1265.1 1586.8,1264.6C1594.1,1264.2 1602.9,1266.2 1608.7,1268.7C1614.6,1271.3 1619.8,1277.9 1622,1279.7C1619.8,1282 1613.7,1289.5 1608.7,1293.4C1603.8,1297.3 1598,1301.1 1592.3,1303C1586.6,1305 1580.2,1306 1574.5,1305.1C1568.7,1304.2 1561.9,1300.6 1558,1297.5C1554.1,1294.5 1552.1,1288.4 1550.9,1286.6Z" fill="#e8f3c3"/>
<clipPath id="cav2"><path d="M1627.7,1279.7C1630.9,1279.5 1640.9,1277.2 1647.1,1278.3C1653.4,1279.5 1659.9,1282.9 1665,1286.6C1670,1290.2 1674.1,1295.5 1677.3,1300.3C1680.5,1305.1 1683.2,1310.5 1684.2,1315.4C1685.1,1320.3 1683.3,1327.4 1683.1,1329.8C1681.2,1330 1676.7,1331.9 1671.8,1331.1C1667,1330.3 1659.5,1328.3 1654,1325C1648.5,1321.7 1643,1316.1 1638.9,1311.3C1634.8,1306.5 1631.2,1301.4 1629.3,1296.2C1627.4,1290.9 1627.9,1282.5 1627.7,1279.7Z"/></clipPath>
<path d="M1627.7,1279.7C1630.9,1279.5 1640.9,1277.2 1647.1,1278.3C1653.4,1279.5 1659.9,1282.9 1665,1286.6C1670,1290.2 1674.1,1295.5 1677.3,1300.3C1680.5,1305.1 1683.2,1310.5 1684.2,1315.4C1685.1,1320.3 1683.3,1327.4 1683.1,1329.8C1681.2,1330 1676.7,1331.9 1671.8,1331.1C1667,1330.3 1659.5,1328.3 1654,1325C1648.5,1321.7 1643,1316.1 1638.9,1311.3C1634.8,1306.5 1631.2,1301.4 1629.3,1296.2C1627.4,1290.9 1627.9,1282.5 1627.7,1279.7Z" fill="#e8f3c3"/>
<g clip-path="url(#cav0)">
<path d="M1622.5,1259.1C1622.7,1256.9 1626.6,1256.9 1627.9,1257.8C1629.3,1258.7 1629.1,1262.8 1630.7,1264.6C1632.3,1266.5 1637.1,1267.1 1637.5,1268.7C1638,1270.3 1635.3,1273.8 1633.4,1274.2C1631.6,1274.7 1628.4,1274 1626.6,1271.5C1624.7,1269 1622.2,1261.4 1622.5,1259.1Z" fill="#fffdf2" stroke="#e8cfa0" stroke-width="0.8"/>
</g>
<g clip-path="url(#cav1)">
<path d="M1606,1279.7C1607.8,1278.6 1612.4,1277.7 1614.2,1278.3C1616.1,1279 1617.4,1282.2 1617,1283.8C1616.5,1285.4 1613.3,1287 1611.5,1287.9C1609.7,1288.9 1607.4,1289.8 1606,1289.3C1604.6,1288.9 1603.3,1286.8 1603.3,1285.2C1603.3,1283.6 1604.2,1280.9 1606,1279.7Z" fill="#fffdf2" stroke="#e8cfa0" stroke-width="0.8"/>
</g>
<g clip-path="url(#cav2)">
<path d="M1633.4,1281.1C1634.7,1279.9 1638.2,1279 1640.3,1279.7C1642.3,1280.4 1645.1,1283.4 1645.8,1285.2C1646.5,1287 1645.8,1290 1644.4,1290.7C1643,1291.4 1639.5,1290 1637.5,1289.3C1635.6,1288.6 1633.4,1287.9 1632.7,1286.6C1632.1,1285.2 1632.2,1282.2 1633.4,1281.1Z" fill="#fffdf2" stroke="#e8cfa0" stroke-width="0.8"/>
</g>
<g clip-path="url(#cav0)"><g transform="translate(1647.8 1228.3) rotate(15)">
<ellipse rx="11.4" ry="15.4" fill="#6e360d"/>
<ellipse cx="1.4" cy="-0.6" rx="9.6" ry="13.3" fill="#8f4a0b"/>
<ellipse cx="3.2" cy="0" rx="6.3" ry="9.2" fill="#a05508"/>
</g>
<circle cx="1653.3" cy="1229" r="2.3" fill="#fff"/></g>
<g clip-path="url(#cav0)"><g transform="translate(1627.3 1243.4) rotate(-20)">
<ellipse rx="13.5" ry="17.3" fill="#6e360d"/>
<ellipse cx="1.6" cy="-0.7" rx="11.3" ry="14.9" fill="#8f4a0b"/>
<ellipse cx="3.8" cy="0" rx="7.4" ry="10.4" fill="#a05508"/>
</g>
<circle cx="1630.7" cy="1242" r="2.3" fill="#fff"/></g>
<g clip-path="url(#cav0)"><g transform="translate(1641.9 1255.7) rotate(30)">
<ellipse rx="14.4" ry="13.9" fill="#6e360d"/>
<ellipse cx="1.7" cy="-0.6" rx="12.1" ry="12" fill="#8f4a0b"/>
<ellipse cx="4" cy="0" rx="7.9" ry="8.4" fill="#a05508"/>
</g>
<circle cx="1645.8" cy="1256.1" r="2.3" fill="#fff"/></g>
<g clip-path="url(#cav1)"><g transform="translate(1567.6 1280.4) rotate(10)">
<ellipse rx="16.4" ry="13.2" fill="#6e360d"/>
<ellipse cx="2" cy="-0.5" rx="13.8" ry="11.4" fill="#8f4a0b"/>
<ellipse cx="4.6" cy="0" rx="9" ry="7.9" fill="#a05508"/>
</g>
<circle cx="1566.5" cy="1276.7" r="2.3" fill="#fff"/></g>
<g clip-path="url(#cav1)"><g transform="translate(1596.4 1274.9) rotate(15)">
<ellipse rx="16.4" ry="12.6" fill="#6e360d"/>
<ellipse cx="2" cy="-0.5" rx="13.8" ry="10.9" fill="#8f4a0b"/>
<ellipse cx="4.6" cy="0" rx="9" ry="7.6" fill="#a05508"/>
</g>
<circle cx="1596.1" cy="1268.7" r="2.3" fill="#fff"/></g>
<g clip-path="url(#cav1)"><g transform="translate(1589.5 1295.9) rotate(-10)">
<ellipse rx="15.8" ry="11.4" fill="#6e360d"/>
<ellipse cx="1.9" cy="-0.5" rx="13.3" ry="9.8" fill="#8f4a0b"/>
<ellipse cx="4.4" cy="0" rx="8.7" ry="6.9" fill="#a05508"/>
</g>
<circle cx="1586.1" cy="1295.9" r="2.3" fill="#fff"/></g>
<g clip-path="url(#cav2)"><g transform="translate(1660.9 1291) rotate(20)">
<ellipse rx="16.4" ry="11.2" fill="#6e360d"/>
<ellipse cx="2" cy="-0.4" rx="13.8" ry="9.6" fill="#8f4a0b"/>
<ellipse cx="4.6" cy="0" rx="9" ry="6.7" fill="#a05508"/>
</g>
<circle cx="1662.5" cy="1293.4" r="2.3" fill="#fff"/></g>
<g clip-path="url(#cav2)"><g transform="translate(1639.6 1304.4) rotate(-20)">
<ellipse rx="11.4" ry="16.4" fill="#6e360d"/>
<ellipse cx="1.4" cy="-0.7" rx="9.6" ry="14.1" fill="#8f4a0b"/>
<ellipse cx="3.2" cy="0" rx="6.3" ry="9.9" fill="#a05508"/>
</g>
<circle cx="1637.5" cy="1306" r="2.3" fill="#fff"/></g>
<g clip-path="url(#cav2)"><g transform="translate(1667 1317.8) rotate(-20)">
<ellipse rx="14.7" ry="15" fill="#6e360d"/>
<ellipse cx="1.8" cy="-0.6" rx="12.3" ry="12.9" fill="#8f4a0b"/>
<ellipse cx="4.1" cy="0" rx="8.1" ry="9" fill="#a05508"/>
</g>
<circle cx="1664.3" cy="1319.8" r="2.3" fill="#fff"/></g>
</g>
<g id="seeds">
<ellipse cx="1618.3" cy="1434.9" rx="8" ry="5" fill="#faf3d6" stroke="#e9c98a" stroke-width="1.2" transform="rotate(20 1618.3 1434.9)"/>
<g transform="translate(1593.1 1418.9) rotate(25)">
<ellipse rx="24.5" ry="21" fill="#74390d"/>
<ellipse cx="2.5" cy="-0.4" rx="20.6" ry="18.1" fill="#8f4a0b"/>
<ellipse cx="6.1" cy="1.1" rx="13.5" ry="12.6" fill="#a05508"/>
</g>
<circle cx="1594.4" cy="1413.5" r="3.4" fill="#fff"/>
<circle cx="1610.6" cy="1423.5" r="1.5" fill="#fff"/>
<ellipse cx="1654.3" cy="1465.7" rx="8" ry="5" fill="#faf3d6" stroke="#e9c98a" stroke-width="1.2" transform="rotate(80 1654.3 1465.7)"/>
<g transform="translate(1660 1436.1) rotate(5)">
<ellipse rx="21" ry="24.5" fill="#74390d"/>
<ellipse cx="2.1" cy="-0.5" rx="17.6" ry="21.1" fill="#8f4a0b"/>
<ellipse cx="5.2" cy="1.2" rx="11.6" ry="14.7" fill="#a05508"/>
</g>
<circle cx="1665.7" cy="1434.9" r="3.4" fill="#fff"/>
<circle cx="1662.6" cy="1454.1" r="1.5" fill="#fff"/>
<ellipse cx="1640.7" cy="1496.1" rx="8" ry="5" fill="#faf3d6" stroke="#e9c98a" stroke-width="1.2" transform="rotate(15 1640.7 1496.1)"/>
<g transform="translate(1614.2 1481.7) rotate(20)">
<ellipse rx="24.5" ry="21" fill="#74390d"/>
<ellipse cx="2.5" cy="-0.4" rx="20.6" ry="18.1" fill="#8f4a0b"/>
<ellipse cx="6.1" cy="1.1" rx="13.5" ry="12.6" fill="#a05508"/>
</g>
<circle cx="1614.7" cy="1476" r="3.4" fill="#fff"/>
<circle cx="1632.2" cy="1484.2" r="1.5" fill="#fff"/>
</g>
<g id="leaders">
<path d="M769.8,274.9L772.4,270.5L687.4,221L677.4,221Z" fill="#000"/>
<path d="M777.5,262.2L764.7,283L788.9,283.4Z" fill="#000"/>
<path d="M1129.6,364.8L1132.4,368.6L1296,249.8L1287.8,249.8Z" fill="#000"/>
<circle cx="1131" cy="366.7" r="5.2" fill="#000"/>
<path d="M748.1,468.1L749.3,463.5L448.6,381.7L447.4,386.3Z" fill="#000"/>
<circle cx="748.7" cy="465.8" r="5.2" fill="#000"/>
<path d="M576.8,940.4L577.2,935.6L418.8,920.6L418.4,925.4Z" fill="#000"/>
<circle cx="577" cy="938" r="5.2" fill="#000"/>
<path d="M612.6,1656L614.2,1651.4L528.5,1622.7L526.9,1627.3Z" fill="#000"/>
<circle cx="613.4" cy="1653.7" r="5.2" fill="#000"/>
<path d="M497.8,1897.2L499.4,1892.6L414.2,1864.3L412.6,1868.9Z" fill="#000"/>
<circle cx="498.6" cy="1894.9" r="5.2" fill="#000"/>
<path d="M1599.4,1491.5L1595.6,1488.5L1523.2,1579.6L1529.4,1579.6Z" fill="#000"/>
<circle cx="1597.5" cy="1490" r="5.2" fill="#000"/>
</g>
<g id="labels">
<text x="260" y="75" font-size="110" textLength="636.9" lengthAdjust="spacingAndGlyphs" text-anchor="start" stroke="#0a5c2e" stroke-width="0.7">inflorescence</text>
<text x="404" y="194" font-size="110" textLength="360.6" lengthAdjust="spacingAndGlyphs" text-anchor="start" stroke="#0a5c2e" stroke-width="0.7">raceme</text>
<path d="M390,136 C350,146.7 350,184.8 390,195.5 C364,183.7 364,147.8 390,136Z" fill="#7ab637"/>
<path d="M771,136 C811,146.7 811,184.8 771,195.5 C797,183.7 797,147.8 771,136Z" fill="#7ab637"/>
<text x="1262" y="228" font-size="110" textLength="269.2" lengthAdjust="spacingAndGlyphs" text-anchor="start" stroke="#0a5c2e" stroke-width="0.7">flower</text>
<text x="-6" y="366" font-size="110" textLength="424.9" lengthAdjust="spacingAndGlyphs" text-anchor="start" stroke="#0a5c2e" stroke-width="0.7">flowering</text>
<text x="92" y="469" font-size="110" textLength="219.6" lengthAdjust="spacingAndGlyphs" text-anchor="start" stroke="#0a5c2e" stroke-width="0.7">stem</text>
<text x="226.7" y="949.4" font-size="110" textLength="167.3" lengthAdjust="spacingAndGlyphs" text-anchor="start" stroke="#0a5c2e" stroke-width="0.7">leaf</text>
<text x="1415" y="909" font-size="110" textLength="175.2" lengthAdjust="spacingAndGlyphs" text-anchor="start" stroke="#0a5c2e" stroke-width="0.7">fruit</text>
<text x="1310" y="1021.4" font-size="110" textLength="396.6" lengthAdjust="spacingAndGlyphs" text-anchor="start" stroke="#0a5c2e" stroke-width="0.7">capsule</text>
<path d="M1303.7,963.4 C1264.5,973.9 1264.5,1011.1 1303.7,1021.6 C1278.5,1010.1 1278.5,974.9 1303.7,963.4Z" fill="#4c9a3c"/>
<path d="M1709,963.4 C1748.5,973.9 1748.5,1011.1 1709,1021.6 C1734.5,1010.1 1734.5,974.9 1709,963.4Z" fill="#4c9a3c"/>
<text x="297" y="1651.4" font-size="110" textLength="219.2" lengthAdjust="spacingAndGlyphs" text-anchor="start" stroke="#0a5c2e" stroke-width="0.7">bulb</text>
<text x="1354" y="1661.6" font-size="110" textLength="233.5" lengthAdjust="spacingAndGlyphs" text-anchor="start" stroke="#0a5c2e" stroke-width="0.7">seed</text>
<text x="173" y="1894.9" font-size="110" textLength="233.6" lengthAdjust="spacingAndGlyphs" text-anchor="start" stroke="#0a5c2e" stroke-width="0.7">roots</text>
</g>
</svg>
</body></html>
